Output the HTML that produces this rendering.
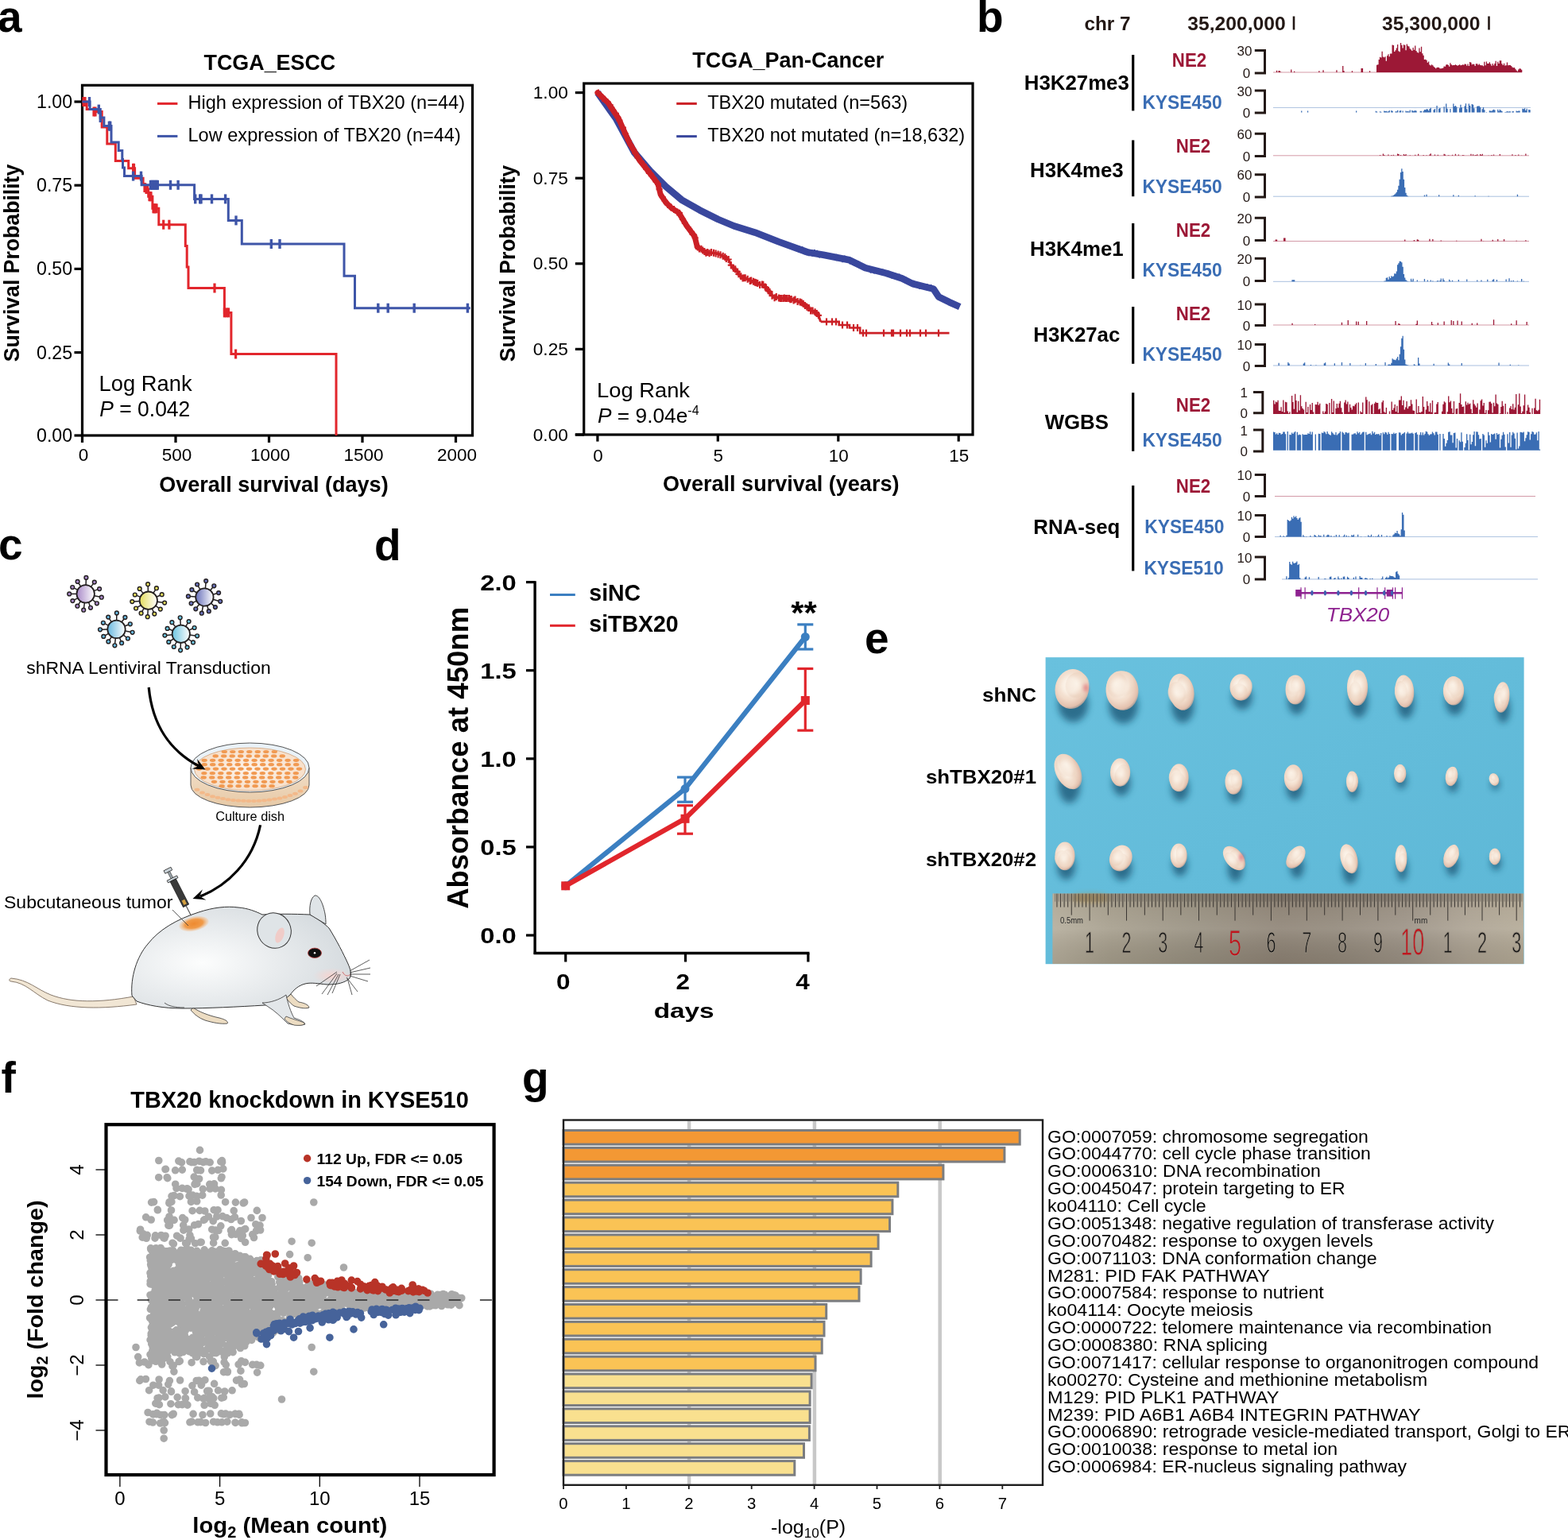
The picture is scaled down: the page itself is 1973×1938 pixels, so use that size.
<!DOCTYPE html>
<html><head><meta charset="utf-8"><title>Figure</title>
<style>html,body{margin:0;padding:0;background:#fff;overflow:hidden;} svg{display:block;} text{font-family:"Liberation Sans", Arial, Helvetica, sans-serif;}</style>
</head><body>
<svg width="1973" height="1938" viewBox="0 0 1973 1938">
<rect width="1973" height="1938" fill="#fff"/>
<text x="-3.0" y="39.5" font-size="55" font-weight="bold">a</text>
<text x="339.4" y="87.6" font-size="28.2" font-weight="bold" text-anchor="middle" textLength="165.7" lengthAdjust="spacingAndGlyphs">TCGA_ESCC</text>
<rect x="103.5" y="107.3" width="491.0" height="440.7" fill="none" stroke="#000" stroke-width="3.2"/>
<line x1="93.5" y1="128.0" x2="103.5" y2="128.0" stroke="#000" stroke-width="3.2"/>
<text x="91.2" y="136.0" font-size="23.2" text-anchor="end" textLength="45.2" lengthAdjust="spacingAndGlyphs">1.00</text>
<line x1="93.5" y1="233.2" x2="103.5" y2="233.2" stroke="#000" stroke-width="3.2"/>
<text x="91.2" y="241.2" font-size="23.2" text-anchor="end" textLength="45.2" lengthAdjust="spacingAndGlyphs">0.75</text>
<line x1="93.5" y1="338.4" x2="103.5" y2="338.4" stroke="#000" stroke-width="3.2"/>
<text x="91.2" y="346.4" font-size="23.2" text-anchor="end" textLength="45.2" lengthAdjust="spacingAndGlyphs">0.50</text>
<line x1="93.5" y1="443.6" x2="103.5" y2="443.6" stroke="#000" stroke-width="3.2"/>
<text x="91.2" y="451.6" font-size="23.2" text-anchor="end" textLength="45.2" lengthAdjust="spacingAndGlyphs">0.25</text>
<line x1="93.5" y1="548.0" x2="103.5" y2="548.0" stroke="#000" stroke-width="3.2"/>
<text x="91.2" y="556.0" font-size="23.2" text-anchor="end" textLength="45.2" lengthAdjust="spacingAndGlyphs">0.00</text>
<line x1="103.5" y1="548.0" x2="103.5" y2="557.0" stroke="#000" stroke-width="3.2"/>
<text x="105.0" y="580.4" font-size="22.5" text-anchor="middle">0</text>
<line x1="221.0" y1="548.0" x2="221.0" y2="557.0" stroke="#000" stroke-width="3.2"/>
<text x="222.5" y="580.4" font-size="22.5" text-anchor="middle">500</text>
<line x1="338.5" y1="548.0" x2="338.5" y2="557.0" stroke="#000" stroke-width="3.2"/>
<text x="340.0" y="580.4" font-size="22.5" text-anchor="middle">1000</text>
<line x1="456.0" y1="548.0" x2="456.0" y2="557.0" stroke="#000" stroke-width="3.2"/>
<text x="457.5" y="580.4" font-size="22.5" text-anchor="middle">1500</text>
<line x1="573.5" y1="548.0" x2="573.5" y2="557.0" stroke="#000" stroke-width="3.2"/>
<text x="575.0" y="580.4" font-size="22.5" text-anchor="middle">2000</text>
<text x="344.4" y="618.8" font-size="28.5" font-weight="bold" text-anchor="middle" textLength="288.5" lengthAdjust="spacingAndGlyphs">Overall survival (days)</text>
<text x="24.2" y="331.0" font-size="28.5" font-weight="bold" text-anchor="middle" textLength="248.5" lengthAdjust="spacingAndGlyphs" transform="rotate(-90 24.2 331.0)">Survival Probability</text>
<line x1="198.0" y1="130.4" x2="223.4" y2="130.4" stroke="#e2262c" stroke-width="3"/>
<line x1="198.0" y1="171.4" x2="223.4" y2="171.4" stroke="#3e55a8" stroke-width="3"/>
<text x="236.5" y="137.2" font-size="23.7" textLength="348.5" lengthAdjust="spacingAndGlyphs">High expression of TBX20 (n=44)</text>
<text x="236.5" y="178.0" font-size="23.7" textLength="343.3" lengthAdjust="spacingAndGlyphs">Low expression of TBX20 (n=44)</text>
<text x="124.6" y="491.8" font-size="27.6" textLength="117.0" lengthAdjust="spacingAndGlyphs">Log Rank</text>
<text x="125.3" y="524.0" font-size="27.6" textLength="114.0" lengthAdjust="spacingAndGlyphs"><tspan font-style="italic">P</tspan> = 0.042</text>
<path d="M103.5,128 H109.2 V137.6 H121.0 V140.5 H128.2 V160.0 H134.8 V180.9 H145.3 V202.6 H161.7 V211.8 H169.6 V224.2 H180.1 V232.0 H183.0 V238.0 H186.7 V247.2 H191.9 V262.3 H199.8 V282.7 H233.3 V309.6 H235.2 V336.0 H237.0 V362.5 H282.4 V393.4 H290.9 V445.5 H423.0 V548.0" stroke="#e2262c" stroke-width="3" fill="none"/>
<line x1="105.0" y1="122.0" x2="105.0" y2="134.0" stroke="#e2262c" stroke-width="3.2"/>
<line x1="107.0" y1="122.0" x2="107.0" y2="134.0" stroke="#e2262c" stroke-width="3.2"/>
<line x1="118.0" y1="134.5" x2="118.0" y2="146.5" stroke="#e2262c" stroke-width="3.2"/>
<line x1="120.0" y1="134.5" x2="120.0" y2="146.5" stroke="#e2262c" stroke-width="3.2"/>
<line x1="167.6" y1="205.8" x2="167.6" y2="217.8" stroke="#e2262c" stroke-width="3.2"/>
<line x1="168.5" y1="205.8" x2="168.5" y2="217.8" stroke="#e2262c" stroke-width="3.2"/>
<line x1="182.0" y1="230.0" x2="182.0" y2="242.0" stroke="#e2262c" stroke-width="3.2"/>
<line x1="184.0" y1="232.0" x2="184.0" y2="244.0" stroke="#e2262c" stroke-width="3.2"/>
<line x1="185.5" y1="232.0" x2="185.5" y2="244.0" stroke="#e2262c" stroke-width="3.2"/>
<line x1="188.0" y1="241.2" x2="188.0" y2="253.2" stroke="#e2262c" stroke-width="3.2"/>
<line x1="189.0" y1="241.2" x2="189.0" y2="253.2" stroke="#e2262c" stroke-width="3.2"/>
<line x1="190.0" y1="241.2" x2="190.0" y2="253.2" stroke="#e2262c" stroke-width="3.2"/>
<line x1="193.0" y1="256.3" x2="193.0" y2="268.3" stroke="#e2262c" stroke-width="3.2"/>
<line x1="194.0" y1="256.3" x2="194.0" y2="268.3" stroke="#e2262c" stroke-width="3.2"/>
<line x1="195.5" y1="256.3" x2="195.5" y2="268.3" stroke="#e2262c" stroke-width="3.2"/>
<line x1="197.0" y1="256.3" x2="197.0" y2="268.3" stroke="#e2262c" stroke-width="3.2"/>
<line x1="205.7" y1="276.7" x2="205.7" y2="288.7" stroke="#e2262c" stroke-width="3.2"/>
<line x1="212.9" y1="276.7" x2="212.9" y2="288.7" stroke="#e2262c" stroke-width="3.2"/>
<line x1="270.0" y1="356.5" x2="270.0" y2="368.5" stroke="#e2262c" stroke-width="3.2"/>
<line x1="282.4" y1="387.4" x2="282.4" y2="399.4" stroke="#e2262c" stroke-width="3.2"/>
<line x1="285.0" y1="387.4" x2="285.0" y2="399.4" stroke="#e2262c" stroke-width="3.2"/>
<line x1="287.5" y1="387.4" x2="287.5" y2="399.4" stroke="#e2262c" stroke-width="3.2"/>
<line x1="296.6" y1="439.5" x2="296.6" y2="451.5" stroke="#e2262c" stroke-width="3.2"/>
<path d="M103.5,128 H113.1 V137.6 H126.3 V148.0 H130.9 V158.6 H140.0 V178.9 H149.2 V189.4 H153.8 V200.6 H154.5 V211.1 H156.5 V221.6 H178.1 V232.8 H244.6 V250.4 H287.3 V277.4 H304.3 V307.0 H433.0 V347.3 H446.5 V387.7 H591.8" stroke="#3e55a8" stroke-width="3" fill="none"/>
<line x1="112.5" y1="122.0" x2="112.5" y2="134.0" stroke="#3e55a8" stroke-width="3.4"/>
<line x1="124.3" y1="131.6" x2="124.3" y2="143.6" stroke="#3e55a8" stroke-width="3.4"/>
<line x1="126.3" y1="142.0" x2="126.3" y2="154.0" stroke="#3e55a8" stroke-width="3.4"/>
<line x1="137.4" y1="152.6" x2="137.4" y2="164.6" stroke="#3e55a8" stroke-width="3.4"/>
<line x1="138.7" y1="152.6" x2="138.7" y2="164.6" stroke="#3e55a8" stroke-width="3.4"/>
<line x1="167.6" y1="215.6" x2="167.6" y2="227.6" stroke="#3e55a8" stroke-width="3.4"/>
<line x1="177.5" y1="215.6" x2="177.5" y2="227.6" stroke="#3e55a8" stroke-width="3.4"/>
<line x1="189.5" y1="226.8" x2="189.5" y2="238.8" stroke="#3e55a8" stroke-width="3.4"/>
<line x1="191.0" y1="226.8" x2="191.0" y2="238.8" stroke="#3e55a8" stroke-width="3.4"/>
<line x1="192.5" y1="226.8" x2="192.5" y2="238.8" stroke="#3e55a8" stroke-width="3.4"/>
<line x1="194.0" y1="226.8" x2="194.0" y2="238.8" stroke="#3e55a8" stroke-width="3.4"/>
<line x1="195.5" y1="226.8" x2="195.5" y2="238.8" stroke="#3e55a8" stroke-width="3.4"/>
<line x1="197.0" y1="226.8" x2="197.0" y2="238.8" stroke="#3e55a8" stroke-width="3.4"/>
<line x1="198.3" y1="226.8" x2="198.3" y2="238.8" stroke="#3e55a8" stroke-width="3.4"/>
<line x1="214.5" y1="226.8" x2="214.5" y2="238.8" stroke="#3e55a8" stroke-width="3.4"/>
<line x1="224.1" y1="226.8" x2="224.1" y2="238.8" stroke="#3e55a8" stroke-width="3.4"/>
<line x1="245.7" y1="244.4" x2="245.7" y2="256.4" stroke="#3e55a8" stroke-width="3.4"/>
<line x1="251.7" y1="244.4" x2="251.7" y2="256.4" stroke="#3e55a8" stroke-width="3.4"/>
<line x1="253.0" y1="244.4" x2="253.0" y2="256.4" stroke="#3e55a8" stroke-width="3.4"/>
<line x1="266.5" y1="244.4" x2="266.5" y2="256.4" stroke="#3e55a8" stroke-width="3.4"/>
<line x1="283.6" y1="244.4" x2="283.6" y2="256.4" stroke="#3e55a8" stroke-width="3.4"/>
<line x1="297.0" y1="271.4" x2="297.0" y2="283.4" stroke="#3e55a8" stroke-width="3.4"/>
<line x1="341.3" y1="301.0" x2="341.3" y2="313.0" stroke="#3e55a8" stroke-width="3.4"/>
<line x1="352.0" y1="301.0" x2="352.0" y2="313.0" stroke="#3e55a8" stroke-width="3.4"/>
<line x1="475.8" y1="381.7" x2="475.8" y2="393.7" stroke="#3e55a8" stroke-width="3.4"/>
<line x1="488.2" y1="381.7" x2="488.2" y2="393.7" stroke="#3e55a8" stroke-width="3.4"/>
<line x1="521.2" y1="381.7" x2="521.2" y2="393.7" stroke="#3e55a8" stroke-width="3.4"/>
<line x1="588.4" y1="381.7" x2="588.4" y2="393.7" stroke="#3e55a8" stroke-width="3.4"/>
<text x="991.8" y="85.2" font-size="27.3" font-weight="bold" text-anchor="middle" textLength="241.0" lengthAdjust="spacingAndGlyphs">TCGA_Pan-Cancer</text>
<rect x="734.7" y="105.0" width="489.3" height="442.0" fill="none" stroke="#000" stroke-width="3.2"/>
<line x1="723.8" y1="547.0" x2="734.7" y2="547.0" stroke="#000" stroke-width="3.2"/>
<line x1="723.8" y1="116.6" x2="734.7" y2="116.6" stroke="#000" stroke-width="3.2"/>
<text x="714.8" y="124.2" font-size="22.4" text-anchor="end" textLength="44.0" lengthAdjust="spacingAndGlyphs">1.00</text>
<line x1="723.8" y1="224.2" x2="734.7" y2="224.2" stroke="#000" stroke-width="3.2"/>
<text x="714.8" y="231.8" font-size="22.4" text-anchor="end" textLength="44.0" lengthAdjust="spacingAndGlyphs">0.75</text>
<line x1="723.8" y1="331.8" x2="734.7" y2="331.8" stroke="#000" stroke-width="3.2"/>
<text x="714.8" y="339.4" font-size="22.4" text-anchor="end" textLength="44.0" lengthAdjust="spacingAndGlyphs">0.50</text>
<line x1="723.8" y1="439.4" x2="734.7" y2="439.4" stroke="#000" stroke-width="3.2"/>
<text x="714.8" y="447.0" font-size="22.4" text-anchor="end" textLength="44.0" lengthAdjust="spacingAndGlyphs">0.25</text>
<line x1="723.8" y1="547.0" x2="734.7" y2="547.0" stroke="#000" stroke-width="3.2"/>
<text x="714.8" y="554.6" font-size="22.4" text-anchor="end" textLength="44.0" lengthAdjust="spacingAndGlyphs">0.00</text>
<line x1="751.9" y1="547.0" x2="751.9" y2="555.6" stroke="#000" stroke-width="3.2"/>
<text x="752.4" y="581.3" font-size="22.4" text-anchor="middle">0</text>
<line x1="903.3" y1="547.0" x2="903.3" y2="555.6" stroke="#000" stroke-width="3.2"/>
<text x="903.8" y="581.3" font-size="22.4" text-anchor="middle">5</text>
<line x1="1054.8" y1="547.0" x2="1054.8" y2="555.6" stroke="#000" stroke-width="3.2"/>
<text x="1055.3" y="581.3" font-size="22.4" text-anchor="middle">10</text>
<line x1="1206.2" y1="547.0" x2="1206.2" y2="555.6" stroke="#000" stroke-width="3.2"/>
<text x="1206.8" y="581.3" font-size="22.4" text-anchor="middle">15</text>
<text x="982.7" y="618.4" font-size="28.3" font-weight="bold" text-anchor="middle" textLength="297.5" lengthAdjust="spacingAndGlyphs">Overall survival (years)</text>
<text x="647.6" y="331.4" font-size="28.5" font-weight="bold" text-anchor="middle" textLength="247.5" lengthAdjust="spacingAndGlyphs" transform="rotate(-90 647.6 331.4)">Survival Probability</text>
<line x1="851.2" y1="130.4" x2="876.8" y2="130.4" stroke="#cb2026" stroke-width="3"/>
<line x1="851.2" y1="171.6" x2="876.8" y2="171.6" stroke="#39479d" stroke-width="3"/>
<text x="890.2" y="136.8" font-size="24.0" textLength="252.0" lengthAdjust="spacingAndGlyphs">TBX20 mutated (n=563)</text>
<text x="890.2" y="177.8" font-size="24.0" textLength="324.0" lengthAdjust="spacingAndGlyphs">TBX20 not mutated (n=18,632)</text>
<text x="751.0" y="500.1" font-size="26.3" textLength="117.0" lengthAdjust="spacingAndGlyphs">Log Rank</text>
<text x="752.0" y="531.5" font-size="26.3"><tspan font-style="italic">P</tspan> = 9.04e<tspan dy="-9.5" font-size="16">-4</tspan></text>
<polyline points="751.9,116.6 775.0,149.0 798.2,191.9 818.0,215.0 837.8,234.8 857.6,251.4 880.7,264.6 903.8,276.1 923.6,284.4 950.0,292.6 979.8,304.2 1016.1,317.4 1035.9,320.7 1069.0,327.3 1088.8,337.2 1115.2,343.8 1135.0,350.4 1148.2,357.0 1174.6,363.6 1181.2,373.6 1194.5,380.2 1207.7,386.1" fill="none" stroke="#39479d" stroke-width="8.6" stroke-linejoin="round"/>
<polyline points="751.9,116.6 765.1,129.2 778.3,149.0 791.5,178.7 804.8,201.8 818.0,218.3 827.9,231.5 831.2,244.8 837.8,254.7 844.4,261.3 854.3,267.9 864.2,284.4 874.1,297.6 877.4,310.8" fill="none" stroke="#cb2026" stroke-width="7" stroke-linejoin="round" stroke-linecap="round"/>
<polyline points="874.1,297.6 877.4,310.8 887.3,317.4 903.8,319.1 917.0,327.3 920.3,333.9 933.5,348.8 950.0,355.4 963.3,360.3 973.2,373.6 996.3,376.9 1009.5,380.2 1019.4,390.1 1029.3,395.0 1032.6,404.9" fill="none" stroke="#cb2026" stroke-width="3" stroke-linejoin="round"/>
<polyline points="1032.6,404.9 1055.7,404.9 1055.7,409.0 1069.0,409.0 1069.0,412.5 1082.2,412.5 1082.2,419.1 1194.5,419.1" fill="none" stroke="#cb2026" stroke-width="2.6"/>
<path d="M749.0,117.1h8M753.0,112.6v9M751.2,119.4h8M755.2,114.9v9M754.3,123.7h8M758.3,119.2v9M757.0,125.3h8M761.0,120.8v9M760.3,128.5h8M764.3,124.0v9M763.6,132.0h8M767.6,127.5v9M765.3,135.4h8M769.3,130.9v9M766.9,138.0h8M770.9,133.5v9M770.9,142.9h8M774.9,138.4v9M773.2,147.5h8M777.2,143.0v9M775.4,151.7h8M779.4,147.2v9M779.9,160.6h8M783.9,156.1v9M782.8,168.3h8M786.8,163.8v9M786.8,177.0h8M790.8,172.5v9M789.7,182.9h8M793.7,178.4v9M793.1,188.2h8M797.1,183.7v9M795.1,192.3h8M799.1,187.8v9M798.5,198.3h8M802.5,193.8v9M802.6,203.1h8M806.6,198.6v9M805.7,207.0h8M809.7,202.5v9M809.4,212.9h8M813.4,208.4v9M812.9,217.8h8M816.9,213.3v9M814.6,218.6h8M818.6,214.1v9M818.4,224.0h8M822.4,219.5v9M821.6,228.7h8M825.6,224.2v9M824.0,231.7h8M828.0,227.2v9M825.6,238.2h8M829.6,233.7v9M829.7,248.2h8M833.7,243.7v9M832.6,252.7h8M836.6,248.2v9M836.3,257.4h8M840.3,252.9v9M840.4,260.9h8M844.4,256.4v9M844.1,263.5h8M848.1,259.0v9M848.3,267.1h8M852.3,262.6v9M851.0,268.2h8M855.0,263.7v9M854.9,275.8h8M858.9,271.3v9M857.8,280.8h8M861.8,276.3v9M862.1,286.5h8M866.1,282.0v9M866.2,291.9h8M870.2,287.4v9M867.6,294.9h8M871.6,290.4v9M869.1,295.7h8M873.1,291.2v9M870.7,299.4h8M874.7,294.9v9M873.8,311.0h8M877.8,306.5v9M875.9,312.9h8M879.9,308.4v9M878.4,313.3h8M882.4,308.8v9M880.2,315.0h8M884.2,310.5v9M882.4,316.5h8M886.4,312.0v9M884.4,318.2h8M888.4,313.7v9M886.3,317.6h8M890.3,313.1v9M888.6,318.7h8M892.6,314.2v9M891.0,317.5h8M895.0,313.0v9M894.0,318.2h8M898.0,313.7v9M896.6,319.1h8M900.6,314.6v9M899.6,319.9h8M903.6,315.4v9M902.5,320.7h8M906.5,316.2v9M905.7,322.2h8M909.7,317.7v9M908.3,323.6h8M912.3,319.1v9M909.8,325.4h8M913.8,320.9v9M912.7,326.5h8M916.7,322.0v9M915.8,333.6h8M919.8,329.1v9M918.9,337.5h8M922.9,333.0v9M921.2,338.8h8M925.2,334.3v9M923.8,341.9h8M927.8,337.4v9M925.4,344.8h8M929.4,340.3v9M928.3,347.7h8M932.3,343.2v9M930.6,349.9h8M934.6,345.4v9M932.4,349.7h8M936.4,345.2v9M933.7,349.8h8M937.7,345.3v9M936.7,351.2h8M940.7,346.7v9M939.8,353.5h8M943.8,349.0v9M941.2,353.0h8M945.2,348.5v9M944.0,354.3h8M948.0,349.8v9M946.0,355.2h8M950.0,350.7v9M947.5,355.8h8M951.5,351.3v9M949.3,356.4h8M953.3,351.9v9M952.1,358.5h8M956.1,354.0v9M955.0,358.0h8M959.0,353.5v9M956.3,358.2h8M960.3,353.7v9M958.7,361.0h8M962.7,356.5v9M960.0,362.0h8M964.0,357.5v9M962.6,365.8h8M966.6,361.3v9M964.5,367.2h8M968.5,362.7v9M967.5,372.2h8M971.5,367.7v9M970.6,374.7h8M974.6,370.2v9M972.8,373.6h8M976.8,369.1v9M976.0,375.1h8M980.0,370.6v9M977.9,375.5h8M981.9,371.0v9M979.2,375.4h8M983.2,370.9v9M981.6,375.4h8M985.6,370.9v9M982.9,375.1h8M986.9,370.6v9M984.5,375.5h8M988.5,371.0v9M986.5,375.5h8M990.5,371.0v9M988.9,375.6h8M992.9,371.1v9M990.4,376.8h8M994.4,372.3v9M991.7,376.4h8M995.7,371.9v9M994.6,378.1h8M998.6,373.6v9M996.5,377.0h8M1000.5,372.5v9M999.6,379.5h8M1003.6,375.0v9M1002.6,379.9h8M1006.6,375.4v9M1004.5,380.8h8M1008.5,376.3v9M1006.7,382.2h8M1010.7,377.7v9M1008.9,384.4h8M1012.9,379.9v9M1011.4,386.2h8M1015.4,381.7v9M1013.8,387.5h8M1017.8,383.0v9M1016.1,390.9h8M1020.1,386.4v9M1018.5,391.0h8M1022.5,386.5v9M1021.6,392.8h8M1025.6,388.3v9M1023.8,394.6h8M1027.8,390.1v9M1025.9,396.8h8M1029.9,392.3v9" stroke="#cb2026" stroke-width="2.2" fill="none"/>
<path d="M1001.9,313.5h7M1005.4,309.3v8.4M1006.1,314.5h7M1009.6,310.3v8.4M1008.7,316.1h7M1012.2,311.9v8.4M1014.2,318.0h7M1017.7,313.8v8.4M1018.8,318.6h7M1022.3,314.4v8.4M1021.5,318.1h7M1025.0,313.9v8.4M1024.6,318.9h7M1028.1,314.7v8.4M1027.6,320.3h7M1031.1,316.1v8.4M1049.1,324.0h7M1052.6,319.8v8.4M1056.7,326.1h7M1060.2,321.9v8.4M1059.2,325.7h7M1062.7,321.5v8.4M1066.1,328.2h7M1069.6,324.0v8.4M1069.4,329.6h7M1072.9,325.4v8.4M1071.7,330.9h7M1075.2,326.7v8.4M1076.7,332.7h7M1080.2,328.5v8.4M1092.1,339.6h7M1095.6,335.4v8.4M1096.4,340.4h7M1099.9,336.2v8.4M1107.2,342.7h7M1110.7,338.5v8.4M1114.7,344.9h7M1118.2,340.7v8.4M1118.7,346.3h7M1122.2,342.1v8.4M1123.3,347.9h7M1126.8,343.7v8.4M1128.1,348.7h7M1131.6,344.5v8.4M1136.2,352.7h7M1139.7,348.5v8.4M1146.1,357.0h7M1149.6,352.8v8.4M1153.5,359.6h7M1157.0,355.4v8.4M1163.1,361.2h7M1166.6,357.0v8.4M1168.0,362.3h7M1171.5,358.1v8.4M1176.0,370.5h7M1179.5,366.3v8.4" stroke="#39479d" stroke-width="2" fill="none"/>
<line x1="1040.0" y1="400.4" x2="1040.0" y2="409.4" stroke="#cb2026" stroke-width="2.2"/>
<line x1="1047.0" y1="400.4" x2="1047.0" y2="409.4" stroke="#cb2026" stroke-width="2.2"/>
<line x1="1052.0" y1="400.4" x2="1052.0" y2="409.4" stroke="#cb2026" stroke-width="2.2"/>
<line x1="1060.0" y1="404.5" x2="1060.0" y2="413.5" stroke="#cb2026" stroke-width="2.2"/>
<line x1="1066.0" y1="404.5" x2="1066.0" y2="413.5" stroke="#cb2026" stroke-width="2.2"/>
<line x1="1074.0" y1="408.0" x2="1074.0" y2="417.0" stroke="#cb2026" stroke-width="2.2"/>
<line x1="1079.0" y1="408.0" x2="1079.0" y2="417.0" stroke="#cb2026" stroke-width="2.2"/>
<line x1="1086.0" y1="414.6" x2="1086.0" y2="423.6" stroke="#cb2026" stroke-width="2.2"/>
<line x1="1090.0" y1="414.6" x2="1090.0" y2="423.6" stroke="#cb2026" stroke-width="2.2"/>
<line x1="1112.0" y1="414.6" x2="1112.0" y2="423.6" stroke="#cb2026" stroke-width="2.2"/>
<line x1="1122.0" y1="414.6" x2="1122.0" y2="423.6" stroke="#cb2026" stroke-width="2.2"/>
<line x1="1124.0" y1="414.6" x2="1124.0" y2="423.6" stroke="#cb2026" stroke-width="2.2"/>
<line x1="1133.0" y1="414.6" x2="1133.0" y2="423.6" stroke="#cb2026" stroke-width="2.2"/>
<line x1="1141.0" y1="414.6" x2="1141.0" y2="423.6" stroke="#cb2026" stroke-width="2.2"/>
<line x1="1145.0" y1="414.6" x2="1145.0" y2="423.6" stroke="#cb2026" stroke-width="2.2"/>
<line x1="1158.0" y1="414.6" x2="1158.0" y2="423.6" stroke="#cb2026" stroke-width="2.2"/>
<line x1="1165.0" y1="414.6" x2="1165.0" y2="423.6" stroke="#cb2026" stroke-width="2.2"/>
<line x1="1181.0" y1="414.6" x2="1181.0" y2="423.6" stroke="#cb2026" stroke-width="2.2"/>
<text x="1229.0" y="39.5" font-size="55" font-weight="bold">b</text>
<text x="1364.5" y="38.2" font-size="24.5" font-weight="bold" fill="#231815" textLength="58.1" lengthAdjust="spacingAndGlyphs">chr 7</text>
<text x="1494.2" y="38.2" font-size="24.5" font-weight="bold" fill="#231815" textLength="123.5" lengthAdjust="spacingAndGlyphs">35,200,000</text>
<text x="1739.0" y="38.2" font-size="24.5" font-weight="bold" fill="#231815" textLength="123.5" lengthAdjust="spacingAndGlyphs">35,300,000</text>
<line x1="1628.0" y1="20.5" x2="1628.0" y2="37.5" stroke="#231815" stroke-width="2.6"/>
<line x1="1873.5" y1="20.5" x2="1873.5" y2="37.5" stroke="#231815" stroke-width="2.6"/>
<text x="1354.8" y="113.2" font-size="25.8" font-weight="bold" text-anchor="middle">H3K27me3</text>
<line x1="1425.7" y1="69.0" x2="1425.7" y2="139.4" stroke="#000" stroke-width="3.2"/>
<text x="1354.8" y="223.3" font-size="25.8" font-weight="bold" text-anchor="middle">H3K4me3</text>
<line x1="1425.7" y1="176.4" x2="1425.7" y2="247.2" stroke="#000" stroke-width="3.2"/>
<text x="1354.8" y="321.5" font-size="25.8" font-weight="bold" text-anchor="middle">H3K4me1</text>
<line x1="1425.7" y1="281.0" x2="1425.7" y2="350.8" stroke="#000" stroke-width="3.2"/>
<text x="1354.8" y="430.3" font-size="25.8" font-weight="bold" text-anchor="middle">H3K27ac</text>
<line x1="1425.7" y1="386.0" x2="1425.7" y2="457.8" stroke="#000" stroke-width="3.2"/>
<text x="1354.8" y="539.6" font-size="25.8" font-weight="bold" text-anchor="middle">WGBS</text>
<line x1="1425.7" y1="494.2" x2="1425.7" y2="567.8" stroke="#000" stroke-width="3.2"/>
<text x="1354.8" y="672.0" font-size="25.8" font-weight="bold" text-anchor="middle">RNA-seq</text>
<line x1="1425.7" y1="611.0" x2="1425.7" y2="718.5" stroke="#000" stroke-width="3.2"/>
<text x="1496.5" y="83.5" font-size="23.2" font-weight="bold" text-anchor="middle" fill="#9c1836" textLength="43.3" lengthAdjust="spacingAndGlyphs">NE2</text>
<text x="1487.5" y="137.2" font-size="23.2" font-weight="bold" text-anchor="middle" fill="#3a6db4" textLength="100.2" lengthAdjust="spacingAndGlyphs">KYSE450</text>
<text x="1501.5" y="191.6" font-size="23.2" font-weight="bold" text-anchor="middle" fill="#9c1836" textLength="43.3" lengthAdjust="spacingAndGlyphs">NE2</text>
<text x="1487.5" y="242.6" font-size="23.2" font-weight="bold" text-anchor="middle" fill="#3a6db4" textLength="100.2" lengthAdjust="spacingAndGlyphs">KYSE450</text>
<text x="1501.5" y="298.2" font-size="23.2" font-weight="bold" text-anchor="middle" fill="#9c1836" textLength="43.3" lengthAdjust="spacingAndGlyphs">NE2</text>
<text x="1487.5" y="348.1" font-size="23.2" font-weight="bold" text-anchor="middle" fill="#3a6db4" textLength="100.2" lengthAdjust="spacingAndGlyphs">KYSE450</text>
<text x="1501.5" y="403.2" font-size="23.2" font-weight="bold" text-anchor="middle" fill="#9c1836" textLength="43.3" lengthAdjust="spacingAndGlyphs">NE2</text>
<text x="1487.5" y="454.2" font-size="23.2" font-weight="bold" text-anchor="middle" fill="#3a6db4" textLength="100.2" lengthAdjust="spacingAndGlyphs">KYSE450</text>
<text x="1501.5" y="517.5" font-size="23.2" font-weight="bold" text-anchor="middle" fill="#9c1836" textLength="43.3" lengthAdjust="spacingAndGlyphs">NE2</text>
<text x="1487.5" y="561.6" font-size="23.2" font-weight="bold" text-anchor="middle" fill="#3a6db4" textLength="100.2" lengthAdjust="spacingAndGlyphs">KYSE450</text>
<text x="1501.5" y="619.8" font-size="23.2" font-weight="bold" text-anchor="middle" fill="#9c1836" textLength="43.3" lengthAdjust="spacingAndGlyphs">NE2</text>
<text x="1490.3" y="670.8" font-size="23.2" font-weight="bold" text-anchor="middle" fill="#3a6db4" textLength="100.2" lengthAdjust="spacingAndGlyphs">KYSE450</text>
<text x="1489.5" y="723.4" font-size="23.2" font-weight="bold" text-anchor="middle" fill="#3a6db4" textLength="100.2" lengthAdjust="spacingAndGlyphs">KYSE510</text>
<path d="M1578.8,63.5 H1591.5 V91.9 H1578.8" stroke="#231815" stroke-width="3" fill="none"/>
<text x="1575.5" y="70.0" font-size="17" text-anchor="end" fill="#231815">30</text>
<text x="1573.2" y="97.9" font-size="17" text-anchor="end" fill="#231815">0</text>
<line x1="1602.0" y1="91.0" x2="1915.0" y2="91.0" stroke="#9c1836" stroke-width="0.8" opacity="0.55"/>
<path d="M1605.90,91.0v-2.14h1.30v2.14zM1608.50,91.0v-2.03h1.30v2.03zM1609.80,91.0v-1.73h1.30v1.73zM1611.10,91.0v-0.36h1.30v0.36zM1624.10,91.0v-3.43h1.30v3.43zM1628.00,91.0v-1.23h1.30v1.23zM1659.20,91.0v-1.67h1.30v1.67zM1664.40,91.0v-2.67h1.30v2.67zM1681.30,91.0v-2.81h1.30v2.81zM1689.10,91.0v-8.00h1.30v8.00zM1690.40,91.0v-1.85h1.30v1.85zM1700.80,91.0v-1.80h1.30v1.80zM1712.50,91.0v-5.00h1.30v5.00zM1713.80,91.0v-5.00h1.30v5.00zM1722.90,91.0v-1.68h1.30v1.68zM1732.00,91.0v-9.15h1.30v9.15zM1733.30,91.0v-9.77h1.30v9.77zM1734.60,91.0v-15.93h1.30v15.93zM1735.90,91.0v-19.18h1.30v19.18zM1737.20,91.0v-18.60h1.30v18.60zM1738.50,91.0v-26.23h1.30v26.23zM1739.80,91.0v-19.52h1.30v19.52zM1741.10,91.0v-18.68h1.30v18.68zM1742.40,91.0v-19.71h1.30v19.71zM1743.70,91.0v-14.16h1.30v14.16zM1745.00,91.0v-20.69h1.30v20.69zM1746.30,91.0v-22.78h1.30v22.78zM1747.60,91.0v-19.77h1.30v19.77zM1748.90,91.0v-23.57h1.30v23.57zM1750.20,91.0v-23.48h1.30v23.48zM1751.50,91.0v-34.57h1.30v34.57zM1752.80,91.0v-34.05h1.30v34.05zM1754.10,91.0v-25.91h1.30v25.91zM1755.40,91.0v-27.67h1.30v27.67zM1756.70,91.0v-30.55h1.30v30.55zM1758.00,91.0v-35.12h1.30v35.12zM1759.30,91.0v-26.76h1.30v26.76zM1760.60,91.0v-25.79h1.30v25.79zM1761.90,91.0v-36.90h1.30v36.90zM1763.20,91.0v-34.16h1.30v34.16zM1764.50,91.0v-30.48h1.30v30.48zM1765.80,91.0v-34.67h1.30v34.67zM1767.10,91.0v-34.29h1.30v34.29zM1768.40,91.0v-27.69h1.30v27.69zM1769.70,91.0v-35.60h1.30v35.60zM1771.00,91.0v-33.37h1.30v33.37zM1772.30,91.0v-32.42h1.30v32.42zM1773.60,91.0v-29.83h1.30v29.83zM1774.90,91.0v-28.45h1.30v28.45zM1776.20,91.0v-26.90h1.30v26.90zM1777.50,91.0v-31.01h1.30v31.01zM1778.80,91.0v-28.25h1.30v28.25zM1780.10,91.0v-33.59h1.30v33.59zM1781.40,91.0v-26.99h1.30v26.99zM1782.70,91.0v-25.19h1.30v25.19zM1784.00,91.0v-24.40h1.30v24.40zM1785.30,91.0v-30.50h1.30v30.50zM1786.60,91.0v-25.84h1.30v25.84zM1787.90,91.0v-32.13h1.30v32.13zM1789.20,91.0v-23.72h1.30v23.72zM1790.50,91.0v-21.21h1.30v21.21zM1791.80,91.0v-15.96h1.30v15.96zM1793.10,91.0v-16.27h1.30v16.27zM1794.40,91.0v-15.21h1.30v15.21zM1795.70,91.0v-12.24h1.30v12.24zM1797.00,91.0v-13.58h1.30v13.58zM1798.30,91.0v-9.48h1.30v9.48zM1799.60,91.0v-8.57h1.30v8.57zM1800.90,91.0v-9.82h1.30v9.82zM1802.20,91.0v-8.82h1.30v8.82zM1803.50,91.0v-7.34h1.30v7.34zM1804.80,91.0v-6.10h1.30v6.10zM1806.10,91.0v-4.73h1.30v4.73zM1807.40,91.0v-5.89h1.30v5.89zM1808.70,91.0v-6.30h1.30v6.30zM1810.00,91.0v-6.02h1.30v6.02zM1811.30,91.0v-4.63h1.30v4.63zM1812.60,91.0v-4.65h1.30v4.65zM1813.90,91.0v-5.04h1.30v5.04zM1815.20,91.0v-5.49h1.30v5.49zM1816.50,91.0v-7.46h1.30v7.46zM1817.80,91.0v-7.23h1.30v7.23zM1819.10,91.0v-9.38h1.30v9.38zM1820.40,91.0v-10.10h1.30v10.10zM1821.70,91.0v-8.90h1.30v8.90zM1823.00,91.0v-7.29h1.30v7.29zM1824.30,91.0v-11.82h1.30v11.82zM1825.60,91.0v-9.79h1.30v9.79zM1826.90,91.0v-8.77h1.30v8.77zM1828.20,91.0v-9.05h1.30v9.05zM1829.50,91.0v-8.95h1.30v8.95zM1830.80,91.0v-9.82h1.30v9.82zM1832.10,91.0v-9.12h1.30v9.12zM1833.40,91.0v-8.22h1.30v8.22zM1834.70,91.0v-8.98h1.30v8.98zM1836.00,91.0v-9.81h1.30v9.81zM1837.30,91.0v-8.80h1.30v8.80zM1838.60,91.0v-9.02h1.30v9.02zM1839.90,91.0v-9.64h1.30v9.64zM1841.20,91.0v-9.14h1.30v9.14zM1842.50,91.0v-10.48h1.30v10.48zM1843.80,91.0v-10.29h1.30v10.29zM1845.10,91.0v-8.30h1.30v8.30zM1846.40,91.0v-10.54h1.30v10.54zM1847.70,91.0v-7.93h1.30v7.93zM1849.00,91.0v-12.94h1.30v12.94zM1850.30,91.0v-12.29h1.30v12.29zM1851.60,91.0v-9.72h1.30v9.72zM1852.90,91.0v-10.48h1.30v10.48zM1854.20,91.0v-9.90h1.30v9.90zM1855.50,91.0v-8.03h1.30v8.03zM1856.80,91.0v-10.77h1.30v10.77zM1858.10,91.0v-10.74h1.30v10.74zM1859.40,91.0v-9.21h1.30v9.21zM1860.70,91.0v-10.38h1.30v10.38zM1862.00,91.0v-9.06h1.30v9.06zM1863.30,91.0v-8.77h1.30v8.77zM1864.60,91.0v-8.71h1.30v8.71zM1865.90,91.0v-7.72h1.30v7.72zM1867.20,91.0v-13.15h1.30v13.15zM1868.50,91.0v-8.80h1.30v8.80zM1869.80,91.0v-13.42h1.30v13.42zM1871.10,91.0v-11.03h1.30v11.03zM1872.40,91.0v-11.01h1.30v11.01zM1873.70,91.0v-12.64h1.30v12.64zM1875.00,91.0v-10.39h1.30v10.39zM1876.30,91.0v-8.20h1.30v8.20zM1877.60,91.0v-10.88h1.30v10.88zM1878.90,91.0v-8.67h1.30v8.67zM1880.20,91.0v-10.94h1.30v10.94zM1881.50,91.0v-14.21h1.30v14.21zM1882.80,91.0v-8.03h1.30v8.03zM1884.10,91.0v-13.30h1.30v13.30zM1885.40,91.0v-11.08h1.30v11.08zM1886.70,91.0v-14.63h1.30v14.63zM1888.00,91.0v-14.83h1.30v14.83zM1889.30,91.0v-10.87h1.30v10.87zM1890.60,91.0v-9.08h1.30v9.08zM1891.90,91.0v-11.13h1.30v11.13zM1893.20,91.0v-8.38h1.30v8.38zM1894.50,91.0v-8.77h1.30v8.77zM1895.80,91.0v-12.52h1.30v12.52zM1897.10,91.0v-8.67h1.30v8.67zM1898.40,91.0v-9.05h1.30v9.05zM1899.70,91.0v-9.01h1.30v9.01zM1901.00,91.0v-7.93h1.30v7.93zM1902.30,91.0v-6.58h1.30v6.58zM1903.60,91.0v-5.73h1.30v5.73zM1904.90,91.0v-6.04h1.30v6.04zM1906.20,91.0v-4.35h1.30v4.35zM1907.50,91.0v-2.41h1.30v2.41zM1908.80,91.0v-1.19h1.30v1.19zM1910.10,91.0v-3.49h1.30v3.49zM1911.40,91.0v-4.63h1.30v4.63zM1912.70,91.0v-4.42h1.30v4.42zM1914.00,91.0v-3.27h1.30v3.27z" stroke="none" stroke-width="1" fill="#9c1836"/>
<path d="M1578.8,114.1 H1591.5 V142.1 H1578.8" stroke="#231815" stroke-width="3" fill="none"/>
<text x="1575.5" y="120.6" font-size="17" text-anchor="end" fill="#231815">30</text>
<text x="1573.2" y="148.1" font-size="17" text-anchor="end" fill="#231815">0</text>
<line x1="1602.0" y1="135.4" x2="1926.0" y2="135.4" stroke="#3a6db4" stroke-width="0.8" opacity="0.55"/>
<path d="M1637.10,141.5v-2.00h1.30v2.00zM1644.90,141.5v-2.00h1.30v2.00zM1706.00,141.5v-2.00h1.30v2.00zM1730.70,141.5v-1.80h1.30v1.80zM1732.00,141.5v-0.94h1.30v0.94zM1735.90,141.5v-1.35h1.30v1.35zM1737.20,141.5v-0.87h1.30v0.87zM1741.10,141.5v-2.08h1.30v2.08zM1742.40,141.5v-1.39h1.30v1.39zM1743.70,141.5v-1.71h1.30v1.71zM1745.00,141.5v-1.11h1.30v1.11zM1746.30,141.5v-1.26h1.30v1.26zM1747.60,141.5v-2.62h1.30v2.62zM1750.20,141.5v-2.45h1.30v2.45zM1751.50,141.5v-1.78h1.30v1.78zM1755.40,141.5v-1.37h1.30v1.37zM1756.70,141.5v-1.24h1.30v1.24zM1758.00,141.5v-2.84h1.30v2.84zM1760.60,141.5v-2.01h1.30v2.01zM1761.90,141.5v-2.41h1.30v2.41zM1764.50,141.5v-2.01h1.30v2.01zM1768.40,141.5v-1.98h1.30v1.98zM1769.70,141.5v-1.35h1.30v1.35zM1771.00,141.5v-1.73h1.30v1.73zM1772.30,141.5v-1.07h1.30v1.07zM1773.60,141.5v-2.88h1.30v2.88zM1776.20,141.5v-2.65h1.30v2.65zM1777.50,141.5v-1.74h1.30v1.74zM1778.80,141.5v-1.98h1.30v1.98zM1780.10,141.5v-2.44h1.30v2.44zM1781.40,141.5v-2.09h1.30v2.09zM1786.60,141.5v-1.82h1.30v1.82zM1787.90,141.5v-1.75h1.30v1.75zM1790.50,141.5v-1.63h1.30v1.63zM1791.80,141.5v-3.47h1.30v3.47zM1793.10,141.5v-3.21h1.30v3.21zM1794.40,141.5v-4.34h1.30v4.34zM1795.70,141.5v-3.88h1.30v3.88zM1797.00,141.5v-2.37h1.30v2.37zM1798.30,141.5v-4.59h1.30v4.59zM1799.60,141.5v-5.68h1.30v5.68zM1803.50,141.5v-3.36h1.30v3.36zM1804.80,141.5v-4.62h1.30v4.62zM1807.40,141.5v-8.47h1.30v8.47zM1810.00,141.5v-4.81h1.30v4.81zM1811.30,141.5v-5.48h1.30v5.48zM1816.50,141.5v-7.21h1.30v7.21zM1819.10,141.5v-11.08h1.30v11.08zM1820.40,141.5v-4.79h1.30v4.79zM1824.30,141.5v-4.58h1.30v4.58zM1828.20,141.5v-11.12h1.30v11.12zM1829.50,141.5v-7.39h1.30v7.39zM1830.80,141.5v-8.38h1.30v8.38zM1832.10,141.5v-6.93h1.30v6.93zM1836.00,141.5v-5.34h1.30v5.34zM1837.30,141.5v-9.74h1.30v9.74zM1838.60,141.5v-6.23h1.30v6.23zM1842.50,141.5v-8.04h1.30v8.04zM1843.80,141.5v-11.26h1.30v11.26zM1845.10,141.5v-4.28h1.30v4.28zM1847.70,141.5v-11.01h1.30v11.01zM1849.00,141.5v-8.41h1.30v8.41zM1851.60,141.5v-10.59h1.30v10.59zM1852.90,141.5v-9.86h1.30v9.86zM1854.20,141.5v-5.33h1.30v5.33zM1858.10,141.5v-7.87h1.30v7.87zM1859.40,141.5v-7.94h1.30v7.94zM1860.70,141.5v-8.03h1.30v8.03zM1862.00,141.5v-6.51h1.30v6.51zM1864.60,141.5v-4.31h1.30v4.31zM1865.90,141.5v-6.56h1.30v6.56zM1867.20,141.5v-3.28h1.30v3.28zM1869.80,141.5v-0.45h1.30v0.45zM1873.70,141.5v-2.14h1.30v2.14zM1875.00,141.5v-1.93h1.30v1.93zM1876.30,141.5v-1.63h1.30v1.63zM1877.60,141.5v-3.07h1.30v3.07zM1878.90,141.5v-3.66h1.30v3.66zM1880.20,141.5v-3.12h1.30v3.12zM1884.10,141.5v-3.85h1.30v3.85zM1885.40,141.5v-1.67h1.30v1.67zM1886.70,141.5v-3.76h1.30v3.76zM1888.00,141.5v-2.42h1.30v2.42zM1889.30,141.5v-1.60h1.30v1.60zM1893.20,141.5v-0.59h1.30v0.59zM1894.50,141.5v-0.63h1.30v0.63zM1895.80,141.5v-1.44h1.30v1.44zM1897.10,141.5v-1.00h1.30v1.00zM1898.40,141.5v-1.30h1.30v1.30zM1899.70,141.5v-1.17h1.30v1.17zM1902.30,141.5v-1.27h1.30v1.27zM1903.60,141.5v-1.59h1.30v1.59zM1907.50,141.5v-2.10h1.30v2.10zM1908.80,141.5v-1.50h1.30v1.50zM1910.10,141.5v-2.02h1.30v2.02zM1911.40,141.5v-2.07h1.30v2.07zM1915.30,141.5v-4.82h1.30v4.82zM1916.60,141.5v-4.34h1.30v4.34zM1917.90,141.5v-5.15h1.30v5.15zM1919.20,141.5v-2.51h1.30v2.51zM1920.50,141.5v-4.66h1.30v4.66zM1923.10,141.5v-3.42h1.30v3.42zM1924.40,141.5v-3.30h1.30v3.30z" stroke="none" stroke-width="1" fill="#3a6db4"/>
<path d="M1578.8,168.3 H1591.5 V196.6 H1578.8" stroke="#231815" stroke-width="3" fill="none"/>
<text x="1575.5" y="174.8" font-size="17" text-anchor="end" fill="#231815">60</text>
<text x="1573.2" y="202.6" font-size="17" text-anchor="end" fill="#231815">0</text>
<line x1="1602.0" y1="195.8" x2="1924.0" y2="195.8" stroke="#9c1836" stroke-width="0.8" opacity="0.55"/>
<path d="M1735.90,195.8v-0.70h1.30v0.70zM1739.80,195.8v-2.41h1.30v2.41zM1741.10,195.8v-0.89h1.30v0.89zM1746.30,195.8v-1.18h1.30v1.18zM1750.20,195.8v-0.91h1.30v0.91zM1752.80,195.8v-1.03h1.30v1.03zM1758.00,195.8v-2.30h1.30v2.30zM1759.30,195.8v-1.87h1.30v1.87zM1761.90,195.8v-0.68h1.30v0.68zM1765.80,195.8v-1.79h1.30v1.79zM1767.10,195.8v-0.69h1.30v0.69zM1768.40,195.8v-1.89h1.30v1.89zM1773.60,195.8v-0.58h1.30v0.58zM1780.10,195.8v-1.07h1.30v1.07zM1784.00,195.8v-2.01h1.30v2.01zM1790.50,195.8v-0.80h1.30v0.80zM1794.40,195.8v-0.49h1.30v0.49zM1798.30,195.8v-1.38h1.30v1.38zM1799.60,195.8v-2.45h1.30v2.45zM1804.80,195.8v-1.25h1.30v1.25zM1808.70,195.8v-1.04h1.30v1.04zM1816.50,195.8v-2.10h1.30v2.10zM1817.80,195.8v-1.42h1.30v1.42zM1821.70,195.8v-0.62h1.30v0.62zM1823.00,195.8v-0.38h1.30v0.38zM1826.90,195.8v-0.99h1.30v0.99zM1830.80,195.8v-2.02h1.30v2.02zM1834.70,195.8v-1.19h1.30v1.19zM1839.90,195.8v-0.73h1.30v0.73zM1841.20,195.8v-0.47h1.30v0.47zM1850.30,195.8v-1.94h1.30v1.94zM1852.90,195.8v-1.49h1.30v1.49zM1855.50,195.8v-0.92h1.30v0.92zM1856.80,195.8v-0.51h1.30v0.51zM1858.10,195.8v-1.50h1.30v1.50zM1862.00,195.8v-1.70h1.30v1.70zM1863.30,195.8v-0.78h1.30v0.78zM1864.60,195.8v-1.99h1.30v1.99zM1872.40,195.8v-0.41h1.30v0.41zM1876.30,195.8v-0.77h1.30v0.77zM1878.90,195.8v-1.42h1.30v1.42zM1886.70,195.8v-1.82h1.30v1.82zM1902.30,195.8v-1.56h1.30v1.56zM1906.20,195.8v-0.71h1.30v0.71zM1910.10,195.8v-1.23h1.30v1.23zM1914.00,195.8v-0.32h1.30v0.32zM1919.20,195.8v-2.32h1.30v2.32z" stroke="none" stroke-width="1" fill="#9c1836"/>
<path d="M1578.8,219.8 H1591.5 V248.0 H1578.8" stroke="#231815" stroke-width="3" fill="none"/>
<text x="1575.5" y="226.3" font-size="17" text-anchor="end" fill="#231815">60</text>
<text x="1573.2" y="254.0" font-size="17" text-anchor="end" fill="#231815">0</text>
<line x1="1602.0" y1="247.2" x2="1924.0" y2="247.2" stroke="#3a6db4" stroke-width="0.8" opacity="0.55"/>
<path d="M1750.20,247.2v-0.35h1.30v0.35zM1751.50,247.2v-0.73h1.30v0.73zM1752.80,247.2v-1.39h1.30v1.39zM1754.10,247.2v-2.37h1.30v2.37zM1755.40,247.2v-3.71h1.30v3.71zM1756.70,247.2v-5.52h1.30v5.52zM1758.00,247.2v-8.35h1.30v8.35zM1759.30,247.2v-13.38h1.30v13.38zM1760.60,247.2v-21.38h1.30v21.38zM1761.90,247.2v-30.28h1.30v30.28zM1763.20,247.2v-34.85h1.30v34.85zM1764.50,247.2v-31.22h1.30v31.22zM1765.80,247.2v-21.40h1.30v21.40zM1767.10,247.2v-11.19h1.30v11.19zM1768.40,247.2v-4.50h1.30v4.50zM1769.70,247.2v-1.44h1.30v1.44zM1771.00,247.2v-0.39h1.30v0.39zM1791.80,247.2v-1.69h1.30v1.69zM1794.40,247.2v-2.51h1.30v2.51zM1810.00,247.2v-1.86h1.30v1.86zM1828.20,247.2v-1.91h1.30v1.91zM1834.70,247.2v-1.51h1.30v1.51zM1855.50,247.2v-1.05h1.30v1.05zM1872.40,247.2v-0.55h1.30v0.55zM1908.80,247.2v-2.46h1.30v2.46z" stroke="none" stroke-width="1" fill="#3a6db4"/>
<path d="M1578.8,274.3 H1591.5 V302.6 H1578.8" stroke="#231815" stroke-width="3" fill="none"/>
<text x="1575.5" y="280.8" font-size="17" text-anchor="end" fill="#231815">20</text>
<text x="1573.2" y="308.6" font-size="17" text-anchor="end" fill="#231815">0</text>
<line x1="1602.0" y1="303.5" x2="1924.0" y2="303.5" stroke="#9c1836" stroke-width="0.8" opacity="0.55"/>
<path d="M1604.60,303.5v-2.00h1.30v2.00zM1605.90,303.5v-2.00h1.30v2.00zM1615.00,303.5v-4.00h1.30v4.00zM1616.30,303.5v-4.00h1.30v4.00zM1767.10,303.5v-1.93h1.30v1.93zM1778.80,303.5v-1.59h1.30v1.59zM1782.70,303.5v-2.34h1.30v2.34zM1784.00,303.5v-1.65h1.30v1.65zM1798.30,303.5v-2.67h1.30v2.67zM1802.20,303.5v-2.53h1.30v2.53zM1812.60,303.5v-1.01h1.30v1.01zM1832.10,303.5v-0.78h1.30v0.78zM1863.30,303.5v-2.73h1.30v2.73zM1865.90,303.5v-0.32h1.30v0.32zM1877.60,303.5v-1.77h1.30v1.77zM1884.10,303.5v-2.60h1.30v2.60zM1891.90,303.5v-2.54h1.30v2.54zM1907.50,303.5v-0.77h1.30v0.77zM1919.20,303.5v-1.24h1.30v1.24z" stroke="none" stroke-width="1" fill="#9c1836"/>
<path d="M1578.8,325.2 H1591.5 V353.5 H1578.8" stroke="#231815" stroke-width="3" fill="none"/>
<text x="1575.5" y="331.7" font-size="17" text-anchor="end" fill="#231815">20</text>
<text x="1573.2" y="359.5" font-size="17" text-anchor="end" fill="#231815">0</text>
<line x1="1602.0" y1="354.3" x2="1924.0" y2="354.3" stroke="#3a6db4" stroke-width="0.8" opacity="0.55"/>
<path d="M1625.40,354.3v-2.00h1.30v2.00zM1626.70,354.3v-2.00h1.30v2.00zM1628.00,354.3v-2.00h1.30v2.00zM1741.10,354.3v-0.48h1.30v0.48zM1742.40,354.3v-0.77h1.30v0.77zM1743.70,354.3v-4.64h1.30v4.64zM1745.00,354.3v-5.02h1.30v5.02zM1746.30,354.3v-2.45h1.30v2.45zM1747.60,354.3v-6.32h1.30v6.32zM1748.90,354.3v-4.18h1.30v4.18zM1750.20,354.3v-7.06h1.30v7.06zM1751.50,354.3v-5.99h1.30v5.99zM1752.80,354.3v-6.87h1.30v6.87zM1754.10,354.3v-9.95h1.30v9.95zM1755.40,354.3v-9.77h1.30v9.77zM1756.70,354.3v-12.84h1.30v12.84zM1758.00,354.3v-21.09h1.30v21.09zM1759.30,354.3v-23.09h1.30v23.09zM1760.60,354.3v-25.56h1.30v25.56zM1761.90,354.3v-25.42h1.30v25.42zM1763.20,354.3v-24.03h1.30v24.03zM1764.50,354.3v-18.49h1.30v18.49zM1765.80,354.3v-9.26h1.30v9.26zM1767.10,354.3v-4.77h1.30v4.77zM1768.40,354.3v-2.14h1.30v2.14zM1769.70,354.3v-0.87h1.30v0.87zM1771.00,354.3v-0.35h1.30v0.35zM1774.90,354.3v-3.58h1.30v3.58zM1776.20,354.3v-0.84h1.30v0.84zM1777.50,354.3v-3.61h1.30v3.61zM1782.70,354.3v-1.84h1.30v1.84zM1791.80,354.3v-3.37h1.30v3.37zM1795.70,354.3v-1.76h1.30v1.76zM1799.60,354.3v-1.85h1.30v1.85zM1802.20,354.3v-0.77h1.30v0.77zM1807.40,354.3v-0.62h1.30v0.62zM1808.70,354.3v-1.31h1.30v1.31zM1811.30,354.3v-1.31h1.30v1.31zM1812.60,354.3v-3.90h1.30v3.90zM1815.20,354.3v-3.85h1.30v3.85zM1816.50,354.3v-1.54h1.30v1.54zM1823.00,354.3v-2.55h1.30v2.55zM1824.30,354.3v-0.83h1.30v0.83zM1826.90,354.3v-1.60h1.30v1.60zM1834.70,354.3v-2.41h1.30v2.41zM1845.10,354.3v-2.89h1.30v2.89zM1858.10,354.3v-1.68h1.30v1.68zM1863.30,354.3v-1.69h1.30v1.69zM1871.10,354.3v-2.62h1.30v2.62zM1877.60,354.3v-2.17h1.30v2.17zM1878.90,354.3v-3.13h1.30v3.13zM1882.80,354.3v-2.30h1.30v2.30zM1894.50,354.3v-2.74h1.30v2.74zM1898.40,354.3v-3.94h1.30v3.94zM1901.00,354.3v-1.10h1.30v1.10zM1903.60,354.3v-1.67h1.30v1.67zM1908.80,354.3v-0.90h1.30v0.90zM1914.00,354.3v-3.21h1.30v3.21zM1916.60,354.3v-0.52h1.30v0.52z" stroke="none" stroke-width="1" fill="#3a6db4"/>
<path d="M1578.8,383.0 H1591.5 V409.5 H1578.8" stroke="#231815" stroke-width="3" fill="none"/>
<text x="1575.5" y="389.5" font-size="17" text-anchor="end" fill="#231815">10</text>
<text x="1573.2" y="415.5" font-size="17" text-anchor="end" fill="#231815">0</text>
<line x1="1602.0" y1="409.0" x2="1924.0" y2="409.0" stroke="#9c1836" stroke-width="0.8" opacity="0.55"/>
<path d="M1625.40,409.0v-2.17h1.30v2.17zM1654.00,409.0v-1.00h1.30v1.00zM1687.80,409.0v-3.27h1.30v3.27zM1695.60,409.0v-5.89h1.30v5.89zM1706.00,409.0v-4.46h1.30v4.46zM1708.60,409.0v-4.27h1.30v4.27zM1719.00,409.0v-5.03h1.30v5.03zM1755.40,409.0v-5.06h1.30v5.06zM1759.30,409.0v-2.10h1.30v2.10zM1760.60,409.0v-1.33h1.30v1.33zM1781.40,409.0v-1.27h1.30v1.27zM1782.70,409.0v-5.42h1.30v5.42zM1800.90,409.0v-3.97h1.30v3.97zM1802.20,409.0v-0.83h1.30v0.83zM1808.70,409.0v-2.71h1.30v2.71zM1816.50,409.0v-4.51h1.30v4.51zM1825.60,409.0v-6.09h1.30v6.09zM1828.20,409.0v-5.04h1.30v5.04zM1833.40,409.0v-5.42h1.30v5.42zM1838.60,409.0v-4.40h1.30v4.40zM1851.60,409.0v-2.18h1.30v2.18zM1858.10,409.0v-2.57h1.30v2.57zM1878.90,409.0v-6.82h1.30v6.82zM1901.00,409.0v-1.84h1.30v1.84zM1907.50,409.0v-5.83h1.30v5.83zM1920.50,409.0v-3.88h1.30v3.88z" stroke="none" stroke-width="1" fill="#9c1836"/>
<path d="M1578.8,433.5 H1591.5 V460.5 H1578.8" stroke="#231815" stroke-width="3" fill="none"/>
<text x="1575.5" y="440.0" font-size="17" text-anchor="end" fill="#231815">10</text>
<text x="1573.2" y="466.5" font-size="17" text-anchor="end" fill="#231815">0</text>
<line x1="1602.0" y1="460.0" x2="1924.0" y2="460.0" stroke="#3a6db4" stroke-width="0.8" opacity="0.55"/>
<path d="M1608.50,460.0v-3.23h1.30v3.23zM1620.20,460.0v-3.99h1.30v3.99zM1621.50,460.0v-2.53h1.30v2.53zM1639.70,460.0v-2.39h1.30v2.39zM1641.00,460.0v-3.84h1.30v3.84zM1648.80,460.0v-1.02h1.30v1.02zM1655.30,460.0v-0.58h1.30v0.58zM1665.70,460.0v-2.87h1.30v2.87zM1667.00,460.0v-3.71h1.30v3.71zM1678.70,460.0v-2.85h1.30v2.85zM1687.80,460.0v-3.91h1.30v3.91zM1698.20,460.0v-2.91h1.30v2.91zM1711.20,460.0v-0.35h1.30v0.35zM1717.70,460.0v-2.93h1.30v2.93zM1730.70,460.0v-2.08h1.30v2.08zM1742.40,460.0v-3.95h1.30v3.95zM1746.30,460.0v-1.24h1.30v1.24zM1747.60,460.0v-1.38h1.30v1.38zM1748.90,460.0v-0.99h1.30v0.99zM1750.20,460.0v-3.19h1.30v3.19zM1751.50,460.0v-8.64h1.30v8.64zM1752.80,460.0v-7.58h1.30v7.58zM1754.10,460.0v-7.33h1.30v7.33zM1755.40,460.0v-6.81h1.30v6.81zM1756.70,460.0v-8.76h1.30v8.76zM1758.00,460.0v-10.95h1.30v10.95zM1759.30,460.0v-6.70h1.30v6.70zM1760.60,460.0v-14.34h1.30v14.34zM1761.90,460.0v-23.73h1.30v23.73zM1763.20,460.0v-34.30h1.30v34.30zM1764.50,460.0v-37.18h1.30v37.18zM1765.80,460.0v-20.18h1.30v20.18zM1767.10,460.0v-7.49h1.30v7.49zM1768.40,460.0v-1.60h1.30v1.60zM1769.70,460.0v-0.66h1.30v0.66zM1771.00,460.0v-0.45h1.30v0.45zM1778.80,460.0v-1.73h1.30v1.73zM1780.10,460.0v-0.56h1.30v0.56zM1784.00,460.0v-10.00h1.30v10.00zM1785.30,460.0v-2.57h1.30v2.57zM1803.50,460.0v-2.19h1.30v2.19zM1821.70,460.0v-3.49h1.30v3.49zM1823.00,460.0v-1.55h1.30v1.55zM1838.60,460.0v-3.06h1.30v3.06zM1885.40,460.0v-3.58h1.30v3.58zM1899.70,460.0v-1.22h1.30v1.22zM1910.10,460.0v-0.40h1.30v0.40z" stroke="none" stroke-width="1" fill="#3a6db4"/>
<path d="M1577,493.5 H1588.8 V519.8 H1577" stroke="#231815" stroke-width="3" fill="none"/>
<text x="1570.0" y="500.0" font-size="17" text-anchor="end" fill="#231815">1</text>
<text x="1570.0" y="525.8" font-size="17" text-anchor="end" fill="#231815">0</text>
<path d="M1602.00,521.0v-17.27h1.35v17.27zM1603.35,521.0v-12.49h1.35v12.49zM1604.70,521.0v-15.38h1.35v15.38zM1606.05,521.0v-14.69h1.35v14.69zM1607.40,521.0v-17.28h1.35v17.28zM1608.75,521.0v-4.37h1.35v4.37zM1610.10,521.0v-3.99h1.35v3.99zM1611.45,521.0v-8.72h1.35v8.72zM1612.80,521.0v-3.12h1.35v3.12zM1614.15,521.0v-17.49h1.35v17.49zM1615.50,521.0v-2.07h1.35v2.07zM1616.85,521.0v-15.26h1.35v15.26zM1618.20,521.0v-14.86h1.35v14.86zM1619.55,521.0v-3.44h1.35v3.44zM1620.90,521.0v-0.63h1.35v0.63zM1622.25,521.0v-2.81h1.35v2.81zM1624.95,521.0v-23.03h1.35v23.03zM1626.30,521.0v-15.05h1.35v15.05zM1627.65,521.0v-6.35h1.35v6.35zM1629.00,521.0v-25.25h1.35v25.25zM1630.35,521.0v-17.09h1.35v17.09zM1631.70,521.0v-2.36h1.35v2.36zM1633.05,521.0v-16.19h1.35v16.19zM1634.40,521.0v-4.43h1.35v4.43zM1635.75,521.0v-23.70h1.35v23.70zM1637.10,521.0v-9.77h1.35v9.77zM1638.45,521.0v-6.93h1.35v6.93zM1639.80,521.0v-5.59h1.35v5.59zM1642.50,521.0v-15.32h1.35v15.32zM1643.85,521.0v-1.96h1.35v1.96zM1645.20,521.0v-9.01h1.35v9.01zM1647.90,521.0v-12.08h1.35v12.08zM1649.25,521.0v-5.08h1.35v5.08zM1650.60,521.0v-13.95h1.35v13.95zM1651.95,521.0v-2.38h1.35v2.38zM1654.65,521.0v-11.94h1.35v11.94zM1656.00,521.0v-11.86h1.35v11.86zM1657.35,521.0v-15.24h1.35v15.24zM1658.70,521.0v-11.27h1.35v11.27zM1660.05,521.0v-13.21h1.35v13.21zM1664.10,521.0v-3.57h1.35v3.57zM1665.45,521.0v-0.71h1.35v0.71zM1666.80,521.0v-3.23h1.35v3.23zM1668.15,521.0v-12.90h1.35v12.90zM1669.50,521.0v-12.32h1.35v12.32zM1672.20,521.0v-13.98h1.35v13.98zM1674.90,521.0v-18.93h1.35v18.93zM1676.25,521.0v-2.00h1.35v2.00zM1677.60,521.0v-16.46h1.35v16.46zM1680.30,521.0v-7.09h1.35v7.09zM1681.65,521.0v-13.06h1.35v13.06zM1683.00,521.0v-7.63h1.35v7.63zM1684.35,521.0v-13.29h1.35v13.29zM1685.70,521.0v-16.15h1.35v16.15zM1687.05,521.0v-7.71h1.35v7.71zM1688.40,521.0v-2.30h1.35v2.30zM1691.10,521.0v-14.50h1.35v14.50zM1692.45,521.0v-17.45h1.35v17.45zM1693.80,521.0v-12.49h1.35v12.49zM1695.15,521.0v-15.41h1.35v15.41zM1696.50,521.0v-2.46h1.35v2.46zM1697.85,521.0v-12.28h1.35v12.28zM1699.20,521.0v-8.01h1.35v8.01zM1700.55,521.0v-5.39h1.35v5.39zM1701.90,521.0v-10.14h1.35v10.14zM1703.25,521.0v-9.87h1.35v9.87zM1704.60,521.0v-12.00h1.35v12.00zM1705.95,521.0v-13.79h1.35v13.79zM1708.65,521.0v-14.49h1.35v14.49zM1711.35,521.0v-3.55h1.35v3.55zM1712.70,521.0v-2.03h1.35v2.03zM1714.05,521.0v-14.53h1.35v14.53zM1718.10,521.0v-21.51h1.35v21.51zM1719.45,521.0v-17.64h1.35v17.64zM1722.15,521.0v-15.82h1.35v15.82zM1724.85,521.0v-11.30h1.35v11.30zM1726.20,521.0v-12.53h1.35v12.53zM1727.55,521.0v-0.50h1.35v0.50zM1728.90,521.0v-13.33h1.35v13.33zM1730.25,521.0v-15.22h1.35v15.22zM1731.60,521.0v-14.12h1.35v14.12zM1732.95,521.0v-13.88h1.35v13.88zM1734.30,521.0v-5.76h1.35v5.76zM1735.65,521.0v-6.65h1.35v6.65zM1737.00,521.0v-0.74h1.35v0.74zM1738.35,521.0v-14.76h1.35v14.76zM1739.70,521.0v-17.01h1.35v17.01zM1741.05,521.0v-2.83h1.35v2.83zM1742.40,521.0v-1.44h1.35v1.44zM1743.75,521.0v-7.98h1.35v7.98zM1747.80,521.0v-3.43h1.35v3.43zM1750.50,521.0v-15.40h1.35v15.40zM1751.85,521.0v-5.10h1.35v5.10zM1753.20,521.0v-7.58h1.35v7.58zM1754.55,521.0v-11.99h1.35v11.99zM1755.90,521.0v-2.96h1.35v2.96zM1757.25,521.0v-10.14h1.35v10.14zM1758.60,521.0v-1.53h1.35v1.53zM1759.95,521.0v-17.48h1.35v17.48zM1761.30,521.0v-17.54h1.35v17.54zM1762.65,521.0v-22.60h1.35v22.60zM1764.00,521.0v-10.96h1.35v10.96zM1765.35,521.0v-17.15h1.35v17.15zM1766.70,521.0v-5.39h1.35v5.39zM1768.05,521.0v-8.50h1.35v8.50zM1769.40,521.0v-16.05h1.35v16.05zM1770.75,521.0v-6.70h1.35v6.70zM1772.10,521.0v-9.54h1.35v9.54zM1773.45,521.0v-10.06h1.35v10.06zM1774.80,521.0v-17.87h1.35v17.87zM1776.15,521.0v-12.56h1.35v12.56zM1777.50,521.0v-4.53h1.35v4.53zM1778.85,521.0v-4.08h1.35v4.08zM1781.55,521.0v-18.59h1.35v18.59zM1782.90,521.0v-1.32h1.35v1.32zM1784.25,521.0v-9.91h1.35v9.91zM1785.60,521.0v-2.06h1.35v2.06zM1786.95,521.0v-1.84h1.35v1.84zM1788.30,521.0v-3.08h1.35v3.08zM1789.65,521.0v-21.95h1.35v21.95zM1791.00,521.0v-9.04h1.35v9.04zM1793.70,521.0v-5.40h1.35v5.40zM1795.05,521.0v-16.00h1.35v16.00zM1796.40,521.0v-10.13h1.35v10.13zM1797.75,521.0v-3.02h1.35v3.02zM1799.10,521.0v-13.75h1.35v13.75zM1800.45,521.0v-2.21h1.35v2.21zM1801.80,521.0v-17.06h1.35v17.06zM1804.50,521.0v-1.79h1.35v1.79zM1805.85,521.0v-2.03h1.35v2.03zM1807.20,521.0v-12.58h1.35v12.58zM1808.55,521.0v-15.09h1.35v15.09zM1813.95,521.0v-3.33h1.35v3.33zM1815.30,521.0v-12.37h1.35v12.37zM1816.65,521.0v-15.76h1.35v15.76zM1818.00,521.0v-14.55h1.35v14.55zM1820.70,521.0v-2.72h1.35v2.72zM1822.05,521.0v-22.41h1.35v22.41zM1823.40,521.0v-14.73h1.35v14.73zM1824.75,521.0v-16.56h1.35v16.56zM1826.10,521.0v-7.08h1.35v7.08zM1827.45,521.0v-1.37h1.35v1.37zM1828.80,521.0v-16.09h1.35v16.09zM1831.50,521.0v-6.50h1.35v6.50zM1832.85,521.0v-6.98h1.35v6.98zM1835.55,521.0v-14.01h1.35v14.01zM1836.90,521.0v-25.76h1.35v25.76zM1838.25,521.0v-12.08h1.35v12.08zM1839.60,521.0v-9.00h1.35v9.00zM1840.95,521.0v-9.51h1.35v9.51zM1842.30,521.0v-0.61h1.35v0.61zM1843.65,521.0v-15.70h1.35v15.70zM1845.00,521.0v-11.42h1.35v11.42zM1846.35,521.0v-14.32h1.35v14.32zM1847.70,521.0v-12.26h1.35v12.26zM1849.05,521.0v-13.31h1.35v13.31zM1850.40,521.0v-6.31h1.35v6.31zM1851.75,521.0v-1.09h1.35v1.09zM1853.10,521.0v-17.79h1.35v17.79zM1854.45,521.0v-12.38h1.35v12.38zM1855.80,521.0v-10.44h1.35v10.44zM1857.15,521.0v-8.16h1.35v8.16zM1858.50,521.0v-13.44h1.35v13.44zM1861.20,521.0v-5.55h1.35v5.55zM1862.55,521.0v-16.87h1.35v16.87zM1863.90,521.0v-18.50h1.35v18.50zM1865.25,521.0v-10.45h1.35v10.45zM1866.60,521.0v-13.94h1.35v13.94zM1867.95,521.0v-1.22h1.35v1.22zM1869.30,521.0v-4.97h1.35v4.97zM1872.00,521.0v-4.82h1.35v4.82zM1873.35,521.0v-15.19h1.35v15.19zM1874.70,521.0v-15.55h1.35v15.55zM1876.05,521.0v-13.21h1.35v13.21zM1877.40,521.0v-1.43h1.35v1.43zM1878.75,521.0v-14.14h1.35v14.14zM1880.10,521.0v-9.66h1.35v9.66zM1881.45,521.0v-24.61h1.35v24.61zM1882.80,521.0v-13.49h1.35v13.49zM1884.15,521.0v-12.22h1.35v12.22zM1886.85,521.0v-0.82h1.35v0.82zM1888.20,521.0v-8.90h1.35v8.90zM1889.55,521.0v-16.34h1.35v16.34zM1890.90,521.0v-10.15h1.35v10.15zM1893.60,521.0v-13.03h1.35v13.03zM1896.30,521.0v-2.57h1.35v2.57zM1899.00,521.0v-7.62h1.35v7.62zM1900.35,521.0v-9.99h1.35v9.99zM1901.70,521.0v-5.96h1.35v5.96zM1903.05,521.0v-12.81h1.35v12.81zM1904.40,521.0v-5.57h1.35v5.57zM1905.75,521.0v-8.16h1.35v8.16zM1907.10,521.0v-24.94h1.35v24.94zM1909.80,521.0v-11.80h1.35v11.80zM1911.15,521.0v-25.81h1.35v25.81zM1912.50,521.0v-9.62h1.35v9.62zM1913.85,521.0v-1.08h1.35v1.08zM1915.20,521.0v-3.27h1.35v3.27zM1916.55,521.0v-10.69h1.35v10.69zM1917.90,521.0v-24.59h1.35v24.59zM1920.60,521.0v-4.37h1.35v4.37zM1921.95,521.0v-11.45h1.35v11.45zM1923.30,521.0v-8.28h1.35v8.28zM1924.65,521.0v-1.94h1.35v1.94zM1927.35,521.0v-7.23h1.35v7.23zM1930.05,521.0v-7.38h1.35v7.38zM1931.40,521.0v-19.29h1.35v19.29zM1932.75,521.0v-4.72h1.35v4.72zM1934.10,521.0v-3.66h1.35v3.66zM1935.45,521.0v-5.37h1.35v5.37zM1936.80,521.0v-18.25h1.35v18.25z" stroke="none" stroke-width="1" fill="#9c1836"/>
<path d="M1577,541.0 H1588.8 V568.0 H1577" stroke="#231815" stroke-width="3" fill="none"/>
<text x="1570.0" y="547.5" font-size="17" text-anchor="end" fill="#231815">1</text>
<text x="1570.0" y="574.0" font-size="17" text-anchor="end" fill="#231815">0</text>
<path d="M1602.00,566.8v-23.35h1.35v23.35zM1603.35,566.8v-22.76h1.35v22.76zM1604.70,566.8v-20.41h1.35v20.41zM1606.05,566.8v-21.43h1.35v21.43zM1607.40,566.8v-19.81h1.35v19.81zM1608.75,566.8v-21.99h1.35v21.99zM1610.10,566.8v-21.90h1.35v21.90zM1611.45,566.8v-20.05h1.35v20.05zM1612.80,566.8v-20.80h1.35v20.80zM1614.15,566.8v-23.32h1.35v23.32zM1615.50,566.8v-23.32h1.35v23.32zM1616.85,566.8v-20.49h1.35v20.49zM1619.55,566.8v-23.87h1.35v23.87zM1622.25,566.8v-19.75h1.35v19.75zM1623.60,566.8v-19.49h1.35v19.49zM1624.95,566.8v-22.41h1.35v22.41zM1626.30,566.8v-20.70h1.35v20.70zM1627.65,566.8v-22.58h1.35v22.58zM1629.00,566.8v-23.90h1.35v23.90zM1631.70,566.8v-22.96h1.35v22.96zM1633.05,566.8v-19.19h1.35v19.19zM1634.40,566.8v-20.16h1.35v20.16zM1635.75,566.8v-19.52h1.35v19.52zM1638.45,566.8v-20.58h1.35v20.58zM1639.80,566.8v-19.60h1.35v19.60zM1641.15,566.8v-19.68h1.35v19.68zM1642.50,566.8v-19.89h1.35v19.89zM1643.85,566.8v-19.74h1.35v19.74zM1645.20,566.8v-21.50h1.35v21.50zM1646.55,566.8v-20.77h1.35v20.77zM1647.90,566.8v-23.59h1.35v23.59zM1649.25,566.8v-20.08h1.35v20.08zM1650.60,566.8v-23.42h1.35v23.42zM1654.65,566.8v-20.32h1.35v20.32zM1658.70,566.8v-21.04h1.35v21.04zM1660.05,566.8v-20.81h1.35v20.81zM1662.75,566.8v-22.27h1.35v22.27zM1664.10,566.8v-21.74h1.35v21.74zM1665.45,566.8v-23.91h1.35v23.91zM1666.80,566.8v-22.59h1.35v22.59zM1668.15,566.8v-20.59h1.35v20.59zM1669.50,566.8v-23.86h1.35v23.86zM1670.85,566.8v-20.93h1.35v20.93zM1672.20,566.8v-19.72h1.35v19.72zM1673.55,566.8v-19.03h1.35v19.03zM1674.90,566.8v-23.63h1.35v23.63zM1676.25,566.8v-22.05h1.35v22.05zM1677.60,566.8v-20.20h1.35v20.20zM1678.95,566.8v-19.58h1.35v19.58zM1680.30,566.8v-22.92h1.35v22.92zM1681.65,566.8v-19.25h1.35v19.25zM1683.00,566.8v-20.62h1.35v20.62zM1684.35,566.8v-21.74h1.35v21.74zM1685.70,566.8v-23.86h1.35v23.86zM1688.40,566.8v-23.27h1.35v23.27zM1689.75,566.8v-21.96h1.35v21.96zM1691.10,566.8v-20.17h1.35v20.17zM1692.45,566.8v-22.72h1.35v22.72zM1693.80,566.8v-22.56h1.35v22.56zM1695.15,566.8v-21.63h1.35v21.63zM1696.50,566.8v-22.39h1.35v22.39zM1700.55,566.8v-20.12h1.35v20.12zM1701.90,566.8v-20.32h1.35v20.32zM1703.25,566.8v-21.37h1.35v21.37zM1704.60,566.8v-21.61h1.35v21.61zM1705.95,566.8v-20.11h1.35v20.11zM1707.30,566.8v-23.64h1.35v23.64zM1708.65,566.8v-21.62h1.35v21.62zM1710.00,566.8v-23.07h1.35v23.07zM1711.35,566.8v-19.86h1.35v19.86zM1712.70,566.8v-21.30h1.35v21.30zM1714.05,566.8v-23.14h1.35v23.14zM1715.40,566.8v-23.34h1.35v23.34zM1718.10,566.8v-23.16h1.35v23.16zM1719.45,566.8v-19.62h1.35v19.62zM1720.80,566.8v-20.26h1.35v20.26zM1722.15,566.8v-20.78h1.35v20.78zM1723.50,566.8v-21.61h1.35v21.61zM1724.85,566.8v-19.44h1.35v19.44zM1726.20,566.8v-23.98h1.35v23.98zM1727.55,566.8v-21.25h1.35v21.25zM1728.90,566.8v-22.99h1.35v22.99zM1730.25,566.8v-19.75h1.35v19.75zM1731.60,566.8v-20.83h1.35v20.83zM1732.95,566.8v-20.19h1.35v20.19zM1734.30,566.8v-20.70h1.35v20.70zM1735.65,566.8v-19.09h1.35v19.09zM1737.00,566.8v-21.85h1.35v21.85zM1739.70,566.8v-22.59h1.35v22.59zM1741.05,566.8v-20.62h1.35v20.62zM1742.40,566.8v-23.17h1.35v23.17zM1743.75,566.8v-22.18h1.35v22.18zM1745.10,566.8v-20.01h1.35v20.01zM1746.45,566.8v-22.96h1.35v22.96zM1747.80,566.8v-20.86h1.35v20.86zM1750.50,566.8v-20.84h1.35v20.84zM1751.85,566.8v-20.48h1.35v20.48zM1753.20,566.8v-22.24h1.35v22.24zM1754.55,566.8v-20.76h1.35v20.76zM1755.90,566.8v-21.89h1.35v21.89zM1759.95,566.8v-22.56h1.35v22.56zM1761.30,566.8v-22.33h1.35v22.33zM1762.65,566.8v-19.35h1.35v19.35zM1764.00,566.8v-20.90h1.35v20.90zM1765.35,566.8v-21.48h1.35v21.48zM1766.70,566.8v-22.79h1.35v22.79zM1769.40,566.8v-21.31h1.35v21.31zM1770.75,566.8v-23.20h1.35v23.20zM1772.10,566.8v-21.37h1.35v21.37zM1773.45,566.8v-21.20h1.35v21.20zM1774.80,566.8v-21.56h1.35v21.56zM1776.15,566.8v-22.35h1.35v22.35zM1777.50,566.8v-21.01h1.35v21.01zM1780.20,566.8v-21.77h1.35v21.77zM1781.55,566.8v-22.85h1.35v22.85zM1782.90,566.8v-20.10h1.35v20.10zM1785.60,566.8v-19.51h1.35v19.51zM1786.95,566.8v-22.77h1.35v22.77zM1788.30,566.8v-19.28h1.35v19.28zM1789.65,566.8v-22.56h1.35v22.56zM1791.00,566.8v-19.27h1.35v19.27zM1792.35,566.8v-21.09h1.35v21.09zM1793.70,566.8v-23.99h1.35v23.99zM1795.05,566.8v-23.36h1.35v23.36zM1796.40,566.8v-20.67h1.35v20.67zM1797.75,566.8v-19.03h1.35v19.03zM1799.10,566.8v-20.37h1.35v20.37zM1800.45,566.8v-20.57h1.35v20.57zM1801.80,566.8v-23.29h1.35v23.29zM1803.15,566.8v-21.55h1.35v21.55zM1804.50,566.8v-19.26h1.35v19.26zM1805.85,566.8v-23.33h1.35v23.33zM1807.20,566.8v-23.28h1.35v23.28zM1808.55,566.8v-20.01h1.35v20.01zM1811.25,566.8v-20.87h1.35v20.87zM1815.30,566.8v-20.83h1.35v20.83zM1816.65,566.8v-14.71h1.35v14.71zM1818.00,566.8v-5.03h1.35v5.03zM1819.35,566.8v-9.04h1.35v9.04zM1820.70,566.8v-12.74h1.35v12.74zM1822.05,566.8v-23.01h1.35v23.01zM1823.40,566.8v-23.67h1.35v23.67zM1824.75,566.8v-19.29h1.35v19.29zM1826.10,566.8v-19.24h1.35v19.24zM1827.45,566.8v-9.54h1.35v9.54zM1828.80,566.8v-21.81h1.35v21.81zM1830.15,566.8v-22.37h1.35v22.37zM1831.50,566.8v-3.38h1.35v3.38zM1832.85,566.8v-14.69h1.35v14.69zM1835.55,566.8v-12.55h1.35v12.55zM1836.90,566.8v-10.54h1.35v10.54zM1838.25,566.8v-22.43h1.35v22.43zM1839.60,566.8v-11.13h1.35v11.13zM1842.30,566.8v-3.72h1.35v3.72zM1843.65,566.8v-8.97h1.35v8.97zM1845.00,566.8v-20.62h1.35v20.62zM1846.35,566.8v-12.79h1.35v12.79zM1847.70,566.8v-0.53h1.35v0.53zM1849.05,566.8v-20.12h1.35v20.12zM1850.40,566.8v-7.43h1.35v7.43zM1851.75,566.8v-10.86h1.35v10.86zM1853.10,566.8v-19.61h1.35v19.61zM1854.45,566.8v-23.70h1.35v23.70zM1855.80,566.8v-5.57h1.35v5.57zM1857.15,566.8v-23.65h1.35v23.65zM1858.50,566.8v-23.32h1.35v23.32zM1859.85,566.8v-19.44h1.35v19.44zM1861.20,566.8v-14.29h1.35v14.29zM1862.55,566.8v-14.79h1.35v14.79zM1865.25,566.8v-20.72h1.35v20.72zM1866.60,566.8v-19.25h1.35v19.25zM1867.95,566.8v-3.96h1.35v3.96zM1869.30,566.8v-12.60h1.35v12.60zM1870.65,566.8v-8.95h1.35v8.95zM1872.00,566.8v-22.94h1.35v22.94zM1873.35,566.8v-19.17h1.35v19.17zM1874.70,566.8v-10.35h1.35v10.35zM1876.05,566.8v-20.76h1.35v20.76zM1877.40,566.8v-19.82h1.35v19.82zM1878.75,566.8v-20.66h1.35v20.66zM1880.10,566.8v-21.40h1.35v21.40zM1881.45,566.8v-14.06h1.35v14.06zM1882.80,566.8v-21.68h1.35v21.68zM1884.15,566.8v-19.82h1.35v19.82zM1885.50,566.8v-20.83h1.35v20.83zM1886.85,566.8v-3.26h1.35v3.26zM1888.20,566.8v-13.94h1.35v13.94zM1889.55,566.8v-19.08h1.35v19.08zM1890.90,566.8v-22.96h1.35v22.96zM1892.25,566.8v-20.15h1.35v20.15zM1893.60,566.8v-4.23h1.35v4.23zM1896.30,566.8v-20.46h1.35v20.46zM1897.65,566.8v-9.26h1.35v9.26zM1899.00,566.8v-22.92h1.35v22.92zM1900.35,566.8v-3.93h1.35v3.93zM1901.70,566.8v-19.21h1.35v19.21zM1903.05,566.8v-23.07h1.35v23.07zM1904.40,566.8v-21.31h1.35v21.31zM1905.75,566.8v-15.04h1.35v15.04zM1907.10,566.8v-1.41h1.35v1.41zM1908.45,566.8v-22.39h1.35v22.39zM1909.80,566.8v-2.25h1.35v2.25zM1911.15,566.8v-5.30h1.35v5.30zM1912.50,566.8v-22.96h1.35v22.96zM1913.85,566.8v-22.90h1.35v22.90zM1915.20,566.8v-22.18h1.35v22.18zM1916.55,566.8v-23.23h1.35v23.23zM1917.90,566.8v-11.48h1.35v11.48zM1919.25,566.8v-15.45h1.35v15.45zM1920.60,566.8v-19.67h1.35v19.67zM1921.95,566.8v-23.52h1.35v23.52zM1923.30,566.8v-23.01h1.35v23.01zM1924.65,566.8v-13.20h1.35v13.20zM1926.00,566.8v-20.49h1.35v20.49zM1927.35,566.8v-23.73h1.35v23.73zM1928.70,566.8v-22.94h1.35v22.94zM1930.05,566.8v-20.16h1.35v20.16zM1931.40,566.8v-20.18h1.35v20.18zM1932.75,566.8v-22.43h1.35v22.43zM1934.10,566.8v-12.54h1.35v12.54zM1935.45,566.8v-23.71h1.35v23.71zM1936.80,566.8v-1.39h1.35v1.39z" stroke="none" stroke-width="1" fill="#3a6db4"/>
<path d="M1578.8,597.5 H1591.5 V624.5 H1578.8" stroke="#231815" stroke-width="3" fill="none"/>
<text x="1575.5" y="604.0" font-size="17" text-anchor="end" fill="#231815">10</text>
<text x="1573.2" y="630.5" font-size="17" text-anchor="end" fill="#231815">0</text>
<line x1="1604.0" y1="624.5" x2="1932.0" y2="624.5" stroke="#9c1836" stroke-width="0.8" opacity="0.55"/>
<path d="M1578.8,648.5 H1591.5 V675.6 H1578.8" stroke="#231815" stroke-width="3" fill="none"/>
<text x="1575.5" y="655.0" font-size="17" text-anchor="end" fill="#231815">10</text>
<text x="1573.2" y="681.6" font-size="17" text-anchor="end" fill="#231815">0</text>
<line x1="1604.0" y1="675.6" x2="1935.0" y2="675.6" stroke="#3a6db4" stroke-width="0.8" opacity="0.55"/>
<path d="M1610.50,675.6v-1.78h1.30v1.78zM1614.40,675.6v-1.47h1.30v1.47zM1615.70,675.6v-0.33h1.30v0.33zM1618.30,675.6v-1.81h1.30v1.81zM1619.60,675.6v-21.66h1.30v21.66zM1620.90,675.6v-20.68h1.30v20.68zM1622.20,675.6v-19.71h1.30v19.71zM1623.50,675.6v-20.83h1.30v20.83zM1624.80,675.6v-24.76h1.30v24.76zM1626.10,675.6v-22.95h1.30v22.95zM1627.40,675.6v-26.34h1.30v26.34zM1628.70,675.6v-24.70h1.30v24.70zM1630.00,675.6v-26.17h1.30v26.17zM1631.30,675.6v-23.61h1.30v23.61zM1632.60,675.6v-21.54h1.30v21.54zM1633.90,675.6v-23.29h1.30v23.29zM1635.20,675.6v-24.46h1.30v24.46zM1636.50,675.6v-18.97h1.30v18.97zM1639.10,675.6v-2.47h1.30v2.47zM1640.40,675.6v-0.81h1.30v0.81zM1643.00,675.6v-0.67h1.30v0.67zM1648.20,675.6v-1.50h1.30v1.50zM1653.40,675.6v-2.49h1.30v2.49zM1654.70,675.6v-1.58h1.30v1.58zM1656.00,675.6v-0.53h1.30v0.53zM1658.60,675.6v-2.43h1.30v2.43zM1659.90,675.6v-1.06h1.30v1.06zM1661.20,675.6v-1.66h1.30v1.66zM1665.10,675.6v-2.79h1.30v2.79zM1669.00,675.6v-1.87h1.30v1.87zM1670.30,675.6v-2.87h1.30v2.87zM1671.60,675.6v-1.98h1.30v1.98zM1674.20,675.6v-1.57h1.30v1.57zM1678.10,675.6v-1.09h1.30v1.09zM1680.70,675.6v-2.50h1.30v2.50zM1684.60,675.6v-2.25h1.30v2.25zM1689.80,675.6v-0.98h1.30v0.98zM1691.10,675.6v-2.86h1.30v2.86zM1693.70,675.6v-1.76h1.30v1.76zM1696.30,675.6v-1.18h1.30v1.18zM1700.20,675.6v-2.29h1.30v2.29zM1701.50,675.6v-1.63h1.30v1.63zM1702.80,675.6v-2.93h1.30v2.93zM1708.00,675.6v-2.89h1.30v2.89zM1711.90,675.6v-0.49h1.30v0.49zM1717.10,675.6v-0.42h1.30v0.42zM1721.00,675.6v-2.22h1.30v2.22zM1722.30,675.6v-0.94h1.30v0.94zM1723.60,675.6v-0.89h1.30v0.89zM1724.90,675.6v-2.90h1.30v2.90zM1727.50,675.6v-0.93h1.30v0.93zM1730.10,675.6v-0.96h1.30v0.96zM1731.40,675.6v-0.33h1.30v0.33zM1732.70,675.6v-1.18h1.30v1.18zM1734.00,675.6v-2.89h1.30v2.89zM1735.30,675.6v-0.61h1.30v0.61zM1737.90,675.6v-2.51h1.30v2.51zM1741.80,675.6v-0.46h1.30v0.46zM1744.40,675.6v-1.68h1.30v1.68zM1748.30,675.6v-1.09h1.30v1.09zM1752.20,675.6v-2.17h1.30v2.17zM1753.50,675.6v-3.40h1.30v3.40zM1754.80,675.6v-5.21h1.30v5.21zM1756.10,675.6v-4.52h1.30v4.52zM1757.40,675.6v-7.72h1.30v7.72zM1758.70,675.6v-4.21h1.30v4.21zM1760.00,675.6v-3.30h1.30v3.30zM1761.30,675.6v-1.41h1.30v1.41zM1762.60,675.6v-9.24h1.30v9.24zM1763.90,675.6v-30.68h1.30v30.68zM1765.20,675.6v-27.92h1.30v27.92zM1766.50,675.6v-7.98h1.30v7.98z" stroke="none" stroke-width="1" fill="#3a6db4"/>
<path d="M1578.8,701.0 H1591.5 V728.9 H1578.8" stroke="#231815" stroke-width="3" fill="none"/>
<text x="1575.5" y="707.5" font-size="17" text-anchor="end" fill="#231815">10</text>
<text x="1573.2" y="734.9" font-size="17" text-anchor="end" fill="#231815">0</text>
<line x1="1613.0" y1="728.9" x2="1935.0" y2="728.9" stroke="#3a6db4" stroke-width="0.8" opacity="0.55"/>
<path d="M1618.20,728.9v-3.76h1.30v3.76zM1620.80,728.9v-1.57h1.30v1.57zM1622.10,728.9v-21.83h1.30v21.83zM1623.40,728.9v-19.10h1.30v19.10zM1624.70,728.9v-18.11h1.30v18.11zM1626.00,728.9v-22.23h1.30v22.23zM1627.30,728.9v-20.19h1.30v20.19zM1628.60,728.9v-20.13h1.30v20.13zM1629.90,728.9v-21.02h1.30v21.02zM1631.20,728.9v-22.41h1.30v22.41zM1632.50,728.9v-17.80h1.30v17.80zM1633.80,728.9v-19.03h1.30v19.03zM1635.10,728.9v-1.65h1.30v1.65zM1641.60,728.9v-2.29h1.30v2.29zM1642.90,728.9v-3.38h1.30v3.38zM1646.80,728.9v-2.69h1.30v2.69zM1658.50,728.9v-2.82h1.30v2.82zM1666.30,728.9v-0.85h1.30v0.85zM1667.60,728.9v-0.38h1.30v0.38zM1672.80,728.9v-2.80h1.30v2.80zM1674.10,728.9v-3.35h1.30v3.35zM1678.00,728.9v-1.10h1.30v1.10zM1679.30,728.9v-1.78h1.30v1.78zM1683.20,728.9v-3.31h1.30v3.31zM1684.50,728.9v-0.90h1.30v0.90zM1687.10,728.9v-1.32h1.30v1.32zM1689.70,728.9v-3.17h1.30v3.17zM1691.00,728.9v-3.36h1.30v3.36zM1694.90,728.9v-3.11h1.30v3.11zM1696.20,728.9v-2.02h1.30v2.02zM1702.70,728.9v-2.05h1.30v2.05zM1705.30,728.9v-3.47h1.30v3.47zM1710.50,728.9v-3.95h1.30v3.95zM1711.80,728.9v-1.91h1.30v1.91zM1713.10,728.9v-1.82h1.30v1.82zM1717.00,728.9v-1.37h1.30v1.37zM1718.30,728.9v-1.61h1.30v1.61zM1719.60,728.9v-0.78h1.30v0.78zM1723.50,728.9v-0.79h1.30v0.79zM1726.10,728.9v-1.06h1.30v1.06zM1737.80,728.9v-0.82h1.30v0.82zM1739.10,728.9v-3.46h1.30v3.46zM1743.00,728.9v-1.68h1.30v1.68zM1744.30,728.9v-3.19h1.30v3.19zM1745.60,728.9v-1.36h1.30v1.36zM1746.90,728.9v-2.52h1.30v2.52zM1748.20,728.9v-4.76h1.30v4.76zM1749.50,728.9v-3.94h1.30v3.94zM1750.80,728.9v-3.86h1.30v3.86zM1752.10,728.9v-3.54h1.30v3.54zM1753.40,728.9v-2.75h1.30v2.75zM1754.70,728.9v-1.83h1.30v1.83zM1756.00,728.9v-9.08h1.30v9.08zM1757.30,728.9v-10.07h1.30v10.07zM1758.60,728.9v-6.64h1.30v6.64zM1759.90,728.9v-4.66h1.30v4.66z" stroke="none" stroke-width="1" fill="#3a6db4"/>
<line x1="1630.7" y1="746.3" x2="1764.9" y2="746.3" stroke="#8e2290" stroke-width="2.4"/>
<rect x="1630.2" y="742.0" width="7.3" height="8.6" fill="#8e2290"/>
<rect x="1744.8" y="742.0" width="7.2" height="8.6" fill="#8e2290"/>
<line x1="1637.0" y1="739.3" x2="1637.0" y2="753.7" stroke="#8e2290" stroke-width="1.2"/>
<line x1="1642.1" y1="739.3" x2="1642.1" y2="753.7" stroke="#8e2290" stroke-width="1.2"/>
<line x1="1709.7" y1="739.3" x2="1709.7" y2="753.7" stroke="#8e2290" stroke-width="1.2"/>
<line x1="1733.0" y1="739.3" x2="1733.0" y2="753.7" stroke="#8e2290" stroke-width="1.2"/>
<line x1="1742.7" y1="739.3" x2="1742.7" y2="753.7" stroke="#8e2290" stroke-width="1.2"/>
<line x1="1752.5" y1="739.3" x2="1752.5" y2="753.7" stroke="#8e2290" stroke-width="1.2"/>
<line x1="1755.6" y1="739.3" x2="1755.6" y2="753.7" stroke="#8e2290" stroke-width="1.2"/>
<line x1="1764.4" y1="739.3" x2="1764.4" y2="753.7" stroke="#8e2290" stroke-width="1.2"/>
<ellipse cx="1650.9" cy="746.3" rx="1.6" ry="3.3" fill="#3f5fb0"/>
<ellipse cx="1667.4" cy="746.3" rx="1.6" ry="3.3" fill="#3f5fb0"/>
<ellipse cx="1683.9" cy="746.3" rx="1.6" ry="3.3" fill="#3f5fb0"/>
<ellipse cx="1700.4" cy="746.3" rx="1.6" ry="3.3" fill="#3f5fb0"/>
<ellipse cx="1718.5" cy="746.3" rx="1.6" ry="3.3" fill="#3f5fb0"/>
<ellipse cx="1741.7" cy="746.3" rx="1.6" ry="3.3" fill="#3f5fb0"/>
<ellipse cx="1751.5" cy="746.3" rx="1.6" ry="3.3" fill="#3f5fb0"/>
<text x="1708.5" y="782.2" font-size="24.5" font-style="italic" text-anchor="middle" fill="#8e2290" textLength="79.5" lengthAdjust="spacingAndGlyphs">TBX20</text>
<text x="-2.0" y="704.2" font-size="55" font-weight="bold">c</text>
<defs><linearGradient id="vg1" x1="0" y1="0" x2="1" y2="0"><stop offset="0" stop-color="#a98ac8"/><stop offset="1" stop-color="#fff"/></linearGradient></defs>
<line x1="108.1" y1="736.4" x2="108.3" y2="729.4" stroke="#231f20" stroke-width="1.5"/>
<circle cx="108.4" cy="726.9" r="2.4" fill="#a98ac8" stroke="#231f20" stroke-width="1.4"/>
<line x1="114.3" y1="738.6" x2="117.3" y2="734.6" stroke="#231f20" stroke-width="1.5"/>
<circle cx="118.8" cy="732.6" r="2.4" fill="#a98ac8" stroke="#231f20" stroke-width="1.4"/>
<line x1="118.0" y1="743.6" x2="122.7" y2="741.9" stroke="#231f20" stroke-width="1.5"/>
<circle cx="125.1" cy="741.1" r="2.4" fill="#a98ac8" stroke="#231f20" stroke-width="1.4"/>
<line x1="118.5" y1="749.7" x2="125.3" y2="751.1" stroke="#231f20" stroke-width="1.5"/>
<circle cx="127.8" cy="751.7" r="2.4" fill="#a98ac8" stroke="#231f20" stroke-width="1.4"/>
<line x1="116.1" y1="754.5" x2="120.0" y2="757.7" stroke="#231f20" stroke-width="1.5"/>
<circle cx="121.9" cy="759.3" r="2.4" fill="#a98ac8" stroke="#231f20" stroke-width="1.4"/>
<line x1="111.5" y1="757.7" x2="113.2" y2="762.4" stroke="#231f20" stroke-width="1.5"/>
<circle cx="114.0" cy="764.8" r="2.4" fill="#a98ac8" stroke="#231f20" stroke-width="1.4"/>
<line x1="106.4" y1="758.3" x2="105.5" y2="765.3" stroke="#231f20" stroke-width="1.5"/>
<circle cx="105.2" cy="767.7" r="2.4" fill="#a98ac8" stroke="#231f20" stroke-width="1.4"/>
<line x1="101.5" y1="756.5" x2="98.8" y2="760.7" stroke="#231f20" stroke-width="1.5"/>
<circle cx="97.4" cy="762.7" r="2.4" fill="#a98ac8" stroke="#231f20" stroke-width="1.4"/>
<line x1="98.0" y1="752.6" x2="93.6" y2="754.9" stroke="#231f20" stroke-width="1.5"/>
<circle cx="91.4" cy="756.1" r="2.4" fill="#a98ac8" stroke="#231f20" stroke-width="1.4"/>
<line x1="96.7" y1="747.4" x2="89.7" y2="747.4" stroke="#231f20" stroke-width="1.5"/>
<circle cx="87.2" cy="747.4" r="2.4" fill="#a98ac8" stroke="#231f20" stroke-width="1.4"/>
<line x1="97.9" y1="742.4" x2="93.4" y2="740.1" stroke="#231f20" stroke-width="1.5"/>
<circle cx="91.2" cy="739.0" r="2.4" fill="#a98ac8" stroke="#231f20" stroke-width="1.4"/>
<line x1="101.7" y1="738.2" x2="99.0" y2="734.0" stroke="#231f20" stroke-width="1.5"/>
<circle cx="97.6" cy="731.9" r="2.4" fill="#a98ac8" stroke="#231f20" stroke-width="1.4"/>
<circle cx="107.7" cy="747.4" r="11.2" fill="url(#vg1)" stroke="#231f20" stroke-width="1.8"/>
<defs><linearGradient id="vg2" x1="0" y1="0" x2="1" y2="0"><stop offset="0" stop-color="#e3dc5e"/><stop offset="1" stop-color="#fff"/></linearGradient></defs>
<line x1="186.4" y1="744.7" x2="186.2" y2="737.7" stroke="#231f20" stroke-width="1.5"/>
<circle cx="186.1" cy="735.2" r="2.4" fill="#e3dc5e" stroke="#231f20" stroke-width="1.4"/>
<line x1="192.8" y1="746.5" x2="195.5" y2="742.3" stroke="#231f20" stroke-width="1.5"/>
<circle cx="196.9" cy="740.2" r="2.4" fill="#e3dc5e" stroke="#231f20" stroke-width="1.4"/>
<line x1="196.8" y1="751.2" x2="201.4" y2="749.2" stroke="#231f20" stroke-width="1.5"/>
<circle cx="203.7" cy="748.2" r="2.4" fill="#e3dc5e" stroke="#231f20" stroke-width="1.4"/>
<line x1="197.7" y1="757.2" x2="204.6" y2="758.2" stroke="#231f20" stroke-width="1.5"/>
<circle cx="207.1" cy="758.6" r="2.4" fill="#e3dc5e" stroke="#231f20" stroke-width="1.4"/>
<line x1="195.7" y1="762.2" x2="199.7" y2="765.1" stroke="#231f20" stroke-width="1.5"/>
<circle cx="201.8" cy="766.6" r="2.4" fill="#e3dc5e" stroke="#231f20" stroke-width="1.4"/>
<line x1="191.3" y1="765.7" x2="193.3" y2="770.3" stroke="#231f20" stroke-width="1.5"/>
<circle cx="194.3" cy="772.6" r="2.4" fill="#e3dc5e" stroke="#231f20" stroke-width="1.4"/>
<line x1="186.2" y1="766.7" x2="185.9" y2="773.7" stroke="#231f20" stroke-width="1.5"/>
<circle cx="185.7" cy="776.2" r="2.4" fill="#e3dc5e" stroke="#231f20" stroke-width="1.4"/>
<line x1="181.3" y1="765.2" x2="178.8" y2="769.6" stroke="#231f20" stroke-width="1.5"/>
<circle cx="177.6" cy="771.7" r="2.4" fill="#e3dc5e" stroke="#231f20" stroke-width="1.4"/>
<line x1="177.5" y1="761.5" x2="173.2" y2="764.2" stroke="#231f20" stroke-width="1.5"/>
<circle cx="171.1" cy="765.5" r="2.4" fill="#e3dc5e" stroke="#231f20" stroke-width="1.4"/>
<line x1="175.8" y1="756.5" x2="168.8" y2="757.0" stroke="#231f20" stroke-width="1.5"/>
<circle cx="166.3" cy="757.1" r="2.4" fill="#e3dc5e" stroke="#231f20" stroke-width="1.4"/>
<line x1="176.7" y1="751.4" x2="172.1" y2="749.4" stroke="#231f20" stroke-width="1.5"/>
<circle cx="169.8" cy="748.5" r="2.4" fill="#e3dc5e" stroke="#231f20" stroke-width="1.4"/>
<line x1="180.2" y1="746.9" x2="177.2" y2="742.9" stroke="#231f20" stroke-width="1.5"/>
<circle cx="175.7" cy="740.9" r="2.4" fill="#e3dc5e" stroke="#231f20" stroke-width="1.4"/>
<circle cx="186.8" cy="755.7" r="11.2" fill="url(#vg2)" stroke="#231f20" stroke-width="1.8"/>
<defs><linearGradient id="vg3" x1="0" y1="0" x2="1" y2="0"><stop offset="0" stop-color="#6a72bb"/><stop offset="1" stop-color="#fff"/></linearGradient></defs>
<line x1="258.4" y1="740.5" x2="259.0" y2="733.6" stroke="#231f20" stroke-width="1.5"/>
<circle cx="259.2" cy="731.1" r="2.4" fill="#6a72bb" stroke="#231f20" stroke-width="1.4"/>
<line x1="264.5" y1="743.1" x2="267.7" y2="739.2" stroke="#231f20" stroke-width="1.5"/>
<circle cx="269.3" cy="737.3" r="2.4" fill="#6a72bb" stroke="#231f20" stroke-width="1.4"/>
<line x1="267.9" y1="748.3" x2="272.7" y2="746.8" stroke="#231f20" stroke-width="1.5"/>
<circle cx="275.1" cy="746.1" r="2.4" fill="#6a72bb" stroke="#231f20" stroke-width="1.4"/>
<line x1="268.0" y1="754.3" x2="274.8" y2="756.2" stroke="#231f20" stroke-width="1.5"/>
<circle cx="277.2" cy="756.8" r="2.4" fill="#6a72bb" stroke="#231f20" stroke-width="1.4"/>
<line x1="265.4" y1="759.0" x2="269.1" y2="762.4" stroke="#231f20" stroke-width="1.5"/>
<circle cx="270.9" cy="764.1" r="2.4" fill="#6a72bb" stroke="#231f20" stroke-width="1.4"/>
<line x1="260.6" y1="762.0" x2="262.1" y2="766.8" stroke="#231f20" stroke-width="1.5"/>
<circle cx="262.8" cy="769.2" r="2.4" fill="#6a72bb" stroke="#231f20" stroke-width="1.4"/>
<line x1="255.5" y1="762.3" x2="254.3" y2="769.2" stroke="#231f20" stroke-width="1.5"/>
<circle cx="253.8" cy="771.7" r="2.4" fill="#6a72bb" stroke="#231f20" stroke-width="1.4"/>
<line x1="250.8" y1="760.3" x2="247.8" y2="764.3" stroke="#231f20" stroke-width="1.5"/>
<circle cx="246.3" cy="766.3" r="2.4" fill="#6a72bb" stroke="#231f20" stroke-width="1.4"/>
<line x1="247.4" y1="756.1" x2="242.9" y2="758.3" stroke="#231f20" stroke-width="1.5"/>
<circle cx="240.6" cy="759.3" r="2.4" fill="#6a72bb" stroke="#231f20" stroke-width="1.4"/>
<line x1="246.4" y1="750.9" x2="239.4" y2="750.6" stroke="#231f20" stroke-width="1.5"/>
<circle cx="236.9" cy="750.4" r="2.4" fill="#6a72bb" stroke="#231f20" stroke-width="1.4"/>
<line x1="247.9" y1="746.0" x2="243.5" y2="743.5" stroke="#231f20" stroke-width="1.5"/>
<circle cx="241.4" cy="742.2" r="2.4" fill="#6a72bb" stroke="#231f20" stroke-width="1.4"/>
<line x1="251.9" y1="742.0" x2="249.4" y2="737.6" stroke="#231f20" stroke-width="1.5"/>
<circle cx="248.1" cy="735.5" r="2.4" fill="#6a72bb" stroke="#231f20" stroke-width="1.4"/>
<circle cx="257.4" cy="751.5" r="11.2" fill="url(#vg3)" stroke="#231f20" stroke-width="1.8"/>
<defs><linearGradient id="vg4" x1="0" y1="0" x2="1" y2="0"><stop offset="0" stop-color="#68b8e0"/><stop offset="1" stop-color="#fff"/></linearGradient></defs>
<line x1="146.7" y1="780.9" x2="146.8" y2="773.9" stroke="#231f20" stroke-width="1.5"/>
<circle cx="146.9" cy="771.4" r="2.4" fill="#68b8e0" stroke="#231f20" stroke-width="1.4"/>
<line x1="153.0" y1="783.0" x2="155.9" y2="779.0" stroke="#231f20" stroke-width="1.5"/>
<circle cx="157.4" cy="776.9" r="2.4" fill="#68b8e0" stroke="#231f20" stroke-width="1.4"/>
<line x1="156.8" y1="788.0" x2="161.4" y2="786.2" stroke="#231f20" stroke-width="1.5"/>
<circle cx="163.8" cy="785.3" r="2.4" fill="#68b8e0" stroke="#231f20" stroke-width="1.4"/>
<line x1="157.3" y1="794.0" x2="164.2" y2="795.3" stroke="#231f20" stroke-width="1.5"/>
<circle cx="166.6" cy="795.8" r="2.4" fill="#68b8e0" stroke="#231f20" stroke-width="1.4"/>
<line x1="155.0" y1="798.8" x2="158.9" y2="802.0" stroke="#231f20" stroke-width="1.5"/>
<circle cx="160.9" cy="803.5" r="2.4" fill="#68b8e0" stroke="#231f20" stroke-width="1.4"/>
<line x1="150.4" y1="802.2" x2="152.2" y2="806.8" stroke="#231f20" stroke-width="1.5"/>
<circle cx="153.1" cy="809.2" r="2.4" fill="#68b8e0" stroke="#231f20" stroke-width="1.4"/>
<line x1="145.4" y1="802.8" x2="144.6" y2="809.8" stroke="#231f20" stroke-width="1.5"/>
<circle cx="144.4" cy="812.3" r="2.4" fill="#68b8e0" stroke="#231f20" stroke-width="1.4"/>
<line x1="140.5" y1="801.1" x2="137.8" y2="805.3" stroke="#231f20" stroke-width="1.5"/>
<circle cx="136.4" cy="807.4" r="2.4" fill="#68b8e0" stroke="#231f20" stroke-width="1.4"/>
<line x1="136.9" y1="797.2" x2="132.5" y2="799.7" stroke="#231f20" stroke-width="1.5"/>
<circle cx="130.3" cy="800.9" r="2.4" fill="#68b8e0" stroke="#231f20" stroke-width="1.4"/>
<line x1="135.5" y1="792.1" x2="128.5" y2="792.2" stroke="#231f20" stroke-width="1.5"/>
<circle cx="126.0" cy="792.3" r="2.4" fill="#68b8e0" stroke="#231f20" stroke-width="1.4"/>
<line x1="136.6" y1="787.1" x2="132.1" y2="784.9" stroke="#231f20" stroke-width="1.5"/>
<circle cx="129.9" cy="783.8" r="2.4" fill="#68b8e0" stroke="#231f20" stroke-width="1.4"/>
<line x1="140.3" y1="782.8" x2="137.6" y2="778.6" stroke="#231f20" stroke-width="1.5"/>
<circle cx="136.2" cy="776.6" r="2.4" fill="#68b8e0" stroke="#231f20" stroke-width="1.4"/>
<circle cx="146.5" cy="791.9" r="11.2" fill="url(#vg4)" stroke="#231f20" stroke-width="1.8"/>
<defs><linearGradient id="vg5" x1="0" y1="0" x2="1" y2="0"><stop offset="0" stop-color="#6cc4df"/><stop offset="1" stop-color="#fff"/></linearGradient></defs>
<line x1="227.2" y1="786.8" x2="226.9" y2="779.8" stroke="#231f20" stroke-width="1.5"/>
<circle cx="226.7" cy="777.3" r="2.4" fill="#6cc4df" stroke="#231f20" stroke-width="1.4"/>
<line x1="233.6" y1="788.5" x2="236.3" y2="784.2" stroke="#231f20" stroke-width="1.5"/>
<circle cx="237.6" cy="782.1" r="2.4" fill="#6cc4df" stroke="#231f20" stroke-width="1.4"/>
<line x1="237.8" y1="793.2" x2="242.3" y2="791.0" stroke="#231f20" stroke-width="1.5"/>
<circle cx="244.6" cy="790.0" r="2.4" fill="#6cc4df" stroke="#231f20" stroke-width="1.4"/>
<line x1="238.7" y1="799.1" x2="245.7" y2="800.0" stroke="#231f20" stroke-width="1.5"/>
<circle cx="248.1" cy="800.3" r="2.4" fill="#6cc4df" stroke="#231f20" stroke-width="1.4"/>
<line x1="236.8" y1="804.1" x2="240.9" y2="807.0" stroke="#231f20" stroke-width="1.5"/>
<circle cx="243.0" cy="808.4" r="2.4" fill="#6cc4df" stroke="#231f20" stroke-width="1.4"/>
<line x1="232.4" y1="807.8" x2="234.6" y2="812.3" stroke="#231f20" stroke-width="1.5"/>
<circle cx="235.6" cy="814.6" r="2.4" fill="#6cc4df" stroke="#231f20" stroke-width="1.4"/>
<line x1="227.4" y1="808.8" x2="227.2" y2="815.8" stroke="#231f20" stroke-width="1.5"/>
<circle cx="227.1" cy="818.3" r="2.4" fill="#6cc4df" stroke="#231f20" stroke-width="1.4"/>
<line x1="222.5" y1="807.4" x2="220.0" y2="811.8" stroke="#231f20" stroke-width="1.5"/>
<circle cx="218.8" cy="814.0" r="2.4" fill="#6cc4df" stroke="#231f20" stroke-width="1.4"/>
<line x1="218.6" y1="803.8" x2="214.4" y2="806.5" stroke="#231f20" stroke-width="1.5"/>
<circle cx="212.3" cy="807.9" r="2.4" fill="#6cc4df" stroke="#231f20" stroke-width="1.4"/>
<line x1="216.8" y1="798.8" x2="209.9" y2="799.4" stroke="#231f20" stroke-width="1.5"/>
<circle cx="207.4" cy="799.6" r="2.4" fill="#6cc4df" stroke="#231f20" stroke-width="1.4"/>
<line x1="217.6" y1="793.7" x2="213.0" y2="791.8" stroke="#231f20" stroke-width="1.5"/>
<circle cx="210.6" cy="790.9" r="2.4" fill="#6cc4df" stroke="#231f20" stroke-width="1.4"/>
<line x1="221.0" y1="789.1" x2="217.9" y2="785.2" stroke="#231f20" stroke-width="1.5"/>
<circle cx="216.4" cy="783.2" r="2.4" fill="#6cc4df" stroke="#231f20" stroke-width="1.4"/>
<circle cx="227.8" cy="797.8" r="11.2" fill="url(#vg5)" stroke="#231f20" stroke-width="1.8"/>
<text x="33.2" y="848.1" font-size="22.6" textLength="307.5" lengthAdjust="spacingAndGlyphs">shRNA Lentiviral Transduction</text>
<defs><linearGradient id="dishside" x1="0" y1="0" x2="0" y2="1"><stop offset="0" stop-color="#f3dfc8"/><stop offset="1" stop-color="#e6c9a6"/></linearGradient><radialGradient id="dishin" cx="0.5" cy="0.5" r="0.6"><stop offset="0" stop-color="#fdf3ea"/><stop offset="1" stop-color="#f6dcc4"/></radialGradient></defs>
<path d="M240,966 L240,988 A74.5,28 0 0 0 389,988 L389,966 Z" stroke="#555" stroke-width="1" fill="url(#dishside)"/>
<ellipse cx="314.5" cy="966" rx="74.5" ry="31" fill="#eaf2f8" stroke="#555" stroke-width="1"/>
<ellipse cx="314.5" cy="968" rx="70" ry="27" fill="url(#dishin)" stroke="#cfa27a" stroke-width="0.8"/>
<ellipse cx="282.3" cy="946.0" rx="3.7" ry="2.1" fill="#f19a52"/>
<ellipse cx="292.8" cy="946.0" rx="3.7" ry="2.1" fill="#f19a52"/>
<ellipse cx="303.3" cy="946.0" rx="3.7" ry="2.1" fill="#f19a52"/>
<ellipse cx="313.8" cy="946.0" rx="3.7" ry="2.1" fill="#f19a52"/>
<ellipse cx="324.3" cy="946.0" rx="3.7" ry="2.1" fill="#f19a52"/>
<ellipse cx="334.8" cy="946.0" rx="3.7" ry="2.1" fill="#f19a52"/>
<ellipse cx="345.3" cy="946.0" rx="3.7" ry="2.1" fill="#f19a52"/>
<ellipse cx="271.2" cy="951.4" rx="3.7" ry="2.1" fill="#f19a52"/>
<ellipse cx="281.7" cy="951.4" rx="3.7" ry="2.1" fill="#f19a52"/>
<ellipse cx="292.2" cy="951.4" rx="3.7" ry="2.1" fill="#f19a52"/>
<ellipse cx="302.7" cy="951.4" rx="3.7" ry="2.1" fill="#f19a52"/>
<ellipse cx="313.2" cy="951.4" rx="3.7" ry="2.1" fill="#f19a52"/>
<ellipse cx="323.7" cy="951.4" rx="3.7" ry="2.1" fill="#f19a52"/>
<ellipse cx="334.2" cy="951.4" rx="3.7" ry="2.1" fill="#f19a52"/>
<ellipse cx="344.7" cy="951.4" rx="3.7" ry="2.1" fill="#f19a52"/>
<ellipse cx="355.2" cy="951.4" rx="3.7" ry="2.1" fill="#f19a52"/>
<ellipse cx="257.1" cy="956.8" rx="3.7" ry="2.1" fill="#f19a52"/>
<ellipse cx="267.6" cy="956.8" rx="3.7" ry="2.1" fill="#f19a52"/>
<ellipse cx="278.1" cy="956.8" rx="3.7" ry="2.1" fill="#f19a52"/>
<ellipse cx="288.6" cy="956.8" rx="3.7" ry="2.1" fill="#f19a52"/>
<ellipse cx="299.1" cy="956.8" rx="3.7" ry="2.1" fill="#f19a52"/>
<ellipse cx="309.6" cy="956.8" rx="3.7" ry="2.1" fill="#f19a52"/>
<ellipse cx="320.1" cy="956.8" rx="3.7" ry="2.1" fill="#f19a52"/>
<ellipse cx="330.6" cy="956.8" rx="3.7" ry="2.1" fill="#f19a52"/>
<ellipse cx="341.1" cy="956.8" rx="3.7" ry="2.1" fill="#f19a52"/>
<ellipse cx="351.6" cy="956.8" rx="3.7" ry="2.1" fill="#f19a52"/>
<ellipse cx="362.1" cy="956.8" rx="3.7" ry="2.1" fill="#f19a52"/>
<ellipse cx="372.6" cy="956.8" rx="3.7" ry="2.1" fill="#f19a52"/>
<ellipse cx="257.2" cy="962.2" rx="3.7" ry="2.1" fill="#f19a52"/>
<ellipse cx="267.7" cy="962.2" rx="3.7" ry="2.1" fill="#f19a52"/>
<ellipse cx="278.2" cy="962.2" rx="3.7" ry="2.1" fill="#f19a52"/>
<ellipse cx="288.7" cy="962.2" rx="3.7" ry="2.1" fill="#f19a52"/>
<ellipse cx="299.2" cy="962.2" rx="3.7" ry="2.1" fill="#f19a52"/>
<ellipse cx="309.7" cy="962.2" rx="3.7" ry="2.1" fill="#f19a52"/>
<ellipse cx="320.2" cy="962.2" rx="3.7" ry="2.1" fill="#f19a52"/>
<ellipse cx="330.7" cy="962.2" rx="3.7" ry="2.1" fill="#f19a52"/>
<ellipse cx="341.2" cy="962.2" rx="3.7" ry="2.1" fill="#f19a52"/>
<ellipse cx="351.7" cy="962.2" rx="3.7" ry="2.1" fill="#f19a52"/>
<ellipse cx="362.2" cy="962.2" rx="3.7" ry="2.1" fill="#f19a52"/>
<ellipse cx="372.7" cy="962.2" rx="3.7" ry="2.1" fill="#f19a52"/>
<ellipse cx="250.5" cy="967.6" rx="3.7" ry="2.1" fill="#f19a52"/>
<ellipse cx="261.0" cy="967.6" rx="3.7" ry="2.1" fill="#f19a52"/>
<ellipse cx="271.5" cy="967.6" rx="3.7" ry="2.1" fill="#f19a52"/>
<ellipse cx="282.0" cy="967.6" rx="3.7" ry="2.1" fill="#f19a52"/>
<ellipse cx="292.5" cy="967.6" rx="3.7" ry="2.1" fill="#f19a52"/>
<ellipse cx="303.0" cy="967.6" rx="3.7" ry="2.1" fill="#f19a52"/>
<ellipse cx="313.5" cy="967.6" rx="3.7" ry="2.1" fill="#f19a52"/>
<ellipse cx="324.0" cy="967.6" rx="3.7" ry="2.1" fill="#f19a52"/>
<ellipse cx="334.5" cy="967.6" rx="3.7" ry="2.1" fill="#f19a52"/>
<ellipse cx="345.0" cy="967.6" rx="3.7" ry="2.1" fill="#f19a52"/>
<ellipse cx="355.5" cy="967.6" rx="3.7" ry="2.1" fill="#f19a52"/>
<ellipse cx="366.0" cy="967.6" rx="3.7" ry="2.1" fill="#f19a52"/>
<ellipse cx="376.5" cy="967.6" rx="3.7" ry="2.1" fill="#f19a52"/>
<ellipse cx="256.8" cy="973.0" rx="3.7" ry="2.1" fill="#f19a52"/>
<ellipse cx="267.3" cy="973.0" rx="3.7" ry="2.1" fill="#f19a52"/>
<ellipse cx="277.8" cy="973.0" rx="3.7" ry="2.1" fill="#f19a52"/>
<ellipse cx="288.3" cy="973.0" rx="3.7" ry="2.1" fill="#f19a52"/>
<ellipse cx="298.8" cy="973.0" rx="3.7" ry="2.1" fill="#f19a52"/>
<ellipse cx="309.3" cy="973.0" rx="3.7" ry="2.1" fill="#f19a52"/>
<ellipse cx="319.8" cy="973.0" rx="3.7" ry="2.1" fill="#f19a52"/>
<ellipse cx="330.3" cy="973.0" rx="3.7" ry="2.1" fill="#f19a52"/>
<ellipse cx="340.8" cy="973.0" rx="3.7" ry="2.1" fill="#f19a52"/>
<ellipse cx="351.3" cy="973.0" rx="3.7" ry="2.1" fill="#f19a52"/>
<ellipse cx="361.8" cy="973.0" rx="3.7" ry="2.1" fill="#f19a52"/>
<ellipse cx="372.3" cy="973.0" rx="3.7" ry="2.1" fill="#f19a52"/>
<ellipse cx="256.2" cy="978.4" rx="3.7" ry="2.1" fill="#f19a52"/>
<ellipse cx="266.7" cy="978.4" rx="3.7" ry="2.1" fill="#f19a52"/>
<ellipse cx="277.2" cy="978.4" rx="3.7" ry="2.1" fill="#f19a52"/>
<ellipse cx="287.7" cy="978.4" rx="3.7" ry="2.1" fill="#f19a52"/>
<ellipse cx="298.2" cy="978.4" rx="3.7" ry="2.1" fill="#f19a52"/>
<ellipse cx="308.7" cy="978.4" rx="3.7" ry="2.1" fill="#f19a52"/>
<ellipse cx="319.2" cy="978.4" rx="3.7" ry="2.1" fill="#f19a52"/>
<ellipse cx="329.7" cy="978.4" rx="3.7" ry="2.1" fill="#f19a52"/>
<ellipse cx="340.2" cy="978.4" rx="3.7" ry="2.1" fill="#f19a52"/>
<ellipse cx="350.7" cy="978.4" rx="3.7" ry="2.1" fill="#f19a52"/>
<ellipse cx="361.2" cy="978.4" rx="3.7" ry="2.1" fill="#f19a52"/>
<ellipse cx="371.7" cy="978.4" rx="3.7" ry="2.1" fill="#f19a52"/>
<ellipse cx="269.5" cy="983.8" rx="3.7" ry="2.1" fill="#f19a52"/>
<ellipse cx="280.0" cy="983.8" rx="3.7" ry="2.1" fill="#f19a52"/>
<ellipse cx="290.5" cy="983.8" rx="3.7" ry="2.1" fill="#f19a52"/>
<ellipse cx="301.0" cy="983.8" rx="3.7" ry="2.1" fill="#f19a52"/>
<ellipse cx="311.5" cy="983.8" rx="3.7" ry="2.1" fill="#f19a52"/>
<ellipse cx="322.0" cy="983.8" rx="3.7" ry="2.1" fill="#f19a52"/>
<ellipse cx="332.5" cy="983.8" rx="3.7" ry="2.1" fill="#f19a52"/>
<ellipse cx="343.0" cy="983.8" rx="3.7" ry="2.1" fill="#f19a52"/>
<ellipse cx="353.5" cy="983.8" rx="3.7" ry="2.1" fill="#f19a52"/>
<ellipse cx="364.0" cy="983.8" rx="3.7" ry="2.1" fill="#f19a52"/>
<ellipse cx="279.1" cy="989.2" rx="3.7" ry="2.1" fill="#f19a52"/>
<ellipse cx="289.6" cy="989.2" rx="3.7" ry="2.1" fill="#f19a52"/>
<ellipse cx="300.1" cy="989.2" rx="3.7" ry="2.1" fill="#f19a52"/>
<ellipse cx="310.6" cy="989.2" rx="3.7" ry="2.1" fill="#f19a52"/>
<ellipse cx="321.1" cy="989.2" rx="3.7" ry="2.1" fill="#f19a52"/>
<ellipse cx="331.6" cy="989.2" rx="3.7" ry="2.1" fill="#f19a52"/>
<ellipse cx="342.1" cy="989.2" rx="3.7" ry="2.1" fill="#f19a52"/>
<ellipse cx="248.0" cy="993.7" rx="3.4" ry="2" fill="#f3b98a"/>
<ellipse cx="254.5" cy="997.4" rx="3.4" ry="2" fill="#f3b98a"/>
<ellipse cx="261.0" cy="1000.1" rx="3.4" ry="2" fill="#f3b98a"/>
<ellipse cx="267.5" cy="1002.2" rx="3.4" ry="2" fill="#f3b98a"/>
<ellipse cx="274.0" cy="1003.8" rx="3.4" ry="2" fill="#f3b98a"/>
<ellipse cx="280.5" cy="1005.1" rx="3.4" ry="2" fill="#f3b98a"/>
<ellipse cx="287.0" cy="1006.2" rx="3.4" ry="2" fill="#f3b98a"/>
<ellipse cx="293.5" cy="1006.9" rx="3.4" ry="2" fill="#f3b98a"/>
<ellipse cx="300.0" cy="1007.5" rx="3.4" ry="2" fill="#f3b98a"/>
<ellipse cx="306.5" cy="1007.8" rx="3.4" ry="2" fill="#f3b98a"/>
<ellipse cx="313.0" cy="1008.0" rx="3.4" ry="2" fill="#f3b98a"/>
<ellipse cx="319.5" cy="1007.9" rx="3.4" ry="2" fill="#f3b98a"/>
<ellipse cx="326.0" cy="1007.7" rx="3.4" ry="2" fill="#f3b98a"/>
<ellipse cx="332.5" cy="1007.2" rx="3.4" ry="2" fill="#f3b98a"/>
<ellipse cx="339.0" cy="1006.6" rx="3.4" ry="2" fill="#f3b98a"/>
<ellipse cx="345.5" cy="1005.6" rx="3.4" ry="2" fill="#f3b98a"/>
<ellipse cx="352.0" cy="1004.5" rx="3.4" ry="2" fill="#f3b98a"/>
<ellipse cx="358.5" cy="1003.0" rx="3.4" ry="2" fill="#f3b98a"/>
<ellipse cx="365.0" cy="1001.1" rx="3.4" ry="2" fill="#f3b98a"/>
<ellipse cx="371.5" cy="998.7" rx="3.4" ry="2" fill="#f3b98a"/>
<ellipse cx="378.0" cy="995.6" rx="3.4" ry="2" fill="#f3b98a"/>
<ellipse cx="384.5" cy="990.9" rx="3.4" ry="2" fill="#f3b98a"/>
<path d="M187.2,865 C192,915 215,945 250,964" stroke="#000" stroke-width="3.2" fill="none"/>
<polygon points="258.5,968.5 241.5,967.4 250.2,964.1 248.0,955.1" fill="#000"/>
<text x="271.2" y="1032.7" font-size="16.8" textLength="86.8" lengthAdjust="spacingAndGlyphs">Culture dish</text>
<path d="M327.6,1038.2 C318,1085 285,1115 252,1128" stroke="#000" stroke-width="3.2" fill="none"/>
<polygon points="242.5,1131.0 254.9,1119.3 251.3,1127.9 259.4,1132.4" fill="#000"/>
<path d="M168,1254 C125,1262 90,1262 64,1252 C46,1245 36,1233 14,1231 C11,1232 11,1235 14,1235 C33,1237 42,1250 60,1259 C88,1270 128,1270 172,1264 Z" stroke="#6b5b4b" stroke-width="0.8" fill="#f1e6d4"/>
<defs><radialGradient id="mbody" cx="0.32" cy="0.55" r="0.75"><stop offset="0" stop-color="#fcfdfd"/><stop offset="0.45" stop-color="#e9ecee"/><stop offset="1" stop-color="#d2d8dc"/></radialGradient><radialGradient id="mhead" cx="0.6" cy="0.45" r="0.6"><stop offset="0" stop-color="#f6f8f9"/><stop offset="1" stop-color="#dde2e5"/></radialGradient><radialGradient id="snout" cx="0.5" cy="0.5" r="0.5"><stop offset="0" stop-color="#f7d4d0"/><stop offset="1" stop-color="#f7d4d0" stop-opacity="0"/></radialGradient></defs>
<path d="M360,1243 C366,1252 372,1258 376,1261 C382,1262 388,1264 389,1268 C384,1270 376,1268 370,1266 C364,1262 358,1254 354,1246 Z" stroke="#333" stroke-width="0.8" fill="#ecdcc2"/>
<path d="M243,1268 C250,1273 262,1278 276,1281 C284,1283 288,1286 286,1288 C278,1289 268,1287 258,1284 C250,1281 244,1276 240,1271 Z" stroke="#333" stroke-width="0.8" fill="#ecdcc2"/>
<path d="M166,1253 C164,1230 172,1204 186,1188 C200,1170 222,1157 250,1148 C268,1142 285,1140 300,1142 C312,1143 322,1147 330,1151 C345,1150 370,1150 390,1151 C400,1156 410,1164 414,1168 C424,1184 432,1200 438,1213 C441,1220 443,1226 440,1231 C434,1237 424,1239 412,1239 C400,1238 392,1236 384,1238 C376,1240 370,1245 365,1252 C356,1260 345,1264 333,1265 C300,1267 260,1269 230,1269 C205,1269 185,1265 172,1260 Z" stroke="#333" stroke-width="1" fill="url(#mbody)"/>
<path d="M330,1262 C340,1262 352,1258 360,1252 C362,1262 366,1274 370,1281 C376,1283 382,1285 384,1289 C378,1291 370,1290 362,1288 C354,1280 346,1272 336,1266 Z" stroke="#333" stroke-width="0.8" fill="#e3e7ea"/>
<path d="M360,1279 C366,1282 375,1284 383,1287 C384,1290 378,1291 370,1290 C364,1288 360,1285 358,1282 Z" stroke="#333" stroke-width="0.7" fill="#ecdcc2"/>
<path d="M207,1262 C212,1266 220,1268 232,1268" stroke="#333" stroke-width="0.8" fill="none"/>
<path d="M390,1151 C389,1140 391,1130 396,1127 C401,1126 406,1135 409,1150 C410,1156 410,1160 410,1163 Z" fill="#dfe4e7" stroke="#333" stroke-width="0.9"/>
<ellipse cx="345" cy="1171" rx="21" ry="22.5" transform="rotate(-25 345 1171)" fill="#dfe4e7" stroke="#333" stroke-width="1"/>
<ellipse cx="352" cy="1177" rx="5" ry="10" transform="rotate(20 352 1177)" fill="#f2c9c4" opacity="0.9"/>
<defs><radialGradient id="tum"><stop offset="0" stop-color="#ee8a30"/><stop offset="0.6" stop-color="#f09a48"/><stop offset="1" stop-color="#f6b980" stop-opacity="0.2"/></radialGradient></defs>
<ellipse cx="244" cy="1162.5" rx="19" ry="9" transform="rotate(-12 244 1162.5)" fill="url(#tum)"/>
<ellipse cx="418" cy="1228" rx="24" ry="10" fill="url(#snout)"/>
<ellipse cx="396" cy="1199.3" rx="8.5" ry="6.2" fill="#111" stroke="#c04040" stroke-width="0.8"/>
<circle cx="396.0" cy="1199.3" r="1.2" fill="#fff"/>
<path d="M431,1223 C434,1229 438,1229 441,1226" stroke="#d07070" stroke-width="1" fill="none"/>
<line x1="440.0" y1="1222.0" x2="465.0" y2="1208.0" stroke="#333" stroke-width="0.8"/>
<line x1="440.0" y1="1224.0" x2="466.0" y2="1218.0" stroke="#333" stroke-width="0.8"/>
<line x1="440.0" y1="1226.0" x2="466.0" y2="1226.0" stroke="#333" stroke-width="0.8"/>
<line x1="440.0" y1="1228.0" x2="463.0" y2="1235.0" stroke="#333" stroke-width="0.8"/>
<line x1="436.0" y1="1230.0" x2="450.0" y2="1248.0" stroke="#333" stroke-width="0.8"/>
<line x1="437.0" y1="1231.0" x2="443.0" y2="1252.0" stroke="#333" stroke-width="0.8"/>
<line x1="424.0" y1="1223.0" x2="398.0" y2="1241.0" stroke="#333" stroke-width="0.8"/>
<line x1="424.0" y1="1225.0" x2="405.0" y2="1251.0" stroke="#333" stroke-width="0.8"/>
<line x1="426.0" y1="1226.0" x2="412.0" y2="1252.0" stroke="#333" stroke-width="0.8"/>
<line x1="428.0" y1="1226.0" x2="418.0" y2="1250.0" stroke="#333" stroke-width="0.8"/>
<g transform="rotate(-27 225 1122)"><rect x="220" y="1090" width="10" height="4" fill="#c9d2d8" stroke="#333" stroke-width="0.8"/><rect x="223.5" y="1094" width="3" height="10" fill="#9aa4aa" stroke="#333" stroke-width="0.6"/><rect x="218" y="1103" width="14" height="3" fill="#c9d2d8" stroke="#333" stroke-width="0.8"/><rect x="221" y="1106" width="8" height="36" fill="#3a3a3a" stroke="#222" stroke-width="0.8"/><rect x="223" y="1134" width="4" height="6" fill="#d4a040"/><line x1="225" y1="1142" x2="225" y2="1156" stroke="#555" stroke-width="1.2"/></g>
<text x="5.0" y="1142.5" font-size="22.0" textLength="212.5" lengthAdjust="spacingAndGlyphs">Subcutaneous tumor</text>
<line x1="217.0" y1="1145.0" x2="237.0" y2="1165.0" stroke="#333" stroke-width="0.8"/>
<text x="471.0" y="705.2" font-size="55" font-weight="bold">d</text>
<line x1="673.1" y1="731.2" x2="673.1" y2="1201.0" stroke="#000" stroke-width="3.4"/>
<line x1="671.7" y1="1199.5" x2="1018.5" y2="1199.5" stroke="#000" stroke-width="3.4"/>
<line x1="662.0" y1="1177.0" x2="673.3" y2="1177.0" stroke="#000" stroke-width="3.2"/>
<text x="649.8" y="1186.9" font-size="28.2" font-weight="bold" text-anchor="end" textLength="45.5" lengthAdjust="spacingAndGlyphs">0.0</text>
<line x1="662.0" y1="1065.9" x2="673.3" y2="1065.9" stroke="#000" stroke-width="3.2"/>
<text x="649.8" y="1075.8" font-size="28.2" font-weight="bold" text-anchor="end" textLength="45.5" lengthAdjust="spacingAndGlyphs">0.5</text>
<line x1="662.0" y1="954.8" x2="673.3" y2="954.8" stroke="#000" stroke-width="3.2"/>
<text x="649.8" y="964.7" font-size="28.2" font-weight="bold" text-anchor="end" textLength="45.5" lengthAdjust="spacingAndGlyphs">1.0</text>
<line x1="662.0" y1="843.7" x2="673.3" y2="843.7" stroke="#000" stroke-width="3.2"/>
<text x="649.8" y="853.6" font-size="28.2" font-weight="bold" text-anchor="end" textLength="45.5" lengthAdjust="spacingAndGlyphs">1.5</text>
<line x1="662.0" y1="732.6" x2="673.3" y2="732.6" stroke="#000" stroke-width="3.2"/>
<text x="649.8" y="742.5" font-size="28.2" font-weight="bold" text-anchor="end" textLength="45.5" lengthAdjust="spacingAndGlyphs">2.0</text>
<line x1="711.7" y1="1199.5" x2="711.7" y2="1210.5" stroke="#000" stroke-width="3.2"/>
<line x1="862.5" y1="1199.5" x2="862.5" y2="1210.5" stroke="#000" stroke-width="3.2"/>
<line x1="1016.9" y1="1199.5" x2="1016.9" y2="1210.5" stroke="#000" stroke-width="3.2"/>
<text x="708.8" y="1245.1" font-size="28.2" font-weight="bold" text-anchor="middle" textLength="17.5" lengthAdjust="spacingAndGlyphs">0</text>
<text x="859.3" y="1245.1" font-size="28.2" font-weight="bold" text-anchor="middle" textLength="17.5" lengthAdjust="spacingAndGlyphs">2</text>
<text x="1010.0" y="1245.1" font-size="28.2" font-weight="bold" text-anchor="middle" textLength="17.5" lengthAdjust="spacingAndGlyphs">4</text>
<text x="860.6" y="1281.2" font-size="26.5" font-weight="bold" text-anchor="middle" textLength="75.9" lengthAdjust="spacingAndGlyphs">days</text>
<text x="589.0" y="953.8" font-size="36" font-weight="bold" text-anchor="middle" textLength="380.0" lengthAdjust="spacingAndGlyphs" transform="rotate(-90 589.0 953.8)">Absorbance at 450nm</text>
<line x1="692.0" y1="748.5" x2="723.8" y2="748.5" stroke="#3b7fc1" stroke-width="3"/>
<line x1="692.0" y1="787.3" x2="723.8" y2="787.3" stroke="#e1262c" stroke-width="3"/>
<text x="741.3" y="755.9" font-size="29.5" font-weight="bold" textLength="64.9" lengthAdjust="spacingAndGlyphs">siNC</text>
<text x="741.3" y="794.8" font-size="29.5" font-weight="bold" textLength="112.4" lengthAdjust="spacingAndGlyphs">siTBX20</text>
<line x1="862.0" y1="1009.2" x2="862.0" y2="978.1" stroke="#3b7fc1" stroke-width="3.2"/>
<line x1="852.0" y1="1009.2" x2="872.0" y2="1009.2" stroke="#3b7fc1" stroke-width="3.2"/>
<line x1="852.0" y1="978.1" x2="872.0" y2="978.1" stroke="#3b7fc1" stroke-width="3.2"/>
<line x1="1013.3" y1="817.0" x2="1013.3" y2="785.9" stroke="#3b7fc1" stroke-width="3.2"/>
<line x1="1003.3" y1="817.0" x2="1023.3" y2="817.0" stroke="#3b7fc1" stroke-width="3.2"/>
<line x1="1003.3" y1="785.9" x2="1023.3" y2="785.9" stroke="#3b7fc1" stroke-width="3.2"/>
<line x1="862.0" y1="1049.2" x2="862.0" y2="1013.7" stroke="#e1262c" stroke-width="3.2"/>
<line x1="852.0" y1="1049.2" x2="872.0" y2="1049.2" stroke="#e1262c" stroke-width="3.2"/>
<line x1="852.0" y1="1013.7" x2="872.0" y2="1013.7" stroke="#e1262c" stroke-width="3.2"/>
<line x1="1013.3" y1="919.2" x2="1013.3" y2="841.5" stroke="#e1262c" stroke-width="3.2"/>
<line x1="1003.3" y1="919.2" x2="1023.3" y2="919.2" stroke="#e1262c" stroke-width="3.2"/>
<line x1="1003.3" y1="841.5" x2="1023.3" y2="841.5" stroke="#e1262c" stroke-width="3.2"/>
<polyline points="711.7,1114.8 862.0,992.6 1013.3,801.5" fill="none" stroke="#3b7fc1" stroke-width="6.2" stroke-linejoin="round"/>
<polyline points="711.7,1114.8 862.0,1030.3 1013.3,881.5" fill="none" stroke="#e1262c" stroke-width="6.2" stroke-linejoin="round"/>
<circle cx="711.7" cy="1114.8" r="5.5" fill="#3b7fc1"/>
<circle cx="862.0" cy="992.6" r="5.5" fill="#3b7fc1"/>
<circle cx="1013.3" cy="801.5" r="5.5" fill="#3b7fc1"/>
<rect x="706.2" y="1109.3" width="11.0" height="11.0" fill="#e1262c"/>
<rect x="856.5" y="1024.8" width="11.0" height="11.0" fill="#e1262c"/>
<rect x="1007.8" y="876.0" width="11.0" height="11.0" fill="#e1262c"/>
<text x="1011.5" y="784.5" font-size="40" font-weight="bold" text-anchor="middle" textLength="32.5" lengthAdjust="spacingAndGlyphs">**</text>
<text x="1088.0" y="821.5" font-size="55" font-weight="bold">e</text>
<text x="1304.0" y="883.3" font-size="24.5" font-weight="bold" text-anchor="end" textLength="68.0" lengthAdjust="spacingAndGlyphs">shNC</text>
<text x="1304.0" y="986.3" font-size="24.5" font-weight="bold" text-anchor="end" textLength="139.0" lengthAdjust="spacingAndGlyphs">shTBX20#1</text>
<text x="1304.0" y="1089.7" font-size="24.5" font-weight="bold" text-anchor="end" textLength="139.0" lengthAdjust="spacingAndGlyphs">shTBX20#2</text>
<defs><filter id="blur3" x="-50%" y="-50%" width="200%" height="200%"><feGaussianBlur stdDeviation="3"/></filter><filter id="blur1"><feGaussianBlur stdDeviation="0.6"/></filter><filter id="blur4" x="-60%" y="-60%" width="220%" height="220%"><feGaussianBlur stdDeviation="4"/></filter><radialGradient id="tumg" cx="0.42" cy="0.4" r="0.62"><stop offset="0" stop-color="#faf1e6"/><stop offset="0.6" stop-color="#f2dccb"/><stop offset="0.9" stop-color="#e3c0ad"/><stop offset="1" stop-color="#d6b09e" stop-opacity="0.7"/></radialGradient><radialGradient id="tumg3" cx="0.45" cy="0.42" r="0.55"><stop offset="0" stop-color="#f7eadd"/><stop offset="0.7" stop-color="#efd8c6"/><stop offset="1" stop-color="#e8cdb9" stop-opacity="0"/></radialGradient><filter id="blur2" x="-50%" y="-50%" width="200%" height="200%"><feGaussianBlur stdDeviation="2"/></filter><radialGradient id="tumg2" cx="0.4" cy="0.35" r="0.6"><stop offset="0" stop-color="#fdf6ee"/><stop offset="1" stop-color="#f0d5c2" stop-opacity="0"/></radialGradient><linearGradient id="bgblue" x1="0" y1="0" x2="1" y2="1"><stop offset="0" stop-color="#69c1de"/><stop offset="0.5" stop-color="#63bcda"/><stop offset="1" stop-color="#5db7d6"/></linearGradient><linearGradient id="ruler" x1="0" y1="0" x2="1" y2="0"><stop offset="0" stop-color="#b2aa98"/><stop offset="0.12" stop-color="#a39b89"/><stop offset="0.3" stop-color="#958d7d"/><stop offset="0.48" stop-color="#8b8072"/><stop offset="0.6" stop-color="#8e8476"/><stop offset="0.75" stop-color="#988e81"/><stop offset="0.88" stop-color="#a99f8f"/><stop offset="1" stop-color="#b1a793"/></linearGradient><linearGradient id="rulerv" x1="0" y1="0" x2="0" y2="1"><stop offset="0" stop-color="#fff" stop-opacity="0.0"/><stop offset="0.5" stop-color="#fff" stop-opacity="0.12"/><stop offset="1" stop-color="#000" stop-opacity="0.06"/></linearGradient></defs>
<rect x="1315.6" y="827.2" width="602.0" height="386.0" fill="url(#bgblue)"/>
<ellipse cx="1350.3" cy="885.9" rx="18.9" ry="22.9" fill="#16506e" opacity="0.72" filter="url(#blur4)"/>
<g transform="rotate(10 1348.8 867.0)"><ellipse cx="1348.8" cy="867.0" rx="21.2" ry="25.1" fill="url(#tumg)"/><ellipse cx="1355.1" cy="862.2" rx="14.9" ry="17.3" fill="url(#tumg3)"/><ellipse cx="1355.0" cy="862.1" rx="13.7" ry="16.9" fill="url(#tumg3)"/><ellipse cx="1355.0" cy="862.1" rx="15.4" ry="16.7" fill="url(#tumg3)"/><ellipse cx="1346.4" cy="863.0" rx="11.8" ry="12.2" fill="#fffaf2" opacity="0.5" filter="url(#blur2)"/></g>
<ellipse cx="1366.3" cy="865.6" rx="3" ry="5" fill="#d83a50" opacity="0.5" filter="url(#blur2)"/>
<ellipse cx="1413.5" cy="887.8" rx="18.2" ry="22.8" fill="#16506e" opacity="0.72" filter="url(#blur4)"/>
<g transform="rotate(-5 1412.0 869.0)"><ellipse cx="1412.0" cy="869.0" rx="20.5" ry="24.9" fill="url(#tumg)"/><ellipse cx="1409.0" cy="861.2" rx="12.8" ry="16.7" fill="url(#tumg3)"/><ellipse cx="1416.0" cy="861.8" rx="14.8" ry="16.4" fill="url(#tumg3)"/><ellipse cx="1407.0" cy="862.7" rx="13.6" ry="16.4" fill="url(#tumg3)"/><ellipse cx="1409.7" cy="865.0" rx="11.4" ry="12.1" fill="#fffaf2" opacity="0.5" filter="url(#blur2)"/></g>
<ellipse cx="1488.2" cy="888.3" rx="14.1" ry="21.2" fill="#16506e" opacity="0.72" filter="url(#blur4)"/>
<g transform="rotate(-10 1486.7 870.8)"><ellipse cx="1486.7" cy="870.8" rx="15.8" ry="23.2" fill="url(#tumg)"/><ellipse cx="1491.5" cy="866.7" rx="10.0" ry="15.4" fill="url(#tumg3)"/><ellipse cx="1481.1" cy="871.7" rx="11.7" ry="14.9" fill="url(#tumg3)"/><ellipse cx="1481.4" cy="873.4" rx="10.9" ry="14.9" fill="url(#tumg3)"/><ellipse cx="1484.9" cy="867.0" rx="8.8" ry="11.2" fill="#fffaf2" opacity="0.5" filter="url(#blur2)"/></g>
<ellipse cx="1563.0" cy="877.6" rx="12.5" ry="15.3" fill="#16506e" opacity="0.72" filter="url(#blur4)"/>
<g transform="rotate(0 1561.5 865.0)"><ellipse cx="1561.5" cy="865.0" rx="14.0" ry="16.7" fill="url(#tumg)"/><ellipse cx="1559.3" cy="870.2" rx="9.7" ry="9.9" fill="url(#tumg3)"/><ellipse cx="1566.5" cy="864.4" rx="10.1" ry="12.1" fill="url(#tumg3)"/><ellipse cx="1561.1" cy="870.7" rx="9.0" ry="10.0" fill="url(#tumg3)"/><ellipse cx="1559.9" cy="862.3" rx="7.8" ry="8.1" fill="#fffaf2" opacity="0.5" filter="url(#blur2)"/></g>
<ellipse cx="1631.5" cy="882.0" rx="11.1" ry="17.0" fill="#16506e" opacity="0.72" filter="url(#blur4)"/>
<g transform="rotate(0 1630.0 868.0)"><ellipse cx="1630.0" cy="868.0" rx="12.5" ry="18.6" fill="url(#tumg)"/><ellipse cx="1626.4" cy="871.8" rx="8.0" ry="13.2" fill="url(#tumg3)"/><ellipse cx="1626.9" cy="863.5" rx="8.5" ry="12.7" fill="url(#tumg3)"/><ellipse cx="1632.7" cy="862.9" rx="8.8" ry="11.3" fill="url(#tumg3)"/><ellipse cx="1628.6" cy="865.0" rx="7.0" ry="9.0" fill="#fffaf2" opacity="0.5" filter="url(#blur2)"/></g>
<ellipse cx="1709.5" cy="882.5" rx="11.6" ry="20.7" fill="#16506e" opacity="0.72" filter="url(#blur4)"/>
<g transform="rotate(0 1708.0 865.5)"><ellipse cx="1708.0" cy="865.5" rx="13.1" ry="22.6" fill="url(#tumg)"/><ellipse cx="1711.3" cy="860.1" rx="8.6" ry="15.7" fill="url(#tumg3)"/><ellipse cx="1712.4" cy="863.2" rx="8.5" ry="15.6" fill="url(#tumg3)"/><ellipse cx="1705.6" cy="872.2" rx="8.3" ry="14.4" fill="url(#tumg3)"/><ellipse cx="1706.5" cy="861.9" rx="7.2" ry="10.9" fill="#fffaf2" opacity="0.5" filter="url(#blur2)"/></g>
<ellipse cx="1768.8" cy="885.5" rx="10.6" ry="18.9" fill="#16506e" opacity="0.72" filter="url(#blur4)"/>
<g transform="rotate(-5 1767.3 870.0)"><ellipse cx="1767.3" cy="870.0" rx="11.9" ry="20.6" fill="url(#tumg)"/><ellipse cx="1763.1" cy="869.6" rx="8.2" ry="13.0" fill="url(#tumg3)"/><ellipse cx="1771.1" cy="867.0" rx="8.4" ry="14.2" fill="url(#tumg3)"/><ellipse cx="1763.2" cy="871.8" rx="8.6" ry="14.2" fill="url(#tumg3)"/><ellipse cx="1766.0" cy="866.7" rx="6.6" ry="10.0" fill="#fffaf2" opacity="0.5" filter="url(#blur2)"/></g>
<ellipse cx="1830.5" cy="883.1" rx="11.6" ry="16.7" fill="#16506e" opacity="0.72" filter="url(#blur4)"/>
<g transform="rotate(0 1829.0 869.4)"><ellipse cx="1829.0" cy="869.4" rx="13.1" ry="18.2" fill="url(#tumg)"/><ellipse cx="1833.6" cy="869.5" rx="9.2" ry="12.0" fill="url(#tumg3)"/><ellipse cx="1832.6" cy="865.4" rx="9.6" ry="12.3" fill="url(#tumg3)"/><ellipse cx="1829.0" cy="863.1" rx="8.9" ry="12.0" fill="url(#tumg3)"/><ellipse cx="1827.5" cy="866.5" rx="7.2" ry="8.8" fill="#fffaf2" opacity="0.5" filter="url(#blur2)"/></g>
<ellipse cx="1891.4" cy="892.1" rx="8.5" ry="17.7" fill="#16506e" opacity="0.72" filter="url(#blur4)"/>
<g transform="rotate(5 1889.9 877.5)"><ellipse cx="1889.9" cy="877.5" rx="9.5" ry="19.3" fill="url(#tumg)"/><ellipse cx="1886.5" cy="878.0" rx="7.0" ry="12.1" fill="url(#tumg3)"/><ellipse cx="1887.8" cy="882.7" rx="6.1" ry="11.8" fill="url(#tumg3)"/><ellipse cx="1892.9" cy="874.2" rx="6.0" ry="12.8" fill="url(#tumg3)"/><ellipse cx="1888.8" cy="874.4" rx="5.3" ry="9.4" fill="#fffaf2" opacity="0.5" filter="url(#blur2)"/></g>
<ellipse cx="1345.5" cy="988.9" rx="13.6" ry="21.7" fill="#16506e" opacity="0.72" filter="url(#blur4)"/>
<g transform="rotate(-28 1344.0 971.0)"><ellipse cx="1344.0" cy="971.0" rx="15.3" ry="23.7" fill="url(#tumg)"/><ellipse cx="1341.6" cy="978.3" rx="10.7" ry="16.4" fill="url(#tumg3)"/><ellipse cx="1343.0" cy="963.0" rx="10.4" ry="15.1" fill="url(#tumg3)"/><ellipse cx="1347.5" cy="964.8" rx="10.2" ry="16.2" fill="url(#tumg3)"/><ellipse cx="1342.3" cy="967.2" rx="8.5" ry="11.5" fill="#fffaf2" opacity="0.5" filter="url(#blur2)"/></g>
<ellipse cx="1411.1" cy="985.3" rx="11.2" ry="16.1" fill="#16506e" opacity="0.72" filter="url(#blur4)"/>
<g transform="rotate(0 1409.6 972.0)"><ellipse cx="1409.6" cy="972.0" rx="12.6" ry="17.7" fill="url(#tumg)"/><ellipse cx="1413.6" cy="974.7" rx="9.0" ry="12.5" fill="url(#tumg3)"/><ellipse cx="1410.8" cy="977.9" rx="8.5" ry="12.6" fill="url(#tumg3)"/><ellipse cx="1412.1" cy="977.0" rx="9.2" ry="12.3" fill="url(#tumg3)"/><ellipse cx="1408.2" cy="969.1" rx="7.0" ry="8.6" fill="#fffaf2" opacity="0.5" filter="url(#blur2)"/></g>
<ellipse cx="1485.0" cy="992.0" rx="10.9" ry="16.0" fill="#16506e" opacity="0.72" filter="url(#blur4)"/>
<g transform="rotate(0 1483.5 978.8)"><ellipse cx="1483.5" cy="978.8" rx="12.2" ry="17.5" fill="url(#tumg)"/><ellipse cx="1479.2" cy="978.6" rx="8.6" ry="12.3" fill="url(#tumg3)"/><ellipse cx="1484.3" cy="984.7" rx="7.7" ry="11.9" fill="url(#tumg3)"/><ellipse cx="1481.0" cy="983.7" rx="8.6" ry="12.3" fill="url(#tumg3)"/><ellipse cx="1482.1" cy="976.0" rx="6.8" ry="8.5" fill="#fffaf2" opacity="0.5" filter="url(#blur2)"/></g>
<ellipse cx="1553.8" cy="995.9" rx="9.6" ry="14.4" fill="#16506e" opacity="0.72" filter="url(#blur4)"/>
<g transform="rotate(0 1552.3 984.0)"><ellipse cx="1552.3" cy="984.0" rx="10.8" ry="15.8" fill="url(#tumg)"/><ellipse cx="1555.8" cy="986.1" rx="6.9" ry="9.5" fill="url(#tumg3)"/><ellipse cx="1548.6" cy="982.8" rx="6.9" ry="10.2" fill="url(#tumg3)"/><ellipse cx="1555.8" cy="981.6" rx="7.4" ry="9.4" fill="url(#tumg3)"/><ellipse cx="1551.1" cy="981.5" rx="6.0" ry="7.7" fill="#fffaf2" opacity="0.5" filter="url(#blur2)"/></g>
<ellipse cx="1629.0" cy="991.6" rx="10.4" ry="15.3" fill="#16506e" opacity="0.72" filter="url(#blur4)"/>
<g transform="rotate(0 1627.5 979.0)"><ellipse cx="1627.5" cy="979.0" rx="11.7" ry="16.7" fill="url(#tumg)"/><ellipse cx="1625.9" cy="973.7" rx="8.3" ry="10.7" fill="url(#tumg3)"/><ellipse cx="1626.3" cy="973.5" rx="8.3" ry="10.4" fill="url(#tumg3)"/><ellipse cx="1625.0" cy="974.4" rx="8.0" ry="10.3" fill="url(#tumg3)"/><ellipse cx="1626.2" cy="976.3" rx="6.5" ry="8.1" fill="#fffaf2" opacity="0.5" filter="url(#blur2)"/></g>
<ellipse cx="1703.0" cy="993.6" rx="6.6" ry="12.1" fill="#16506e" opacity="0.72" filter="url(#blur4)"/>
<g transform="rotate(0 1701.5 983.7)"><ellipse cx="1701.5" cy="983.7" rx="7.5" ry="13.2" fill="url(#tumg)"/><ellipse cx="1700.0" cy="980.0" rx="4.6" ry="9.4" fill="url(#tumg3)"/><ellipse cx="1699.1" cy="985.6" rx="4.7" ry="8.2" fill="url(#tumg3)"/><ellipse cx="1699.3" cy="981.2" rx="4.9" ry="8.2" fill="url(#tumg3)"/><ellipse cx="1700.7" cy="981.6" rx="4.2" ry="6.4" fill="#fffaf2" opacity="0.5" filter="url(#blur2)"/></g>
<ellipse cx="1763.2" cy="982.2" rx="6.8" ry="10.6" fill="#16506e" opacity="0.72" filter="url(#blur4)"/>
<g transform="rotate(0 1761.7 973.5)"><ellipse cx="1761.7" cy="973.5" rx="7.7" ry="11.6" fill="url(#tumg)"/><ellipse cx="1761.9" cy="969.5" rx="5.5" ry="7.7" fill="url(#tumg3)"/><ellipse cx="1759.8" cy="976.4" rx="5.0" ry="7.1" fill="url(#tumg3)"/><ellipse cx="1760.4" cy="977.0" rx="5.3" ry="8.2" fill="url(#tumg3)"/><ellipse cx="1760.9" cy="971.6" rx="4.2" ry="5.6" fill="#fffaf2" opacity="0.5" filter="url(#blur2)"/></g>
<ellipse cx="1828.0" cy="986.2" rx="6.8" ry="11.2" fill="#16506e" opacity="0.72" filter="url(#blur4)"/>
<g transform="rotate(10 1826.5 977.0)"><ellipse cx="1826.5" cy="977.0" rx="7.7" ry="12.3" fill="url(#tumg)"/><ellipse cx="1826.8" cy="972.8" rx="5.5" ry="7.5" fill="url(#tumg3)"/><ellipse cx="1827.9" cy="973.4" rx="4.9" ry="8.7" fill="url(#tumg3)"/><ellipse cx="1824.1" cy="975.0" rx="5.0" ry="8.6" fill="url(#tumg3)"/><ellipse cx="1825.7" cy="975.0" rx="4.2" ry="5.9" fill="#fffaf2" opacity="0.5" filter="url(#blur2)"/></g>
<ellipse cx="1881.5" cy="987.0" rx="5.4" ry="7.2" fill="#16506e" opacity="0.72" filter="url(#blur4)"/>
<g transform="rotate(-20 1880.0 981.0)"><ellipse cx="1880.0" cy="981.0" rx="6.1" ry="7.9" fill="url(#tumg)"/><ellipse cx="1882.0" cy="982.1" rx="3.7" ry="4.9" fill="url(#tumg3)"/><ellipse cx="1881.7" cy="979.3" rx="3.9" ry="5.4" fill="url(#tumg3)"/><ellipse cx="1880.2" cy="978.3" rx="4.1" ry="4.9" fill="url(#tumg3)"/><ellipse cx="1879.3" cy="979.7" rx="3.4" ry="3.8" fill="#fffaf2" opacity="0.5" filter="url(#blur2)"/></g>
<ellipse cx="1341.5" cy="1090.8" rx="11.2" ry="16.3" fill="#16506e" opacity="0.72" filter="url(#blur4)"/>
<g transform="rotate(0 1340.0 1077.4)"><ellipse cx="1340.0" cy="1077.4" rx="12.6" ry="17.9" fill="url(#tumg)"/><ellipse cx="1343.5" cy="1081.1" rx="8.2" ry="12.4" fill="url(#tumg3)"/><ellipse cx="1336.3" cy="1080.8" rx="9.3" ry="10.8" fill="url(#tumg3)"/><ellipse cx="1339.6" cy="1083.5" rx="8.6" ry="10.9" fill="url(#tumg3)"/><ellipse cx="1338.6" cy="1074.5" rx="7.0" ry="8.6" fill="#fffaf2" opacity="0.5" filter="url(#blur2)"/></g>
<ellipse cx="1411.8" cy="1092.6" rx="12.4" ry="15.3" fill="#16506e" opacity="0.72" filter="url(#blur4)"/>
<g transform="rotate(20 1410.3 1080.0)"><ellipse cx="1410.3" cy="1080.0" rx="14.0" ry="16.7" fill="url(#tumg)"/><ellipse cx="1412.2" cy="1085.3" rx="9.9" ry="11.9" fill="url(#tumg3)"/><ellipse cx="1405.5" cy="1081.7" rx="8.7" ry="11.0" fill="url(#tumg3)"/><ellipse cx="1406.1" cy="1083.0" rx="9.0" ry="10.3" fill="url(#tumg3)"/><ellipse cx="1408.8" cy="1077.3" rx="7.8" ry="8.1" fill="#fffaf2" opacity="0.5" filter="url(#blur2)"/></g>
<ellipse cx="1484.7" cy="1088.5" rx="9.4" ry="14.0" fill="#16506e" opacity="0.72" filter="url(#blur4)"/>
<g transform="rotate(0 1483.2 1076.9)"><ellipse cx="1483.2" cy="1076.9" rx="10.5" ry="15.3" fill="url(#tumg)"/><ellipse cx="1486.5" cy="1074.4" rx="6.9" ry="10.9" fill="url(#tumg3)"/><ellipse cx="1486.4" cy="1079.6" rx="6.7" ry="9.4" fill="url(#tumg3)"/><ellipse cx="1486.3" cy="1073.9" rx="6.5" ry="10.7" fill="url(#tumg3)"/><ellipse cx="1482.0" cy="1074.4" rx="5.8" ry="7.4" fill="#fffaf2" opacity="0.5" filter="url(#blur2)"/></g>
<ellipse cx="1554.5" cy="1093.3" rx="9.6" ry="16.1" fill="#16506e" opacity="0.72" filter="url(#blur4)"/>
<g transform="rotate(-40 1553.0 1080.0)"><ellipse cx="1553.0" cy="1080.0" rx="10.8" ry="17.7" fill="url(#tumg)"/><ellipse cx="1553.2" cy="1086.1" rx="6.7" ry="12.6" fill="url(#tumg3)"/><ellipse cx="1556.4" cy="1082.9" rx="7.8" ry="12.2" fill="url(#tumg3)"/><ellipse cx="1549.2" cy="1080.8" rx="7.1" ry="12.4" fill="url(#tumg3)"/><ellipse cx="1551.8" cy="1077.2" rx="6.0" ry="8.6" fill="#fffaf2" opacity="0.5" filter="url(#blur2)"/></g>
<ellipse cx="1561.9" cy="1079.0" rx="3" ry="5" fill="#d83a50" opacity="0.5" filter="url(#blur2)"/>
<ellipse cx="1631.9" cy="1090.7" rx="8.8" ry="14.4" fill="#16506e" opacity="0.72" filter="url(#blur4)"/>
<g transform="rotate(35 1630.4 1078.8)"><ellipse cx="1630.4" cy="1078.8" rx="9.9" ry="15.8" fill="url(#tumg)"/><ellipse cx="1633.9" cy="1078.1" rx="6.4" ry="10.8" fill="url(#tumg3)"/><ellipse cx="1626.9" cy="1078.9" rx="6.5" ry="9.7" fill="url(#tumg3)"/><ellipse cx="1628.1" cy="1074.6" rx="6.6" ry="9.8" fill="url(#tumg3)"/><ellipse cx="1629.3" cy="1076.2" rx="5.5" ry="7.7" fill="#fffaf2" opacity="0.5" filter="url(#blur2)"/></g>
<ellipse cx="1699.0" cy="1094.9" rx="9.4" ry="17.3" fill="#16506e" opacity="0.72" filter="url(#blur4)"/>
<g transform="rotate(-15 1697.5 1080.7)"><ellipse cx="1697.5" cy="1080.7" rx="10.5" ry="18.9" fill="url(#tumg)"/><ellipse cx="1698.3" cy="1087.1" rx="6.9" ry="12.6" fill="url(#tumg3)"/><ellipse cx="1697.9" cy="1087.2" rx="7.7" ry="12.1" fill="url(#tumg3)"/><ellipse cx="1698.4" cy="1087.0" rx="6.5" ry="13.4" fill="url(#tumg3)"/><ellipse cx="1696.3" cy="1077.7" rx="5.8" ry="9.1" fill="#fffaf2" opacity="0.5" filter="url(#blur2)"/></g>
<ellipse cx="1764.5" cy="1093.3" rx="6.6" ry="15.6" fill="#16506e" opacity="0.72" filter="url(#blur4)"/>
<g transform="rotate(0 1763.0 1080.4)"><ellipse cx="1763.0" cy="1080.4" rx="7.5" ry="17.1" fill="url(#tumg)"/><ellipse cx="1762.9" cy="1086.3" rx="4.6" ry="11.1" fill="url(#tumg3)"/><ellipse cx="1765.0" cy="1076.5" rx="4.8" ry="10.7" fill="url(#tumg3)"/><ellipse cx="1765.2" cy="1083.7" rx="5.0" ry="10.3" fill="url(#tumg3)"/><ellipse cx="1762.2" cy="1077.6" rx="4.2" ry="8.3" fill="#fffaf2" opacity="0.5" filter="url(#blur2)"/></g>
<ellipse cx="1827.5" cy="1088.9" rx="8.0" ry="13.6" fill="#16506e" opacity="0.72" filter="url(#blur4)"/>
<g transform="rotate(20 1826.0 1077.7)"><ellipse cx="1826.0" cy="1077.7" rx="9.0" ry="14.9" fill="url(#tumg)"/><ellipse cx="1823.0" cy="1076.1" rx="5.8" ry="9.6" fill="url(#tumg3)"/><ellipse cx="1829.1" cy="1076.7" rx="6.6" ry="9.6" fill="url(#tumg3)"/><ellipse cx="1825.8" cy="1072.6" rx="5.9" ry="10.4" fill="url(#tumg3)"/><ellipse cx="1825.0" cy="1075.3" rx="5.0" ry="7.2" fill="#fffaf2" opacity="0.5" filter="url(#blur2)"/></g>
<ellipse cx="1882.5" cy="1085.8" rx="6.4" ry="9.5" fill="#16506e" opacity="0.72" filter="url(#blur4)"/>
<g transform="rotate(0 1881.0 1078.0)"><ellipse cx="1881.0" cy="1078.0" rx="7.2" ry="10.4" fill="url(#tumg)"/><ellipse cx="1878.9" cy="1076.0" rx="4.5" ry="7.3" fill="url(#tumg3)"/><ellipse cx="1879.1" cy="1080.3" rx="5.3" ry="6.2" fill="url(#tumg3)"/><ellipse cx="1883.6" cy="1078.1" rx="5.0" ry="7.1" fill="url(#tumg3)"/><ellipse cx="1880.2" cy="1076.3" rx="4.0" ry="5.0" fill="#fffaf2" opacity="0.5" filter="url(#blur2)"/></g>
<rect x="1324.4" y="1124.4" width="592.8" height="88.6" fill="url(#ruler)"/>
<rect x="1324.4" y="1124.4" width="592.8" height="88.6" fill="url(#rulerv)"/>
<ellipse cx="1372" cy="1130" rx="24" ry="6" fill="#b08a40" opacity="0.45" filter="url(#blur3)"/>
<path d="M1329.97,1124.6v17M1334.54,1124.6v17M1339.11,1124.6v17M1343.68,1124.6v17M1348.25,1124.6v27M1352.82,1124.6v17M1357.39,1124.6v17M1361.96,1124.6v17M1366.53,1124.6v17M1371.10,1124.6v34M1375.74,1124.6v17M1380.38,1124.6v17M1385.02,1124.6v17M1389.66,1124.6v17M1394.30,1124.6v27M1398.94,1124.6v17M1403.58,1124.6v17M1408.22,1124.6v17M1412.86,1124.6v17M1417.50,1124.6v34M1422.07,1124.6v17M1426.64,1124.6v17M1431.21,1124.6v17M1435.78,1124.6v17M1440.35,1124.6v27M1444.92,1124.6v17M1449.49,1124.6v17M1454.06,1124.6v17M1458.63,1124.6v17M1463.20,1124.6v34M1467.73,1124.6v17M1472.26,1124.6v17M1476.79,1124.6v17M1481.32,1124.6v17M1485.85,1124.6v27M1490.38,1124.6v17M1494.91,1124.6v17M1499.44,1124.6v17M1503.97,1124.6v17M1508.50,1124.6v34M1513.05,1124.6v17M1517.60,1124.6v17M1522.15,1124.6v17M1526.70,1124.6v17M1531.25,1124.6v27M1535.80,1124.6v17M1540.35,1124.6v17M1544.90,1124.6v17M1549.45,1124.6v17M1554.00,1124.6v34M1558.54,1124.6v17M1563.08,1124.6v17M1567.62,1124.6v17M1572.16,1124.6v17M1576.70,1124.6v27M1581.24,1124.6v17M1585.78,1124.6v17M1590.32,1124.6v17M1594.86,1124.6v17M1599.40,1124.6v34M1603.89,1124.6v17M1608.38,1124.6v17M1612.87,1124.6v17M1617.36,1124.6v17M1621.85,1124.6v27M1626.34,1124.6v17M1630.83,1124.6v17M1635.32,1124.6v17M1639.81,1124.6v17M1644.30,1124.6v34M1648.78,1124.6v17M1653.26,1124.6v17M1657.74,1124.6v17M1662.22,1124.6v17M1666.70,1124.6v27M1671.18,1124.6v17M1675.66,1124.6v17M1680.14,1124.6v17M1684.62,1124.6v17M1689.10,1124.6v34M1693.58,1124.6v17M1698.06,1124.6v17M1702.54,1124.6v17M1707.02,1124.6v17M1711.50,1124.6v27M1715.98,1124.6v17M1720.46,1124.6v17M1724.94,1124.6v17M1729.42,1124.6v17M1733.90,1124.6v34M1738.28,1124.6v17M1742.66,1124.6v17M1747.04,1124.6v17M1751.42,1124.6v17M1755.80,1124.6v27M1760.18,1124.6v17M1764.56,1124.6v17M1768.94,1124.6v17M1773.32,1124.6v17M1777.70,1124.6v34M1782.11,1124.6v17M1786.52,1124.6v17M1790.93,1124.6v17M1795.34,1124.6v17M1799.75,1124.6v27M1804.16,1124.6v17M1808.57,1124.6v17M1812.98,1124.6v17M1817.39,1124.6v17M1821.80,1124.6v34M1826.12,1124.6v17M1830.44,1124.6v17M1834.76,1124.6v17M1839.08,1124.6v17M1843.40,1124.6v27M1847.72,1124.6v17M1852.04,1124.6v17M1856.36,1124.6v17M1860.68,1124.6v17M1865.00,1124.6v34M1869.32,1124.6v17M1873.64,1124.6v17M1877.96,1124.6v17M1882.28,1124.6v17M1886.60,1124.6v27M1890.92,1124.6v17M1895.24,1124.6v17M1899.56,1124.6v17M1903.88,1124.6v17M1908.20,1124.6v34M1912.60,1124.6v17" stroke="#3a3632" stroke-width="1.0" fill="none"/>
<path d="M1327.68,1124.6v10M1332.25,1124.6v10M1336.82,1124.6v10M1341.39,1124.6v10M1345.96,1124.6v10M1350.53,1124.6v10M1355.11,1124.6v10M1359.67,1124.6v10M1364.24,1124.6v10M1368.82,1124.6v10M1373.42,1124.6v10M1378.06,1124.6v10M1382.70,1124.6v10M1387.34,1124.6v10M1391.98,1124.6v10M1396.62,1124.6v10M1401.26,1124.6v10M1405.90,1124.6v10M1410.54,1124.6v10M1415.18,1124.6v10M1419.78,1124.6v10M1424.36,1124.6v10M1428.93,1124.6v10M1433.49,1124.6v10M1438.07,1124.6v10M1442.63,1124.6v10M1447.20,1124.6v10M1451.78,1124.6v10M1456.35,1124.6v10M1460.91,1124.6v10M1465.47,1124.6v10M1469.99,1124.6v10M1474.53,1124.6v10M1479.05,1124.6v10M1483.59,1124.6v10M1488.12,1124.6v10M1492.64,1124.6v10M1497.18,1124.6v10M1501.70,1124.6v10M1506.24,1124.6v10M1510.78,1124.6v10M1515.32,1124.6v10M1519.88,1124.6v10M1524.43,1124.6v10M1528.97,1124.6v10M1533.53,1124.6v10M1538.07,1124.6v10M1542.62,1124.6v10M1547.18,1124.6v10M1551.72,1124.6v10M1556.27,1124.6v10M1560.81,1124.6v10M1565.35,1124.6v10M1569.89,1124.6v10M1574.43,1124.6v10M1578.97,1124.6v10M1583.51,1124.6v10M1588.05,1124.6v10M1592.59,1124.6v10M1597.13,1124.6v10M1601.64,1124.6v10M1606.14,1124.6v10M1610.62,1124.6v10M1615.12,1124.6v10M1619.61,1124.6v10M1624.09,1124.6v10M1628.59,1124.6v10M1633.07,1124.6v10M1637.57,1124.6v10M1642.05,1124.6v10M1646.54,1124.6v10M1651.02,1124.6v10M1655.50,1124.6v10M1659.98,1124.6v10M1664.46,1124.6v10M1668.94,1124.6v10M1673.42,1124.6v10M1677.90,1124.6v10M1682.38,1124.6v10M1686.86,1124.6v10M1691.34,1124.6v10M1695.82,1124.6v10M1700.30,1124.6v10M1704.78,1124.6v10M1709.26,1124.6v10M1713.74,1124.6v10M1718.22,1124.6v10M1722.70,1124.6v10M1727.18,1124.6v10M1731.66,1124.6v10M1736.09,1124.6v10M1740.47,1124.6v10M1744.85,1124.6v10M1749.23,1124.6v10M1753.61,1124.6v10M1757.99,1124.6v10M1762.37,1124.6v10M1766.75,1124.6v10M1771.13,1124.6v10M1775.51,1124.6v10M1779.91,1124.6v10M1784.32,1124.6v10M1788.72,1124.6v10M1793.13,1124.6v10M1797.55,1124.6v10M1801.95,1124.6v10M1806.37,1124.6v10M1810.78,1124.6v10M1815.18,1124.6v10M1819.59,1124.6v10M1823.96,1124.6v10M1828.28,1124.6v10M1832.60,1124.6v10M1836.92,1124.6v10M1841.24,1124.6v10M1845.56,1124.6v10M1849.88,1124.6v10M1854.20,1124.6v10M1858.52,1124.6v10M1862.84,1124.6v10M1867.16,1124.6v10M1871.48,1124.6v10M1875.80,1124.6v10M1880.12,1124.6v10M1884.44,1124.6v10M1888.76,1124.6v10M1893.08,1124.6v10M1897.40,1124.6v10M1901.72,1124.6v10M1906.04,1124.6v10M1910.40,1124.6v10M1914.80,1124.6v10" stroke="#3a3632" stroke-width="0.6" fill="none" opacity="0.7"/>
<text x="1334.0" y="1161.5" font-size="10" fill="#2a2a2a" textLength="29.0" lengthAdjust="spacingAndGlyphs">0.5mm</text>
<text x="1779.6" y="1161.5" font-size="10" fill="#2a2a2a">mm</text>
<text x="1371.1" y="1199.0" font-size="37" text-anchor="middle" fill="#141414" textLength="12.0" lengthAdjust="spacingAndGlyphs" stroke="#978e80" stroke-width="1.0">1</text>
<text x="1417.5" y="1199.0" font-size="37" text-anchor="middle" fill="#141414" textLength="12.0" lengthAdjust="spacingAndGlyphs" stroke="#978e80" stroke-width="1.0">2</text>
<text x="1463.2" y="1199.0" font-size="37" text-anchor="middle" fill="#141414" textLength="12.0" lengthAdjust="spacingAndGlyphs" stroke="#978e80" stroke-width="1.0">3</text>
<text x="1508.5" y="1199.0" font-size="37" text-anchor="middle" fill="#141414" textLength="12.0" lengthAdjust="spacingAndGlyphs" stroke="#978e80" stroke-width="1.0">4</text>
<text x="1554.0" y="1202.6" font-size="47" text-anchor="middle" fill="#c0161e" textLength="16.5" lengthAdjust="spacingAndGlyphs" stroke="#938a7c" stroke-width="1.1">5</text>
<text x="1599.4" y="1199.0" font-size="37" text-anchor="middle" fill="#141414" textLength="12.0" lengthAdjust="spacingAndGlyphs" stroke="#978e80" stroke-width="1.0">6</text>
<text x="1644.3" y="1199.0" font-size="37" text-anchor="middle" fill="#141414" textLength="12.0" lengthAdjust="spacingAndGlyphs" stroke="#978e80" stroke-width="1.0">7</text>
<text x="1689.1" y="1199.0" font-size="37" text-anchor="middle" fill="#141414" textLength="12.0" lengthAdjust="spacingAndGlyphs" stroke="#978e80" stroke-width="1.0">8</text>
<text x="1733.9" y="1199.0" font-size="37" text-anchor="middle" fill="#141414" textLength="12.0" lengthAdjust="spacingAndGlyphs" stroke="#978e80" stroke-width="1.0">9</text>
<text x="1777.2" y="1202.4" font-size="48" text-anchor="middle" fill="#c0161e" textLength="30.0" lengthAdjust="spacingAndGlyphs" stroke="#938a7c" stroke-width="1.1">10</text>
<text x="1821.8" y="1199.0" font-size="37" text-anchor="middle" fill="#141414" textLength="12.0" lengthAdjust="spacingAndGlyphs" stroke="#978e80" stroke-width="1.0">1</text>
<text x="1865.0" y="1199.0" font-size="37" text-anchor="middle" fill="#141414" textLength="12.0" lengthAdjust="spacingAndGlyphs" stroke="#978e80" stroke-width="1.0">2</text>
<text x="1908.2" y="1199.0" font-size="37" text-anchor="middle" fill="#141414" textLength="12.0" lengthAdjust="spacingAndGlyphs" stroke="#978e80" stroke-width="1.0">3</text>
<text x="1.5" y="1375.0" font-size="55" font-weight="bold">f</text>
<text x="377.0" y="1394.2" font-size="30.0" font-weight="bold" text-anchor="middle" textLength="425.5" lengthAdjust="spacingAndGlyphs">TBX20 knockdown in KYSE510</text>
<path d="M284.1,1700.4h0M233.3,1674.4h0M297.7,1615.9h0M319.4,1679.8h0M253.8,1699.7h0M225.4,1637.3h0M198.6,1677.6h0M285.6,1632.2h0M225.7,1626.3h0M307.8,1693.8h0M307.3,1614.5h0M242.4,1683.3h0M328.5,1652.1h0M207.8,1691.0h0M313.1,1625.7h0M307.5,1610.9h0M269.7,1576.0h0M247.7,1631.2h0M310.6,1623.9h0M315.1,1628.6h0M293.2,1695.8h0M226.7,1665.7h0M206.0,1673.1h0M209.0,1667.2h0M283.6,1655.8h0M246.5,1676.2h0M232.1,1580.8h0M285.3,1623.7h0M218.8,1608.0h0M217.7,1653.9h0M333.0,1623.4h0M272.6,1613.8h0M312.5,1606.7h0M226.9,1699.4h0M238.9,1668.5h0M224.3,1579.9h0M317.2,1656.6h0M286.3,1651.7h0M322.5,1640.9h0M231.9,1671.3h0M273.2,1669.2h0M276.5,1585.9h0M250.6,1674.9h0M334.1,1635.4h0M207.6,1697.5h0M210.2,1621.3h0M305.4,1646.5h0M203.8,1653.6h0M333.9,1633.6h0M330.4,1602.4h0M196.5,1609.1h0M290.0,1633.2h0M232.1,1619.6h0M210.5,1646.6h0M258.2,1578.5h0M317.1,1662.0h0M264.7,1680.2h0M322.2,1599.1h0M236.5,1619.8h0M279.9,1683.6h0M301.3,1632.8h0M303.5,1633.9h0M195.0,1661.1h0M197.6,1581.8h0M317.5,1601.8h0M237.8,1696.1h0M317.4,1589.6h0M206.8,1639.9h0M204.6,1603.9h0M301.7,1682.1h0M261.2,1631.5h0M231.9,1589.2h0M253.9,1675.9h0M270.1,1607.9h0M223.0,1662.8h0M333.7,1622.6h0M256.0,1635.7h0M211.8,1674.2h0M242.1,1626.5h0M227.0,1674.8h0M204.8,1620.8h0M226.8,1584.9h0M314.8,1683.4h0M228.1,1615.9h0M224.8,1686.3h0M325.4,1629.6h0M260.8,1600.7h0M307.6,1672.8h0M208.4,1647.1h0M254.0,1642.4h0M296.6,1616.2h0M332.2,1673.5h0M251.1,1659.1h0M315.1,1664.1h0M221.4,1644.8h0M253.8,1667.1h0M229.7,1582.5h0M256.7,1590.6h0M271.7,1697.0h0M334.3,1605.7h0M330.1,1596.1h0M313.3,1673.6h0M262.7,1675.6h0M250.9,1696.0h0M247.8,1574.4h0M231.9,1600.8h0M258.4,1648.2h0M328.5,1588.9h0M272.4,1609.4h0M216.5,1664.7h0M330.1,1628.9h0M270.5,1605.5h0M202.9,1627.0h0M265.1,1591.8h0M216.9,1577.6h0M206.1,1679.3h0M277.9,1615.1h0M227.7,1687.9h0M319.1,1663.3h0M277.8,1622.4h0M253.4,1627.1h0M267.8,1581.0h0M223.4,1609.7h0M228.2,1651.7h0M288.6,1664.3h0M239.0,1605.0h0M205.0,1643.5h0M334.2,1591.2h0M205.1,1675.7h0M231.9,1581.2h0M317.8,1596.9h0M246.5,1683.0h0M311.2,1614.5h0M280.2,1574.1h0M286.1,1702.6h0M308.9,1660.0h0M287.5,1580.5h0M213.6,1688.5h0M209.8,1631.1h0M232.9,1624.3h0M295.0,1675.1h0M283.4,1669.0h0M263.1,1584.9h0M312.9,1681.9h0M254.0,1667.3h0M195.4,1602.5h0M283.8,1669.3h0M298.3,1631.3h0M254.6,1702.4h0M205.4,1587.8h0M321.0,1632.1h0M311.3,1628.0h0M215.6,1686.9h0M237.9,1585.7h0M306.0,1595.5h0M320.3,1666.7h0M229.7,1690.2h0M303.7,1592.1h0M251.6,1622.2h0M216.5,1581.6h0M315.5,1585.8h0M308.0,1593.7h0M198.4,1607.0h0M241.2,1581.5h0M306.8,1595.3h0M308.0,1663.9h0M304.8,1683.4h0M316.6,1598.7h0M225.9,1596.5h0M259.1,1663.6h0M305.9,1669.0h0M198.2,1678.3h0M240.7,1590.2h0M329.8,1657.3h0M284.4,1651.2h0M331.8,1632.9h0M325.9,1674.3h0M330.3,1666.7h0M329.2,1658.8h0M210.0,1646.6h0M296.5,1661.0h0M279.5,1636.6h0M248.6,1628.0h0M230.4,1610.7h0M195.1,1582.2h0M270.0,1609.3h0M298.4,1616.7h0M245.7,1694.5h0M287.6,1660.3h0M238.7,1592.4h0M295.3,1662.9h0M238.0,1650.1h0M251.0,1664.9h0M212.7,1648.5h0M326.1,1619.2h0M320.9,1624.9h0M236.9,1631.8h0M195.0,1666.0h0M254.9,1627.6h0M286.2,1642.6h0M256.6,1675.6h0M260.9,1585.4h0M306.0,1675.7h0M206.7,1636.0h0M283.2,1659.7h0M309.1,1608.8h0M288.8,1674.2h0M222.7,1700.4h0M229.1,1641.3h0M313.5,1683.8h0M252.7,1621.0h0M222.0,1612.3h0M263.9,1671.6h0M286.4,1702.9h0M299.7,1604.7h0M209.8,1647.9h0M219.4,1578.0h0M267.2,1697.1h0M229.7,1592.3h0M258.6,1598.5h0M288.0,1574.0h0M278.0,1579.0h0M319.3,1625.1h0M295.3,1637.2h0M310.8,1631.8h0M320.1,1611.6h0M261.1,1669.6h0M229.4,1620.0h0M301.7,1635.0h0M282.3,1667.6h0M205.7,1666.2h0M232.8,1661.7h0M270.3,1685.5h0M227.2,1612.6h0M293.5,1693.4h0M251.8,1632.5h0M252.9,1676.5h0M253.5,1584.9h0M276.4,1612.4h0M314.4,1608.2h0M248.0,1702.9h0M244.0,1604.8h0M314.0,1587.6h0M253.4,1605.6h0M271.1,1624.5h0M225.7,1674.9h0M255.7,1699.8h0M241.8,1614.5h0M251.3,1682.0h0M260.1,1686.9h0M281.7,1700.1h0M249.9,1629.6h0M198.7,1619.3h0M213.8,1643.1h0M201.9,1653.9h0M224.4,1660.8h0M301.1,1652.1h0M299.8,1597.2h0M230.1,1692.9h0M197.6,1632.9h0M334.4,1649.8h0M285.6,1601.2h0M285.8,1604.7h0M327.4,1665.6h0M197.7,1683.7h0M212.5,1615.8h0M273.6,1675.1h0M292.5,1603.7h0M218.3,1624.0h0M299.3,1684.7h0M309.2,1584.6h0M210.0,1700.3h0M238.4,1614.8h0M328.6,1646.3h0M294.7,1691.4h0M291.3,1621.5h0M209.1,1602.3h0M313.5,1626.1h0M211.8,1574.6h0M304.1,1655.4h0M254.7,1655.0h0M265.5,1658.9h0M313.4,1601.8h0M209.6,1577.6h0M283.6,1594.9h0M293.6,1646.1h0M297.3,1580.0h0M232.6,1597.6h0M270.0,1640.2h0M255.7,1607.7h0M232.3,1591.9h0M310.8,1683.4h0M317.9,1663.9h0M259.7,1623.6h0M247.8,1699.9h0M313.6,1671.8h0M224.5,1599.0h0M242.4,1588.2h0M292.7,1666.5h0M196.3,1579.3h0M206.8,1609.2h0M263.1,1604.2h0M291.3,1619.1h0M263.4,1599.6h0M207.9,1674.6h0M291.4,1663.0h0M276.0,1641.6h0M269.0,1647.8h0M299.0,1658.4h0M293.0,1667.2h0M230.0,1687.8h0M221.8,1688.0h0M269.7,1603.7h0M220.7,1675.3h0M262.5,1608.6h0M331.2,1634.0h0M234.4,1690.5h0M222.0,1673.8h0M219.9,1701.8h0M269.4,1667.7h0M330.8,1631.3h0M292.2,1685.9h0M316.1,1637.9h0M316.7,1629.0h0M260.4,1645.9h0M220.6,1696.9h0M326.2,1638.7h0M309.6,1648.4h0M205.2,1621.1h0M202.4,1684.1h0M273.4,1663.8h0M333.6,1671.1h0M301.6,1624.8h0M305.2,1669.4h0M267.8,1644.5h0M256.7,1590.8h0M333.0,1654.1h0M281.5,1623.7h0M298.2,1582.6h0M223.9,1676.0h0M287.0,1683.0h0M219.1,1693.8h0M195.3,1644.5h0M277.7,1665.4h0M227.2,1610.9h0M293.0,1643.8h0M290.8,1583.0h0M304.8,1622.8h0M287.1,1581.2h0M254.2,1632.2h0M285.3,1584.5h0M310.2,1685.3h0M218.0,1663.3h0M299.4,1629.2h0M235.2,1687.3h0M291.0,1612.1h0M326.4,1636.5h0M263.8,1693.1h0M200.5,1647.0h0M239.9,1670.8h0M207.6,1577.4h0M311.5,1628.8h0M327.6,1588.1h0M288.7,1668.3h0M200.5,1604.4h0M260.5,1618.2h0M322.7,1668.9h0M276.6,1620.4h0M263.5,1691.7h0M243.4,1659.9h0M288.4,1591.1h0M240.9,1612.6h0M235.1,1579.6h0M308.4,1631.6h0M258.4,1662.4h0M240.0,1576.4h0M251.3,1636.1h0M332.8,1621.8h0M270.6,1649.4h0M221.1,1656.2h0M300.4,1622.4h0M300.9,1673.3h0M271.5,1581.9h0M256.0,1612.0h0M211.8,1576.0h0M279.8,1672.3h0M217.0,1631.4h0M271.9,1691.4h0M333.3,1598.4h0M259.3,1688.2h0M311.0,1637.3h0M294.9,1636.7h0M233.0,1594.1h0M331.7,1660.2h0M271.8,1653.3h0M323.5,1635.8h0M317.6,1598.4h0M233.4,1600.0h0M252.8,1581.1h0M265.7,1596.0h0M234.4,1664.5h0M276.8,1572.6h0M263.2,1684.2h0M270.0,1658.4h0M271.9,1632.4h0M258.4,1661.4h0M221.2,1612.1h0M274.7,1673.0h0M303.1,1691.7h0M298.8,1612.5h0M308.1,1650.3h0M287.5,1596.0h0M331.7,1636.7h0M200.1,1637.7h0M277.2,1589.5h0M316.9,1643.3h0M268.3,1643.7h0M295.7,1649.1h0M286.3,1683.4h0M260.4,1576.5h0M242.1,1612.8h0M285.6,1591.9h0M313.8,1597.8h0M247.9,1662.1h0M295.2,1605.2h0M316.6,1686.4h0M204.4,1620.8h0M323.4,1586.7h0M299.1,1645.7h0M208.6,1620.5h0M316.6,1642.9h0M291.7,1585.9h0M201.3,1599.2h0M235.8,1654.5h0M215.2,1634.0h0M273.9,1599.7h0M218.6,1693.3h0M316.4,1624.2h0M228.5,1583.9h0M214.9,1643.1h0M230.3,1670.2h0M196.2,1598.1h0M320.6,1618.5h0M216.9,1645.7h0M243.1,1626.6h0M284.0,1648.0h0M229.8,1592.7h0M222.7,1653.2h0M262.3,1672.5h0M274.7,1628.2h0M333.4,1655.0h0M331.3,1621.6h0M233.2,1629.4h0M290.6,1606.2h0M201.7,1624.1h0M264.2,1585.0h0M234.8,1598.8h0M279.6,1657.4h0M283.7,1622.2h0M289.5,1609.1h0M286.9,1593.7h0M282.6,1585.1h0M285.1,1663.1h0M256.4,1627.6h0M297.1,1688.6h0M236.1,1605.6h0M219.4,1686.3h0M270.2,1576.2h0M269.0,1583.8h0M310.8,1664.3h0M310.0,1639.2h0M307.4,1609.0h0M242.2,1688.5h0M329.2,1670.6h0M329.7,1602.3h0M295.9,1577.7h0M329.9,1607.5h0M245.9,1599.9h0M196.8,1633.3h0M258.3,1615.4h0M288.7,1627.0h0M309.6,1587.5h0M210.0,1673.0h0M198.4,1587.6h0M273.2,1583.6h0M225.8,1695.4h0M309.8,1591.1h0M237.1,1650.1h0M214.4,1579.5h0M237.4,1639.0h0M208.5,1587.2h0M213.8,1644.1h0M288.4,1606.2h0M326.9,1644.4h0M298.5,1680.1h0M252.8,1690.7h0M263.2,1650.1h0M327.7,1681.7h0M246.6,1645.5h0M327.5,1602.1h0M208.8,1613.7h0M270.9,1575.4h0M244.9,1651.4h0M221.4,1687.6h0M313.2,1642.0h0M287.4,1619.5h0M278.2,1700.8h0M304.7,1667.5h0M212.5,1629.6h0M204.5,1603.3h0M223.8,1675.3h0M316.2,1655.3h0M215.5,1585.5h0M195.3,1591.0h0M215.1,1686.6h0M229.9,1680.8h0M287.1,1700.3h0M197.0,1600.0h0M228.1,1661.2h0M219.2,1696.8h0M298.4,1634.5h0M298.9,1640.6h0M303.4,1635.9h0M210.1,1637.5h0M326.8,1681.0h0M304.2,1594.2h0M267.7,1643.6h0M329.4,1678.2h0M261.7,1651.0h0M290.6,1639.3h0M321.8,1680.2h0M206.2,1623.8h0M204.1,1667.6h0M283.2,1631.7h0M240.3,1573.2h0M268.9,1644.1h0M279.4,1690.6h0M292.8,1592.8h0M285.7,1602.8h0M295.5,1673.6h0M257.9,1673.7h0M242.2,1644.2h0M252.9,1691.2h0M254.4,1616.4h0M247.1,1683.6h0M323.7,1680.0h0M310.9,1682.6h0M208.4,1606.7h0M308.2,1630.8h0M276.7,1630.0h0M240.9,1687.6h0M244.2,1616.4h0M299.6,1592.8h0M295.5,1579.0h0M278.7,1657.5h0M275.5,1675.7h0M286.5,1674.2h0M210.0,1592.7h0M246.2,1603.6h0M275.0,1597.7h0M312.8,1584.9h0M309.1,1624.4h0M284.6,1700.2h0M324.5,1603.8h0M232.2,1680.0h0M292.9,1662.3h0M242.3,1702.8h0M316.3,1629.9h0M250.8,1685.0h0M283.2,1699.6h0M299.0,1672.5h0M253.5,1658.9h0M246.5,1609.0h0M303.3,1629.5h0M206.7,1696.7h0M216.9,1622.6h0M288.9,1668.0h0M287.3,1639.9h0M256.6,1667.8h0M300.2,1684.4h0M254.9,1666.5h0M289.6,1639.8h0M288.0,1697.7h0M250.0,1625.0h0M196.0,1664.1h0M224.4,1685.6h0M230.5,1660.6h0M196.0,1605.6h0M219.4,1653.8h0M293.1,1637.9h0M311.2,1603.0h0M205.0,1590.6h0M200.8,1701.2h0M323.4,1600.3h0M275.2,1628.4h0M293.9,1648.3h0M211.0,1700.9h0M240.2,1598.5h0M281.1,1594.5h0M323.2,1678.1h0M312.7,1665.3h0M277.1,1634.9h0M250.1,1662.9h0M242.3,1660.0h0M218.4,1636.7h0M210.8,1636.7h0M321.3,1652.2h0M296.4,1598.0h0M308.6,1667.3h0M215.3,1677.8h0M278.9,1603.9h0M286.4,1680.4h0M302.7,1638.2h0M300.2,1606.1h0M257.5,1582.4h0M273.7,1620.3h0M282.0,1590.3h0M282.4,1683.8h0M204.4,1645.6h0M237.1,1667.6h0M202.7,1637.1h0M238.2,1644.4h0M202.8,1594.5h0M205.6,1590.3h0M314.2,1624.5h0M265.6,1642.9h0M272.2,1599.8h0M319.9,1642.0h0M307.9,1619.9h0M239.8,1641.2h0M215.9,1695.5h0M209.3,1585.7h0M242.8,1609.9h0M265.3,1681.0h0M229.5,1646.2h0M256.2,1635.1h0M217.0,1654.7h0M234.4,1650.0h0M242.1,1625.2h0M305.0,1620.2h0M204.1,1691.3h0M289.5,1666.3h0M295.9,1618.2h0M321.4,1598.5h0M241.4,1627.2h0M214.6,1657.8h0M329.9,1617.6h0M249.6,1625.6h0M325.8,1655.3h0M247.5,1599.8h0M308.4,1617.9h0M310.6,1610.4h0M290.5,1634.6h0M285.0,1648.1h0M245.4,1656.1h0M220.0,1675.5h0M327.1,1637.8h0M226.5,1685.6h0M205.7,1592.9h0M209.0,1602.5h0M311.4,1594.5h0M200.2,1659.5h0M301.8,1681.8h0M247.5,1682.4h0M310.9,1606.9h0M307.8,1675.6h0M256.0,1649.7h0M289.3,1672.5h0M256.9,1666.3h0M299.3,1643.9h0M269.4,1663.0h0M307.7,1640.8h0M311.4,1651.8h0M327.0,1589.4h0M259.3,1666.7h0M248.2,1634.4h0M329.7,1606.3h0M306.7,1679.1h0M229.8,1619.5h0M316.9,1631.1h0M209.2,1592.7h0M313.7,1660.5h0M301.4,1664.9h0M321.2,1672.9h0M255.9,1579.5h0M225.9,1644.5h0M243.7,1700.2h0M202.3,1637.8h0M227.8,1573.2h0M247.2,1700.0h0M324.8,1602.9h0M285.6,1599.8h0M214.1,1666.0h0M310.7,1615.2h0M214.3,1611.1h0M257.5,1703.0h0M205.9,1670.1h0M311.4,1631.7h0M296.4,1634.3h0M210.4,1665.9h0M236.9,1697.4h0M253.5,1599.5h0M258.7,1689.1h0M321.2,1626.8h0M197.2,1636.0h0M228.7,1684.8h0M254.8,1623.0h0M228.5,1649.0h0M287.6,1692.4h0M330.9,1676.9h0M268.3,1637.1h0M332.8,1631.3h0M249.4,1642.0h0M283.6,1574.9h0M230.3,1701.5h0M304.9,1655.6h0M297.2,1621.8h0M302.5,1609.5h0M241.3,1697.8h0M271.1,1596.9h0M219.3,1601.4h0M259.7,1612.4h0M283.0,1597.2h0M203.7,1601.8h0M258.8,1665.2h0M201.0,1677.5h0M200.7,1581.2h0M266.8,1573.9h0M270.7,1670.4h0M300.0,1675.1h0M244.7,1601.2h0M315.7,1655.0h0M212.3,1655.4h0M319.0,1611.4h0M319.7,1648.6h0M330.8,1636.7h0M264.3,1582.4h0M267.3,1598.5h0M296.3,1690.3h0M279.0,1595.8h0M271.0,1661.5h0M206.1,1616.9h0M237.7,1624.6h0M254.3,1613.2h0M243.9,1698.1h0M316.3,1652.7h0M334.2,1656.7h0M331.6,1594.6h0M205.4,1620.0h0M245.6,1598.5h0M289.7,1578.8h0M214.8,1623.9h0M303.9,1692.3h0M204.3,1601.5h0M246.0,1653.4h0M274.0,1624.3h0M289.6,1579.3h0M246.8,1603.5h0M275.0,1634.2h0M250.4,1618.4h0M229.7,1688.8h0M297.5,1637.8h0M248.9,1630.0h0M231.4,1669.5h0M257.2,1572.9h0M234.7,1583.4h0M263.4,1687.6h0M313.9,1642.3h0M320.3,1642.5h0M207.1,1614.2h0M312.9,1656.9h0M243.4,1695.1h0M270.5,1586.7h0M313.7,1613.9h0M324.3,1622.9h0M305.6,1636.4h0M211.8,1677.3h0M214.3,1600.0h0M198.6,1631.0h0M246.4,1598.2h0M271.9,1623.4h0M206.9,1663.1h0M334.4,1616.4h0M268.2,1602.7h0M309.8,1685.3h0M330.6,1623.0h0M257.7,1614.4h0M243.0,1588.5h0M303.8,1620.9h0M220.3,1576.9h0M255.3,1584.2h0M202.6,1687.4h0M216.2,1682.0h0M239.9,1610.6h0M243.2,1580.2h0M319.8,1600.9h0M229.9,1620.3h0M271.8,1687.2h0M237.1,1633.7h0M265.0,1681.5h0M326.3,1670.4h0M286.8,1609.1h0M279.3,1593.1h0M273.5,1595.4h0M198.9,1697.7h0M284.4,1628.0h0M285.7,1603.0h0M253.0,1619.8h0M264.4,1621.4h0M235.3,1578.1h0M262.3,1598.1h0M290.5,1664.3h0M205.1,1695.8h0M256.2,1640.1h0M223.4,1624.1h0M238.5,1609.4h0M297.3,1593.0h0M331.0,1670.9h0M246.6,1630.0h0M239.4,1642.4h0M232.2,1671.1h0M208.4,1665.6h0M248.5,1622.9h0M229.5,1590.1h0M217.2,1660.7h0M275.5,1662.6h0M301.4,1637.8h0M266.7,1638.2h0M237.9,1700.6h0M326.8,1636.0h0M329.8,1663.4h0M244.1,1697.0h0M263.9,1587.9h0M286.2,1641.9h0M269.8,1592.5h0M255.0,1587.9h0M296.4,1604.8h0M246.0,1651.1h0M274.5,1678.1h0M272.1,1694.0h0M265.3,1603.4h0M233.9,1573.9h0M289.8,1687.8h0M330.9,1646.3h0M305.8,1656.1h0M325.9,1611.5h0M222.7,1636.9h0M264.7,1697.7h0M214.0,1660.0h0M261.0,1643.7h0M279.5,1636.0h0M240.7,1623.2h0M217.6,1573.7h0M298.1,1662.4h0M241.8,1595.0h0M269.2,1610.7h0M236.7,1596.6h0M246.3,1615.2h0M331.6,1628.5h0M306.1,1611.2h0M290.9,1699.4h0M261.1,1576.8h0M304.1,1604.9h0M275.5,1609.0h0M276.3,1681.3h0M282.7,1622.3h0M312.3,1676.0h0M289.9,1699.2h0M327.2,1674.4h0M197.5,1662.5h0M216.0,1613.1h0M252.2,1602.0h0M323.3,1599.2h0M297.6,1691.8h0M214.2,1676.4h0M240.2,1616.8h0M268.2,1662.5h0M219.1,1584.0h0M242.7,1657.2h0M302.6,1611.2h0M284.7,1612.7h0M280.0,1678.4h0M229.3,1630.4h0M226.3,1576.0h0M236.4,1665.7h0M223.8,1611.2h0M239.1,1657.9h0M325.2,1607.4h0M233.0,1687.7h0M289.3,1653.8h0M331.7,1606.7h0M328.1,1607.1h0M235.4,1665.9h0M294.5,1657.2h0M256.6,1670.0h0M261.7,1677.1h0M270.0,1581.2h0M292.0,1684.6h0M280.8,1626.7h0M228.7,1615.8h0M269.0,1620.0h0M202.2,1649.4h0M295.0,1688.1h0M302.4,1696.5h0M271.7,1581.8h0M251.7,1581.0h0M317.5,1639.3h0M222.7,1577.2h0M239.7,1618.9h0M321.6,1678.7h0M275.0,1633.4h0M295.8,1583.1h0M322.3,1669.7h0M318.0,1671.0h0M323.2,1586.6h0M250.3,1638.7h0M325.6,1591.0h0M324.1,1599.0h0M196.2,1629.1h0M209.9,1574.7h0M234.6,1573.9h0M270.7,1638.8h0M325.8,1602.0h0M260.2,1678.4h0M210.6,1682.3h0M258.9,1669.9h0M220.9,1607.0h0M305.2,1629.5h0M300.6,1676.8h0M314.4,1593.9h0M310.3,1635.5h0M207.0,1615.8h0M220.7,1685.2h0M240.0,1671.1h0M231.3,1672.7h0M300.1,1582.5h0M237.0,1608.8h0M196.5,1617.9h0M291.6,1694.5h0M211.4,1663.4h0M251.5,1637.7h0M319.8,1615.7h0M238.3,1688.2h0M322.7,1657.4h0M280.7,1674.9h0M213.5,1683.6h0M299.2,1624.7h0M252.9,1631.6h0M260.6,1633.1h0M287.6,1675.0h0M229.4,1604.6h0M316.7,1681.5h0M257.2,1611.3h0M205.8,1629.6h0M203.5,1631.8h0M265.4,1628.5h0M215.8,1660.6h0M267.5,1688.4h0M223.6,1627.1h0M207.6,1636.7h0M307.7,1642.6h0M266.5,1643.7h0M203.0,1643.0h0M307.5,1611.7h0M250.1,1596.5h0M299.0,1628.1h0M201.2,1658.4h0M203.8,1573.2h0M325.3,1679.2h0M325.2,1682.9h0M251.9,1602.8h0M301.7,1580.2h0M285.0,1648.5h0M333.4,1647.0h0M316.2,1593.5h0M247.3,1614.1h0M287.2,1632.9h0M286.1,1658.0h0M219.8,1633.2h0M268.7,1608.2h0M226.0,1703.2h0M198.1,1664.5h0M288.9,1632.2h0M269.1,1595.6h0M229.4,1658.2h0M233.4,1580.7h0M296.1,1686.2h0M307.8,1646.5h0M301.8,1591.5h0M197.1,1676.6h0M209.0,1699.2h0M278.3,1611.4h0M201.7,1606.5h0M251.0,1672.9h0M225.2,1590.3h0M202.8,1637.5h0M235.3,1596.6h0M297.0,1660.2h0M278.3,1615.4h0M239.6,1664.1h0M214.9,1617.0h0M225.7,1664.2h0M203.4,1579.2h0M317.6,1593.4h0M282.2,1647.6h0M264.0,1576.1h0M326.3,1619.8h0M304.5,1658.7h0M253.0,1684.1h0M247.4,1604.7h0M261.0,1592.2h0M236.9,1610.8h0M307.3,1589.6h0M273.4,1576.7h0M272.7,1686.1h0M228.8,1677.0h0M285.1,1582.7h0M313.1,1681.8h0M296.0,1676.5h0M232.4,1615.3h0M279.0,1589.0h0M221.1,1603.7h0M296.0,1630.4h0M261.8,1589.6h0M241.4,1578.1h0M197.0,1580.7h0M329.1,1672.9h0M334.4,1638.1h0M228.7,1624.4h0M223.4,1583.6h0M271.9,1601.9h0M248.0,1633.6h0M245.0,1669.3h0M266.4,1638.4h0M208.7,1574.9h0M260.4,1593.5h0M322.5,1649.8h0M252.6,1629.8h0M225.8,1684.5h0M231.3,1581.0h0M275.7,1648.9h0M216.2,1660.4h0M247.9,1594.3h0M264.6,1617.8h0M290.4,1669.6h0M309.5,1584.5h0M284.4,1639.3h0M218.4,1599.3h0M218.5,1609.1h0M263.0,1583.4h0M270.5,1619.4h0M203.1,1699.2h0M313.0,1588.2h0M288.1,1603.4h0M252.4,1593.1h0M227.2,1610.9h0M196.2,1637.3h0M247.0,1622.6h0M287.9,1622.8h0M262.3,1639.6h0M195.8,1631.3h0M196.5,1634.2h0M233.2,1575.4h0M197.3,1597.0h0M288.9,1597.9h0M321.8,1676.8h0M208.3,1684.1h0M221.7,1634.6h0M308.6,1663.7h0M250.3,1654.7h0M251.5,1629.5h0M333.1,1661.4h0M290.3,1592.7h0M286.1,1591.1h0M300.9,1686.6h0M247.8,1631.1h0M202.7,1702.4h0M218.8,1638.1h0M255.4,1600.7h0M273.8,1591.1h0M208.2,1634.4h0M200.8,1675.9h0M316.0,1595.4h0M261.2,1697.5h0M205.3,1582.2h0M320.4,1630.2h0M199.5,1581.8h0M238.8,1577.5h0M276.8,1605.0h0M294.3,1650.7h0M205.6,1682.3h0M228.4,1594.1h0M249.2,1586.0h0M241.2,1604.5h0M214.4,1574.0h0M295.9,1637.7h0M330.8,1678.2h0M255.9,1593.6h0M242.4,1602.8h0M328.1,1646.4h0M302.8,1693.4h0M233.0,1573.4h0M263.3,1657.0h0M326.2,1643.2h0M289.7,1617.0h0M206.9,1622.5h0M306.2,1612.7h0M206.3,1683.4h0M294.2,1620.9h0M298.1,1660.3h0M209.8,1703.0h0M237.9,1656.4h0M232.5,1686.3h0M221.0,1644.8h0M272.3,1650.1h0M198.6,1657.2h0M207.9,1625.2h0M240.2,1653.1h0M235.6,1652.8h0M206.7,1585.4h0M321.2,1587.7h0M274.7,1681.4h0M248.0,1685.4h0M236.9,1639.0h0M203.7,1646.6h0M253.7,1640.1h0M205.6,1670.6h0M229.3,1621.6h0M277.7,1678.0h0M209.8,1663.7h0M327.3,1652.8h0M281.4,1598.2h0M240.9,1659.7h0M308.7,1596.4h0M330.8,1670.5h0M239.6,1579.4h0M222.9,1662.4h0M329.5,1591.9h0M235.6,1612.5h0M263.4,1628.1h0M228.7,1654.3h0M308.8,1649.4h0M210.8,1629.7h0M277.5,1632.1h0M290.0,1631.5h0M327.9,1640.2h0M293.7,1645.7h0M235.5,1612.8h0M309.2,1603.7h0M252.0,1638.1h0M283.3,1671.9h0M286.8,1609.8h0M305.0,1687.3h0M333.1,1638.2h0M250.8,1637.2h0M323.3,1617.4h0M270.7,1599.9h0M245.1,1586.2h0M269.8,1619.9h0M206.8,1602.8h0M286.6,1657.1h0M285.2,1697.8h0M332.1,1619.9h0M250.7,1604.9h0M329.6,1643.0h0M196.4,1669.7h0M266.1,1635.6h0M275.9,1628.2h0M257.1,1652.3h0M302.7,1626.9h0M264.7,1658.4h0M198.3,1689.9h0M252.9,1577.5h0M211.1,1580.2h0M214.7,1662.7h0M258.4,1676.5h0M262.3,1641.2h0M256.0,1612.2h0M239.4,1664.3h0M307.9,1681.3h0M313.4,1620.9h0M289.4,1682.0h0M332.2,1660.0h0M219.2,1682.6h0M273.0,1577.9h0M227.2,1650.5h0M220.6,1619.6h0M255.2,1699.8h0M280.6,1677.8h0M277.5,1652.6h0M293.2,1675.4h0M299.9,1600.1h0M203.6,1690.3h0M316.6,1670.3h0M240.4,1643.6h0M231.5,1590.5h0M268.5,1619.8h0M278.2,1623.4h0M276.8,1658.0h0M312.9,1624.2h0M308.4,1613.8h0M236.4,1623.0h0M206.7,1686.1h0M211.3,1663.6h0M220.4,1612.7h0M266.2,1648.8h0M214.1,1653.3h0M220.8,1620.3h0M291.6,1619.2h0M334.4,1631.2h0M263.2,1685.2h0M238.8,1644.5h0M202.4,1656.5h0M196.2,1685.7h0M308.6,1584.5h0M265.4,1638.7h0M290.4,1649.0h0M312.1,1638.4h0M206.4,1699.6h0M301.1,1662.6h0M233.2,1633.1h0M218.4,1643.6h0M298.5,1605.0h0M271.6,1688.8h0M210.8,1602.0h0M309.8,1652.2h0M309.7,1688.9h0M295.2,1632.0h0M333.0,1672.8h0M310.7,1609.1h0M236.4,1572.5h0M257.6,1657.9h0M308.9,1644.2h0M333.6,1611.1h0M228.0,1597.3h0M276.9,1657.6h0M294.1,1621.0h0M218.1,1685.4h0M223.7,1676.5h0M203.2,1657.6h0M234.1,1633.0h0M240.1,1611.3h0M235.3,1668.6h0M314.6,1584.4h0M289.7,1691.0h0M329.2,1609.2h0M323.1,1587.0h0M315.9,1677.0h0M315.7,1663.8h0M294.2,1596.2h0M301.1,1616.3h0M263.2,1627.9h0M232.4,1649.3h0M258.0,1620.5h0M317.7,1679.9h0M266.8,1667.1h0M325.5,1649.5h0M327.5,1653.2h0M195.2,1602.1h0M297.1,1609.1h0M258.9,1616.5h0M244.9,1695.3h0M269.5,1675.1h0M254.8,1675.9h0M232.4,1595.0h0M242.0,1627.8h0M273.9,1640.0h0M242.9,1614.1h0M201.6,1690.6h0M304.3,1642.2h0M212.2,1591.1h0M256.5,1703.6h0M328.6,1665.0h0M291.0,1685.7h0M285.6,1682.8h0M325.0,1659.0h0M286.2,1670.8h0M246.8,1585.1h0M218.0,1651.6h0M237.5,1611.9h0M227.6,1617.7h0M293.1,1701.6h0M261.4,1686.2h0M226.5,1614.4h0M196.2,1612.4h0M308.9,1581.8h0M253.8,1686.3h0M204.8,1653.4h0M296.9,1687.2h0M238.6,1588.1h0M214.0,1602.2h0M300.0,1682.2h0M333.4,1668.9h0M268.9,1702.5h0M285.6,1645.9h0M295.7,1621.7h0M216.0,1649.6h0M290.7,1591.3h0M207.0,1690.5h0M299.9,1626.7h0M248.5,1577.3h0M238.8,1685.3h0M233.5,1692.6h0M272.1,1624.9h0M279.7,1601.4h0M291.2,1593.0h0M286.8,1664.1h0M267.1,1636.8h0M299.2,1662.6h0M202.5,1585.8h0M328.1,1637.0h0M210.6,1638.1h0M277.8,1634.3h0M331.3,1590.9h0M325.2,1673.0h0M315.0,1629.6h0M245.9,1614.0h0M301.3,1582.9h0M302.4,1695.2h0M204.3,1669.3h0M200.5,1695.7h0M305.0,1636.6h0M282.6,1637.9h0M252.9,1611.6h0M206.4,1633.3h0M280.9,1667.2h0M238.1,1636.6h0M223.2,1597.6h0M269.7,1652.4h0M283.4,1594.2h0M289.9,1694.7h0M292.4,1608.4h0M313.0,1685.6h0M206.9,1646.6h0M258.2,1623.8h0M238.0,1606.3h0M298.2,1684.5h0M293.7,1612.2h0M217.8,1578.6h0M267.9,1600.9h0M295.5,1679.6h0M212.6,1601.2h0M232.4,1587.4h0M302.5,1693.6h0M307.5,1663.5h0M203.8,1610.2h0M275.4,1693.5h0M258.4,1656.4h0M264.6,1629.3h0M246.2,1670.2h0M209.3,1628.4h0M295.7,1671.8h0M265.9,1697.9h0M315.3,1664.5h0M260.7,1653.4h0M215.8,1581.5h0M314.5,1631.3h0M322.4,1612.3h0M253.4,1661.4h0M253.0,1609.1h0M232.7,1693.4h0M246.9,1637.8h0M320.7,1669.8h0M307.1,1581.9h0M328.0,1678.0h0M259.8,1666.6h0M312.8,1656.1h0M272.1,1702.6h0M222.9,1629.7h0M237.3,1621.9h0M259.6,1626.0h0M263.7,1602.3h0M222.2,1585.5h0M301.0,1668.3h0M195.8,1649.9h0M227.4,1658.2h0M312.0,1595.4h0M327.6,1684.7h0M286.6,1592.3h0M296.4,1687.2h0M268.8,1672.4h0M263.5,1695.8h0M334.0,1617.0h0M207.9,1582.8h0M320.1,1634.7h0M292.7,1654.2h0M330.9,1675.3h0M208.2,1686.1h0M309.3,1685.3h0M274.1,1646.6h0M329.4,1661.4h0M231.3,1662.3h0M306.6,1614.1h0M297.5,1660.2h0M232.8,1693.9h0M223.2,1601.3h0M276.5,1683.3h0M217.8,1642.5h0M251.6,1633.3h0M329.5,1664.2h0M194.0,1675.9h0M190.7,1691.3h0M200.7,1595.3h0M200.9,1708.1h0M203.3,1666.9h0M190.2,1678.3h0M194.9,1640.2h0M200.5,1676.6h0M206.0,1709.4h0M195.7,1649.0h0M201.8,1678.0h0M196.7,1598.5h0M191.1,1712.2h0M203.2,1572.9h0M190.9,1595.7h0M195.2,1623.5h0M200.0,1630.3h0M193.2,1597.3h0M189.0,1704.6h0M204.5,1650.3h0M190.9,1584.0h0M203.2,1666.3h0M189.4,1647.7h0M191.6,1631.5h0M203.1,1657.2h0M189.1,1615.9h0M191.7,1683.1h0M191.9,1673.7h0M204.2,1708.9h0M199.5,1678.6h0M193.8,1654.8h0M198.3,1705.1h0M193.5,1694.2h0M192.1,1587.0h0M197.9,1623.4h0M202.7,1599.8h0M206.0,1601.7h0M194.9,1635.8h0M197.1,1582.9h0M197.5,1658.2h0M191.8,1668.1h0M192.5,1585.4h0M202.3,1705.5h0M206.1,1637.9h0M202.1,1570.5h0M205.8,1699.5h0M200.2,1675.7h0M203.0,1582.3h0M189.6,1570.9h0M192.5,1592.4h0M202.6,1663.0h0M203.4,1592.6h0M191.7,1628.9h0M202.8,1613.8h0M204.7,1709.9h0M200.9,1577.9h0M198.5,1633.1h0M191.9,1572.1h0M204.1,1643.3h0M194.0,1643.5h0M190.2,1680.5h0M192.5,1638.4h0M188.6,1582.2h0M192.2,1695.2h0M201.2,1582.1h0M203.5,1667.5h0M189.0,1629.7h0M204.8,1602.8h0M203.5,1590.4h0M205.5,1660.3h0M205.2,1657.1h0M190.4,1670.6h0M191.0,1691.3h0M205.3,1600.3h0M205.5,1620.7h0M191.7,1574.9h0M200.8,1580.6h0M202.5,1681.9h0M199.0,1688.7h0M194.0,1615.1h0M190.9,1609.3h0M205.3,1577.8h0M195.5,1571.2h0M205.6,1709.3h0M199.2,1581.7h0M205.6,1682.2h0M198.6,1579.5h0M191.1,1606.9h0M192.8,1572.9h0M191.6,1586.9h0M190.2,1612.2h0M199.9,1586.7h0M196.5,1675.8h0M193.0,1704.2h0M193.1,1698.4h0M188.6,1658.5h0M201.5,1574.8h0M204.2,1643.1h0M195.3,1635.5h0M190.4,1645.1h0M203.8,1620.5h0M200.7,1690.6h0M189.9,1592.5h0M193.8,1668.2h0M205.4,1703.3h0M191.6,1660.0h0M201.5,1635.4h0M204.4,1700.5h0M199.1,1625.8h0M197.1,1709.5h0M205.2,1690.2h0M204.3,1691.4h0M190.4,1684.4h0M192.0,1613.9h0M201.3,1609.1h0M193.3,1673.5h0M192.8,1706.8h0M198.7,1593.4h0M191.3,1662.1h0M196.1,1671.6h0M200.3,1627.8h0M192.1,1710.2h0M191.6,1672.0h0M190.1,1592.8h0M194.0,1656.9h0M197.2,1619.0h0M190.2,1635.8h0M191.9,1586.8h0M195.1,1649.9h0M193.2,1647.2h0M192.6,1675.4h0M189.7,1606.0h0M200.4,1701.6h0M194.7,1636.2h0M205.7,1629.3h0M198.4,1593.2h0M203.0,1653.8h0M198.0,1589.5h0M197.0,1587.4h0M197.0,1702.6h0M204.5,1611.4h0M197.4,1584.7h0M202.7,1616.7h0M199.5,1696.6h0M201.9,1689.1h0M205.9,1574.4h0M202.8,1695.8h0M196.1,1572.1h0M196.3,1570.8h0M199.6,1594.2h0M193.1,1583.2h0M204.7,1704.3h0M195.4,1656.9h0M194.3,1674.3h0M196.7,1588.6h0M202.5,1624.5h0M197.8,1653.7h0M195.9,1692.6h0M199.0,1605.1h0M205.1,1581.2h0M198.5,1699.4h0M193.6,1637.0h0M194.7,1654.9h0M195.4,1644.2h0M199.3,1708.5h0M193.5,1693.3h0M199.3,1614.4h0M189.3,1586.2h0M194.4,1679.8h0M201.7,1581.8h0M204.4,1711.0h0M203.0,1670.4h0M193.5,1643.4h0M200.9,1699.8h0M203.9,1694.6h0M205.8,1650.3h0M203.1,1675.2h0M195.9,1621.3h0M191.9,1683.6h0M203.1,1607.6h0M202.0,1589.5h0M203.1,1640.0h0M191.4,1669.3h0M197.5,1694.4h0M203.6,1587.7h0M189.1,1686.2h0M203.3,1593.8h0M193.0,1648.4h0M204.8,1612.8h0M193.4,1595.7h0M197.5,1622.7h0M190.8,1709.5h0M195.2,1628.7h0M191.7,1589.0h0M198.9,1663.7h0M191.5,1585.5h0M201.8,1615.0h0M193.6,1658.4h0M191.5,1631.8h0M205.6,1590.9h0M200.0,1616.7h0M193.3,1655.1h0M189.0,1601.9h0M202.1,1712.6h0M204.7,1621.0h0M199.2,1712.7h0M193.1,1598.4h0M194.0,1575.1h0M199.9,1653.1h0M195.2,1663.9h0M193.0,1646.9h0M200.5,1595.6h0M195.6,1699.2h0M197.6,1618.9h0M203.5,1660.2h0M200.0,1626.5h0M193.9,1698.4h0M189.7,1572.1h0M199.9,1590.3h0M193.2,1611.9h0M204.3,1671.0h0M191.2,1604.1h0M204.4,1598.3h0M202.7,1627.8h0M200.2,1616.2h0M201.3,1619.9h0M206.2,1676.7h0M196.0,1658.2h0M189.2,1612.3h0M198.7,1686.6h0M201.4,1682.0h0M198.0,1601.3h0M204.6,1617.5h0M197.5,1592.6h0M203.4,1588.1h0M191.8,1699.9h0M190.9,1676.8h0M202.8,1604.4h0M191.8,1616.4h0M194.5,1701.1h0M194.9,1607.1h0M194.0,1600.8h0M194.4,1676.5h0M193.8,1591.8h0M196.9,1589.6h0M198.9,1578.4h0M189.9,1586.3h0M197.4,1589.4h0M195.3,1671.1h0M189.6,1591.3h0M361.4,1630.3h0M470.0,1630.0h0M554.8,1639.5h0M506.8,1634.9h0M522.7,1642.5h0M371.3,1634.2h0M486.4,1631.6h0M518.2,1635.9h0M369.3,1634.3h0M518.8,1641.4h0M349.0,1658.4h0M428.3,1644.1h0M569.6,1636.8h0M377.0,1633.2h0M420.7,1627.8h0M536.4,1635.7h0M374.8,1645.5h0M389.4,1652.2h0M501.2,1637.5h0M423.3,1632.1h0M474.9,1630.5h0M401.8,1617.8h0M400.0,1638.1h0M411.8,1649.5h0M550.1,1632.2h0M553.5,1636.1h0M417.2,1627.2h0M557.7,1628.5h0M428.3,1634.1h0M359.9,1606.7h0M511.4,1638.5h0M419.0,1639.1h0M490.4,1626.2h0M391.2,1630.0h0M461.3,1624.1h0M493.3,1630.8h0M491.2,1627.8h0M431.7,1634.4h0M422.5,1645.9h0M365.4,1641.7h0M501.7,1638.9h0M493.2,1639.3h0M493.4,1636.9h0M361.4,1611.6h0M535.7,1630.5h0M356.5,1617.3h0M355.5,1625.9h0M377.1,1629.9h0M393.0,1644.2h0M503.7,1636.5h0M401.1,1623.1h0M379.1,1631.8h0M561.5,1636.1h0M495.7,1635.7h0M554.9,1632.9h0M364.4,1658.2h0M349.5,1669.5h0M352.3,1638.4h0M391.2,1631.5h0M401.3,1615.4h0M443.6,1632.2h0M336.8,1627.0h0M399.9,1632.8h0M512.5,1640.0h0M350.8,1635.7h0M541.1,1637.3h0M493.6,1633.6h0M436.9,1629.4h0M483.2,1634.2h0M531.8,1637.4h0M372.9,1664.5h0M395.2,1617.9h0M423.8,1626.4h0M490.0,1643.9h0M527.2,1630.7h0M341.6,1612.7h0M563.8,1633.7h0M475.4,1630.8h0M528.6,1637.2h0M422.3,1641.2h0M417.0,1621.6h0M537.7,1634.8h0M571.6,1629.9h0M355.3,1604.0h0M430.3,1629.7h0M405.9,1633.6h0M504.0,1639.8h0M471.8,1645.3h0M468.9,1626.9h0M411.9,1638.1h0M458.4,1636.9h0M493.2,1638.3h0M389.4,1647.0h0M423.6,1624.8h0M537.8,1643.9h0M340.6,1661.0h0M488.6,1630.1h0M541.0,1629.0h0M545.5,1631.6h0M387.4,1629.0h0M570.8,1633.3h0M488.6,1634.8h0M428.3,1635.1h0M528.3,1631.0h0M439.5,1630.7h0M356.7,1652.3h0M451.9,1637.9h0M430.5,1639.2h0M466.9,1633.3h0M478.8,1636.0h0M482.5,1638.3h0M378.9,1619.6h0M495.7,1631.2h0M340.5,1642.9h0M382.9,1653.1h0M482.7,1633.9h0M445.8,1642.5h0M355.5,1661.7h0M517.8,1635.2h0M535.5,1632.0h0M569.3,1637.3h0M503.4,1630.1h0M338.4,1629.2h0M507.1,1633.7h0M508.3,1630.7h0M374.0,1622.8h0M560.7,1639.5h0M523.3,1632.8h0M507.1,1632.0h0M559.8,1633.4h0M537.4,1642.4h0M440.1,1643.1h0M492.4,1633.2h0M452.3,1637.0h0M460.2,1624.0h0M537.8,1632.9h0M448.3,1649.2h0M371.4,1637.9h0M472.3,1636.4h0M424.3,1640.7h0M477.9,1630.9h0M423.6,1643.2h0M573.1,1630.2h0M395.7,1646.3h0M569.1,1631.7h0M360.4,1639.7h0M430.6,1640.3h0M402.0,1653.8h0M503.2,1630.9h0M562.1,1640.9h0M485.9,1633.6h0M399.9,1620.7h0M413.7,1649.2h0M490.3,1645.9h0M567.8,1642.2h0M407.9,1636.4h0M355.9,1649.2h0M470.3,1630.4h0M494.6,1643.6h0M538.4,1632.4h0M398.8,1623.9h0M458.3,1646.0h0M333.2,1612.4h0M377.1,1618.5h0M515.5,1633.9h0M389.9,1627.1h0M537.9,1637.3h0M516.3,1639.7h0M335.0,1631.4h0M545.1,1637.8h0M512.8,1630.7h0M468.0,1643.7h0M386.6,1630.9h0M399.2,1656.3h0M493.9,1631.3h0M567.4,1637.8h0M572.2,1637.9h0M330.1,1604.4h0M390.1,1652.2h0M545.6,1641.1h0M535.5,1630.2h0M489.7,1640.5h0M516.7,1642.2h0M522.0,1637.8h0M569.3,1636.7h0M498.5,1632.9h0M373.9,1627.4h0M421.7,1626.2h0M434.6,1640.0h0M473.7,1637.1h0M391.0,1645.7h0M365.8,1612.5h0M365.5,1638.4h0M561.3,1634.8h0M481.6,1639.5h0M470.9,1642.0h0M416.9,1634.2h0M382.2,1648.0h0M373.1,1619.2h0M431.4,1631.9h0M461.9,1632.1h0M380.5,1630.5h0M410.3,1640.6h0M516.1,1633.4h0M460.2,1624.0h0M573.5,1636.2h0M329.1,1650.5h0M554.3,1639.9h0M481.2,1646.4h0M498.5,1645.0h0M407.6,1616.7h0M423.9,1646.9h0M462.7,1638.9h0M533.6,1627.9h0M421.1,1632.7h0M337.9,1661.0h0M552.7,1634.2h0M565.3,1631.5h0M369.0,1616.4h0M328.7,1645.3h0M343.3,1654.7h0M544.3,1642.5h0M433.5,1627.9h0M503.5,1632.2h0M572.3,1635.1h0M563.1,1641.8h0M514.6,1633.0h0M410.3,1626.6h0M348.9,1600.6h0M467.2,1632.3h0M471.4,1635.3h0M424.4,1629.1h0M485.3,1636.9h0M496.1,1635.6h0M461.3,1641.7h0M516.9,1641.1h0M474.1,1636.7h0M560.2,1637.5h0M353.6,1632.1h0M348.6,1653.4h0M519.3,1640.3h0M493.0,1634.0h0M446.0,1639.9h0M425.2,1637.0h0M527.4,1644.2h0M363.1,1648.7h0M497.2,1628.0h0M510.2,1640.5h0M420.7,1624.8h0M466.4,1638.5h0M357.9,1610.6h0M461.9,1635.7h0M565.0,1638.3h0M554.0,1629.5h0M413.3,1648.3h0M455.7,1630.9h0M367.3,1630.2h0M375.7,1608.5h0M372.5,1626.6h0M540.9,1643.9h0M561.3,1631.5h0M465.1,1636.3h0M400.0,1631.2h0M509.3,1635.1h0M449.4,1637.8h0M491.7,1633.5h0M352.0,1667.8h0M406.8,1651.7h0M440.2,1640.9h0M473.7,1639.4h0M469.1,1639.6h0M434.6,1630.6h0M328.1,1635.5h0M512.9,1632.6h0M436.5,1633.7h0M511.1,1638.2h0M547.6,1639.9h0M403.7,1633.6h0M465.6,1632.1h0M538.5,1630.7h0M542.8,1632.6h0M393.1,1624.1h0M549.7,1634.5h0M331.6,1631.2h0M454.4,1627.1h0M428.7,1633.8h0M475.2,1629.7h0M463.5,1640.5h0M578.0,1642.7h0M418.8,1633.2h0M383.0,1632.9h0M400.0,1654.5h0M443.7,1643.6h0M453.1,1636.5h0M493.5,1630.4h0M481.2,1644.5h0M368.6,1653.9h0M371.9,1637.5h0M565.4,1641.7h0M511.9,1644.8h0M448.4,1639.2h0M449.5,1632.1h0M342.7,1640.6h0M378.9,1632.8h0M555.1,1639.0h0M441.2,1629.4h0M338.6,1614.8h0M503.8,1636.5h0M458.0,1629.9h0M393.1,1656.6h0M463.7,1631.7h0M418.7,1623.8h0M491.1,1632.7h0M421.5,1645.5h0M555.0,1639.8h0M545.0,1636.4h0M449.3,1645.7h0M453.0,1634.9h0M361.8,1632.4h0M488.7,1634.1h0M380.1,1630.7h0M507.2,1631.7h0M356.6,1631.7h0M508.0,1627.1h0M447.9,1641.0h0M367.4,1634.5h0M536.4,1634.7h0M471.1,1635.7h0M367.4,1639.2h0M470.7,1637.3h0M340.9,1636.8h0M567.8,1633.5h0M477.6,1637.0h0M507.8,1636.4h0M493.2,1636.5h0M439.8,1632.8h0M576.5,1634.4h0M535.6,1638.0h0M477.9,1633.0h0M372.6,1664.0h0M492.7,1636.8h0M413.0,1620.0h0M440.9,1640.7h0M423.8,1639.5h0M354.2,1624.5h0M453.7,1623.4h0M432.4,1633.8h0M446.5,1633.3h0M481.4,1626.3h0M453.4,1633.0h0M356.4,1646.1h0M478.6,1635.7h0M534.9,1629.9h0M490.1,1641.6h0M458.1,1637.4h0M460.1,1634.6h0M384.6,1628.2h0M422.7,1651.2h0M475.0,1636.5h0M502.0,1644.6h0M351.4,1620.5h0M385.3,1624.5h0M542.8,1637.8h0M429.6,1620.5h0M374.4,1642.9h0M472.2,1646.4h0M356.5,1608.1h0M499.8,1635.7h0M406.3,1640.0h0M490.7,1633.6h0M390.6,1627.8h0M418.8,1643.8h0M396.2,1644.5h0M430.8,1648.8h0M523.9,1640.4h0M466.4,1635.3h0M390.7,1640.1h0M504.2,1631.7h0M511.9,1631.6h0M514.9,1641.5h0M439.2,1637.5h0M380.8,1644.0h0M427.6,1641.8h0M502.1,1630.5h0M504.6,1629.1h0M328.2,1585.7h0M349.8,1606.9h0M436.3,1621.5h0M343.0,1634.4h0M336.4,1626.0h0M423.5,1623.6h0M457.9,1636.9h0M505.8,1645.1h0M533.1,1642.2h0M487.8,1639.4h0M492.0,1634.7h0M529.0,1636.3h0M477.6,1634.5h0M456.6,1635.5h0M335.9,1620.9h0M387.0,1628.2h0M577.5,1636.0h0M522.9,1638.8h0M474.2,1631.2h0M457.0,1636.2h0M349.5,1643.9h0M398.4,1623.5h0M414.4,1654.0h0M569.1,1636.9h0M375.8,1615.6h0M560.6,1638.8h0M429.2,1639.0h0M353.6,1621.1h0M565.0,1634.5h0M528.7,1627.8h0M531.3,1638.5h0M471.4,1641.5h0M468.5,1647.3h0M520.4,1635.4h0M442.2,1649.9h0M442.7,1637.5h0M356.1,1638.4h0M343.9,1676.9h0M497.1,1645.5h0M384.7,1649.6h0M456.7,1623.7h0M329.3,1625.8h0M350.3,1649.6h0M496.2,1635.1h0M561.0,1637.5h0M446.7,1645.4h0M394.5,1615.4h0M565.0,1639.6h0M452.3,1648.8h0M377.1,1638.8h0M378.9,1662.5h0M377.9,1636.0h0M366.1,1612.4h0M353.7,1609.9h0M493.7,1639.8h0M481.2,1635.4h0M337.5,1666.4h0M448.1,1642.1h0M574.6,1639.2h0M552.4,1632.7h0M574.4,1639.4h0M557.2,1636.6h0M471.9,1631.8h0M340.5,1627.8h0M462.8,1643.0h0M453.2,1644.3h0M370.8,1620.9h0M572.4,1637.4h0M500.1,1641.4h0M329.9,1627.3h0M408.7,1622.6h0M480.9,1636.4h0M386.5,1619.2h0M445.4,1641.4h0M452.3,1640.4h0M379.8,1640.2h0M541.7,1640.0h0M397.2,1633.3h0M471.7,1633.1h0M384.3,1627.2h0M386.2,1629.8h0M435.5,1639.3h0M568.0,1634.5h0M364.5,1632.3h0M452.5,1640.1h0M577.2,1633.2h0M508.0,1640.8h0M524.3,1637.8h0M469.6,1628.5h0M427.0,1637.1h0M531.5,1637.5h0M446.7,1641.5h0M411.0,1644.1h0M417.6,1653.4h0M391.7,1646.8h0M331.9,1597.7h0M569.0,1630.5h0M376.9,1655.2h0M370.8,1646.7h0M523.0,1640.2h0M449.4,1627.5h0M512.0,1632.4h0M398.9,1643.3h0M485.7,1633.9h0M529.9,1633.9h0M411.7,1645.0h0M540.3,1640.1h0M344.8,1627.6h0M406.5,1629.4h0M400.1,1637.8h0M395.1,1618.7h0M438.7,1631.1h0M474.4,1640.3h0M569.6,1638.2h0M332.7,1627.4h0M509.8,1642.1h0M503.0,1645.2h0M347.0,1631.0h0M342.9,1626.8h0M547.8,1636.9h0M426.7,1636.6h0M519.2,1632.8h0M365.9,1629.4h0M491.5,1632.5h0M389.1,1643.3h0M398.3,1640.3h0M537.7,1637.7h0M334.1,1662.3h0M408.6,1653.8h0M446.6,1626.9h0M395.4,1638.4h0M438.7,1624.1h0M371.4,1640.7h0M477.1,1641.7h0M468.7,1642.5h0M458.5,1639.7h0M414.2,1642.6h0M462.6,1633.6h0M418.8,1645.6h0M392.2,1636.1h0M531.9,1635.9h0M540.1,1638.7h0M329.0,1610.4h0M558.7,1631.6h0M329.2,1646.2h0M435.1,1637.6h0M328.7,1616.8h0M420.8,1646.1h0M426.1,1630.0h0M367.9,1637.3h0M422.0,1645.1h0M393.0,1644.1h0M519.1,1634.4h0M555.6,1633.8h0M398.4,1652.6h0M513.7,1634.2h0M541.4,1640.2h0M372.7,1641.5h0M482.2,1628.2h0M395.3,1641.6h0M331.8,1647.9h0M339.4,1650.9h0M352.6,1638.8h0M394.6,1640.3h0M385.4,1657.3h0M364.8,1651.8h0M405.2,1635.6h0M527.9,1630.9h0M525.8,1636.1h0M409.9,1621.9h0M341.0,1678.5h0M521.9,1631.3h0M375.2,1628.6h0M538.4,1632.6h0M357.5,1668.4h0M520.0,1635.9h0M438.2,1622.4h0M512.3,1630.7h0M520.7,1634.9h0M457.9,1628.4h0M498.2,1636.7h0M405.3,1642.8h0M337.5,1605.1h0M562.5,1639.1h0M487.4,1636.6h0M376.8,1613.3h0M381.6,1654.3h0M355.3,1647.6h0M369.0,1646.8h0M396.3,1620.6h0M329.1,1603.0h0M337.4,1630.2h0M476.8,1642.5h0M420.2,1631.4h0M349.9,1629.5h0M482.4,1625.7h0M484.0,1644.1h0M341.9,1658.1h0M525.9,1641.6h0M358.5,1630.3h0M525.1,1627.7h0M517.1,1634.3h0M375.4,1651.3h0M500.2,1637.7h0M552.8,1634.3h0M448.9,1641.6h0M502.1,1634.4h0M374.6,1630.5h0M511.0,1631.9h0M396.1,1623.0h0M466.3,1647.5h0M344.2,1625.5h0M393.1,1627.4h0M419.2,1622.6h0M422.2,1635.9h0M373.5,1607.8h0M522.0,1634.9h0M386.9,1639.5h0M462.4,1645.4h0M424.3,1646.4h0M465.5,1637.1h0M481.0,1639.6h0M354.7,1610.8h0M458.4,1624.4h0M359.5,1621.8h0M546.5,1634.5h0M351.7,1613.6h0M470.4,1631.4h0M459.1,1644.4h0M503.2,1636.2h0M479.2,1630.5h0M344.7,1622.2h0M450.4,1638.1h0M550.6,1629.4h0M342.1,1616.1h0M467.2,1630.0h0M419.7,1639.7h0M505.0,1634.2h0M337.1,1653.3h0M344.6,1653.8h0M568.4,1628.7h0M351.3,1639.9h0M374.5,1654.7h0M459.2,1635.9h0M371.9,1613.8h0M515.2,1637.9h0M487.4,1634.7h0M416.9,1649.8h0M548.8,1634.4h0M368.8,1628.9h0M411.7,1626.7h0M366.6,1617.7h0M415.5,1636.1h0M406.1,1626.5h0M420.3,1636.4h0M519.0,1642.8h0M479.8,1632.1h0M468.5,1633.6h0M559.7,1629.2h0M390.8,1622.5h0M426.7,1638.3h0M509.5,1629.4h0M457.0,1637.0h0M576.6,1637.1h0M382.7,1624.8h0M542.0,1628.2h0M500.3,1634.7h0M396.3,1650.4h0M559.7,1637.7h0M365.8,1620.4h0M361.7,1632.0h0M419.2,1642.0h0M530.8,1637.6h0M350.0,1673.6h0M511.5,1629.6h0M508.8,1635.2h0M534.5,1638.6h0M500.2,1645.3h0M476.5,1641.9h0M402.4,1637.8h0M346.6,1664.3h0M340.9,1633.2h0M532.3,1640.1h0M431.6,1624.6h0M383.9,1656.5h0M491.0,1636.7h0M522.3,1636.4h0M423.0,1636.9h0M462.6,1634.2h0M364.5,1648.2h0M339.6,1636.3h0M510.8,1640.1h0M476.5,1632.0h0M453.8,1635.0h0M426.0,1628.8h0M360.1,1615.3h0M339.3,1620.6h0M427.2,1627.1h0M521.4,1633.2h0M359.7,1620.4h0M449.5,1629.1h0M490.9,1633.5h0M511.8,1629.7h0M388.8,1615.7h0M408.2,1628.1h0M559.2,1630.8h0M433.4,1629.4h0M414.4,1641.7h0M333.0,1604.5h0M403.5,1620.7h0M575.8,1636.4h0M438.1,1634.5h0M532.6,1634.9h0M377.1,1653.6h0M541.3,1630.8h0M548.1,1642.8h0M555.7,1643.5h0M563.2,1632.5h0M570.7,1632.8h0M580.8,1633.5h0M540.6,1634.1h0M523.0,1644.0h0M507.9,1635.7h0M226.7,1558.2h0M210.7,1535.5h0M266.7,1547.2h0M240.4,1512.4h0M291.4,1553.6h0M272.8,1531.0h0M218.4,1565.3h0M307.0,1547.6h0M253.2,1563.2h0M240.5,1558.7h0M274.2,1472.3h0M179.2,1557.2h0M229.2,1495.4h0M306.2,1514.0h0M256.5,1535.3h0M207.0,1558.1h0M269.1,1522.7h0M217.1,1564.2h0M257.3,1534.9h0M233.6,1564.6h0M222.0,1495.4h0M212.8,1514.1h0M321.8,1540.7h0M280.8,1470.9h0M213.5,1542.1h0M285.0,1532.5h0M262.4,1531.0h0M249.6,1472.7h0M271.1,1548.0h0M327.0,1542.1h0M193.6,1512.6h0M242.4,1504.1h0M208.0,1471.5h0M240.9,1462.6h0M279.6,1462.6h0M244.4,1462.6h0M268.5,1557.0h0M206.6,1557.3h0M296.7,1553.3h0M279.3,1460.6h0M249.5,1540.6h0M250.6,1461.2h0M305.3,1555.0h0M180.4,1552.8h0M219.0,1504.6h0M275.0,1548.5h0M235.7,1563.8h0M198.3,1522.4h0M294.2,1523.6h0M229.3,1472.1h0M208.1,1555.2h0M279.0,1481.2h0M213.0,1531.0h0M301.8,1548.9h0M277.8,1461.9h0M238.0,1505.2h0M323.3,1523.4h0M199.7,1481.7h0M295.5,1531.7h0M245.0,1490.4h0M271.0,1495.9h0M190.6,1513.1h0M199.8,1460.5h0M247.7,1511.8h0M268.6,1564.2h0M278.4,1497.4h0M242.1,1523.7h0M220.6,1472.8h0M277.8,1542.8h0M296.4,1513.1h0M234.8,1496.1h0M205.9,1557.9h0M255.7,1462.6h0M229.7,1532.6h0M274.0,1522.7h0M322.5,1548.9h0M290.8,1534.5h0M210.2,1481.7h0M195.0,1558.2h0M190.2,1535.0h0M263.8,1490.4h0M238.9,1554.3h0M210.8,1482.7h0M252.5,1472.9h0M208.5,1471.3h0M245.7,1564.7h0M278.3,1482.8h0M195.5,1554.9h0M176.6,1547.2h0M252.1,1563.4h0M283.6,1512.7h0M215.5,1523.0h0M251.3,1523.4h0M247.4,1505.4h0M213.1,1512.7h0M266.7,1473.1h0M185.2,1554.4h0M317.7,1553.6h0M247.7,1472.4h0M184.2,1558.3h0M202.8,1554.5h0M255.3,1496.4h0M244.2,1481.1h0M245.6,1489.4h0M303.6,1558.5h0M228.5,1462.8h0M316.0,1532.5h0M198.4,1522.8h0M230.7,1541.9h0M291.5,1547.6h0M270.8,1556.9h0M307.6,1513.0h0M247.8,1489.7h0M220.7,1490.2h0M219.1,1535.4h0M226.4,1505.7h0M238.6,1504.2h0M257.8,1524.0h0M216.0,1505.3h0M176.3,1549.0h0M264.3,1496.0h0M308.7,1546.6h0M183.6,1531.8h0M250.6,1483.5h0M290.5,1548.5h0M227.1,1558.1h0M303.3,1536.5h0M232.7,1535.0h0M278.2,1504.0h0M230.9,1548.2h0M237.1,1496.7h0M283.2,1564.3h0M235.5,1495.7h0M224.8,1461.1h0M330.0,1532.5h0M215.9,1512.4h0M268.2,1536.7h0M254.7,1504.1h0M264.2,1462.8h0M222.6,1555.2h0M280.0,1530.6h0M247.9,1505.6h0M319.5,1557.5h0M269.5,1489.9h0M244.7,1541.7h0M237.7,1547.0h0M211.9,1542.2h0M238.1,1559.2h0M327.6,1548.0h0M308.6,1563.3h0M251.5,1447.4h0M238.9,1461.8h0M259.0,1461.8h0M394.8,1513.0h0M392.2,1564.2h0M367.1,1562.2h0M387.2,1582.7h0M432.5,1595.0h0M364.6,1578.6h0M352.0,1599.1h0M203.7,1717.0h0M224.3,1767.6h0M303.7,1712.8h0M308.4,1790.5h0M246.3,1707.2h0M200.4,1767.7h0M282.3,1707.5h0M226.3,1712.9h0M256.0,1713.5h0M177.1,1735.8h0M296.0,1790.2h0M218.9,1726.1h0M268.8,1759.6h0M216.9,1719.2h0M255.0,1780.5h0M229.3,1767.6h0M322.9,1717.3h0M216.3,1780.6h0M296.0,1779.4h0M194.1,1707.8h0M192.3,1790.0h0M241.1,1714.7h0M295.9,1779.2h0M262.0,1759.5h0M286.4,1725.8h0M195.8,1766.2h0M256.0,1760.0h0M198.1,1759.5h0M273.6,1789.8h0M323.6,1727.1h0M217.9,1779.8h0M284.3,1717.6h0M241.9,1743.8h0M200.0,1759.1h0M218.2,1718.4h0M201.8,1780.5h0M225.1,1713.5h0M257.9,1736.7h0M215.5,1751.4h0M327.8,1718.3h0M211.7,1742.1h0M282.7,1751.0h0M253.2,1743.2h0M268.6,1789.2h0M289.2,1780.4h0M243.1,1779.4h0M207.8,1757.9h0M268.3,1713.4h0M281.1,1779.8h0M265.5,1760.1h0M302.9,1725.2h0M285.9,1789.1h0M204.5,1789.7h0M261.9,1750.9h0M281.5,1726.7h0M283.9,1779.1h0M274.5,1749.8h0M265.8,1713.6h0M235.9,1768.1h0M183.4,1735.5h0M173.7,1707.6h0M199.6,1743.1h0M210.8,1707.3h0M263.1,1750.3h0M233.1,1750.7h0M207.5,1790.6h0M233.5,1766.2h0M205.1,1749.6h0M201.6,1791.0h0M188.0,1789.2h0M267.1,1757.8h0M186.9,1717.7h0M292.1,1749.8h0M300.7,1779.2h0M248.8,1758.9h0M233.5,1759.7h0M260.6,1750.6h0M286.3,1726.8h0M257.1,1768.3h0M263.5,1707.2h0M265.4,1712.8h0M196.0,1713.3h0M247.2,1737.5h0M197.0,1779.6h0M304.4,1790.8h0M252.5,1789.6h0M192.6,1779.9h0M247.8,1707.7h0M256.8,1759.4h0M304.4,1741.9h0M200.1,1736.0h0M278.4,1778.9h0M218.2,1779.2h0M206.9,1780.6h0M301.6,1736.1h0M250.3,1737.4h0M308.4,1714.4h0M271.1,1718.6h0M175.8,1737.4h0M317.7,1717.4h0M241.1,1789.0h0M297.5,1737.1h0M300.1,1717.1h0M307.3,1741.5h0M301.1,1780.4h0M278.8,1759.2h0M215.4,1750.9h0M206.7,1789.6h0M192.8,1743.2h0M181.8,1714.0h0M223.2,1758.4h0M214.9,1766.7h0M244.6,1751.7h0M187.6,1749.7h0M233.2,1759.5h0M270.2,1768.3h0M264.6,1766.1h0M261.3,1750.4h0M226.6,1737.0h0M214.0,1713.7h0M281.3,1758.4h0M258.6,1790.5h0M269.6,1741.4h0M253.6,1742.2h0M175.4,1714.9h0M282.1,1714.3h0M213.4,1737.6h0M197.4,1778.4h0M296.2,1790.4h0M264.7,1779.0h0M206.2,1800.0h0M206.2,1810.2h0M186.1,1777.5h0M171.0,1695.5h0M394.8,1726.2h0M354.5,1761.0h0M392.2,1695.5h0M279.1,1789.8h0M304.3,1789.8h0M238.9,1789.8h0M248.9,1789.8h0" stroke="#a9a9a9" stroke-width="9.6" fill="none" stroke-linecap="round"/>
<path d="M352.5,1600.9h0M467.1,1622.5h0M519.2,1617.0h0M518.3,1622.2h0M475.5,1624.6h0M526.9,1622.1h0M463.4,1620.9h0M418.1,1617.8h0M519.9,1625.9h0M361.5,1600.2h0M342.7,1597.8h0M398.0,1610.9h0M339.7,1590.4h0M421.0,1619.0h0M432.0,1615.5h0M365.0,1603.7h0M432.0,1616.4h0M373.5,1601.5h0M464.4,1618.3h0M349.0,1594.8h0M342.5,1592.7h0M422.2,1618.6h0M518.5,1623.0h0M526.2,1622.0h0M468.9,1623.6h0M520.2,1620.3h0M449.7,1612.6h0M431.7,1620.2h0M420.1,1615.1h0M494.7,1619.8h0M442.3,1611.1h0M501.7,1625.6h0M429.9,1611.0h0M403.6,1612.2h0M472.6,1619.7h0M531.8,1623.4h0M346.3,1578.0h0M344.1,1594.8h0M425.1,1619.8h0M364.6,1597.2h0M335.3,1590.5h0M475.6,1622.9h0M518.4,1623.8h0M345.0,1594.0h0M462.1,1623.7h0M368.1,1605.2h0M480.7,1621.0h0M340.3,1591.9h0M442.4,1620.4h0M505.2,1621.3h0M422.9,1618.9h0M338.9,1597.5h0M495.2,1623.6h0M499.3,1625.2h0M469.5,1618.3h0M513.7,1624.6h0M358.7,1590.0h0M334.8,1583.8h0M357.1,1600.2h0M523.1,1622.8h0M336.7,1594.8h0M363.7,1603.9h0M337.6,1590.4h0M424.4,1612.4h0M363.4,1595.8h0M349.6,1593.6h0M433.1,1620.5h0M498.8,1623.0h0M418.0,1614.3h0M471.8,1613.6h0M396.2,1608.6h0M356.2,1603.5h0M505.6,1624.1h0M453.6,1616.2h0M398.6,1614.3h0M415.6,1617.4h0M475.7,1620.5h0M524.7,1625.0h0M335.6,1579.2h0M457.8,1618.7h0M493.1,1620.9h0M328.2,1590.4h0M365.2,1599.0h0M516.4,1623.2h0M415.8,1616.3h0M474.8,1618.0h0M370.9,1604.5h0M414.9,1614.4h0M527.3,1625.7h0M365.3,1607.0h0M433.7,1615.3h0M494.1,1623.8h0M401.2,1613.0h0M352.0,1603.3h0M440.2,1618.6h0M489.5,1623.2h0M442.2,1620.9h0M467.8,1617.2h0M385.9,1610.1h0M473.3,1617.6h0M533.9,1624.3h0M470.1,1623.9h0M336.1,1590.8h0M419.8,1616.7h0M398.3,1613.3h0M336.1,1579.5h0M485.1,1622.9h0M494.7,1624.4h0M430.5,1613.7h0M481.0,1619.2h0M453.5,1621.9h0M471.5,1622.0h0M334.4,1593.0h0M369.6,1593.0h0M344.5,1599.9h0M538.1,1627.0h0M490.3,1627.0h0M500.3,1624.5h0" stroke="#b83327" stroke-width="9.6" fill="none" stroke-linecap="round"/>
<path d="M389.0,1656.2h0M342.1,1675.1h0M473.9,1649.8h0M367.3,1664.7h0M418.9,1661.3h0M351.7,1665.4h0M513.1,1649.2h0M350.0,1666.6h0M470.2,1654.5h0M363.5,1675.6h0M348.1,1665.9h0M350.0,1667.0h0M497.4,1648.5h0M392.7,1655.5h0M504.6,1651.1h0M453.4,1652.7h0M447.9,1654.0h0M498.1,1654.8h0M339.7,1674.7h0M527.1,1648.7h0M443.8,1650.8h0M472.3,1650.0h0M473.6,1647.3h0M441.3,1653.0h0M505.7,1647.8h0M440.1,1650.6h0M322.9,1677.9h0M418.9,1651.3h0M480.3,1651.5h0M420.7,1652.2h0M486.4,1648.5h0M371.4,1665.5h0M437.0,1656.6h0M517.7,1646.2h0M349.2,1668.0h0M340.6,1680.7h0M420.8,1653.5h0M498.7,1651.6h0M475.9,1651.3h0M481.0,1647.5h0M502.1,1651.5h0M398.2,1659.3h0M417.6,1657.8h0M336.4,1683.9h0M506.0,1646.5h0M409.7,1653.4h0M377.5,1665.1h0M485.6,1648.3h0M484.2,1653.5h0M473.5,1651.1h0M333.2,1685.1h0M504.9,1647.9h0M344.7,1674.4h0M397.2,1659.7h0M358.0,1664.7h0M468.1,1648.0h0M364.1,1665.8h0M345.3,1666.5h0M420.5,1656.9h0M519.6,1647.4h0M365.1,1660.2h0M394.6,1658.4h0M377.0,1659.7h0M334.9,1677.0h0M393.0,1661.6h0M347.1,1666.0h0M468.2,1649.6h0M382.1,1663.4h0M449.9,1651.6h0M488.6,1655.1h0M515.8,1652.6h0M416.2,1655.6h0M338.4,1674.7h0M519.1,1647.4h0M344.4,1668.3h0M424.2,1657.8h0M502.2,1651.2h0M382.3,1657.5h0M521.7,1647.5h0M393.3,1655.3h0M413.4,1654.3h0M334.8,1676.2h0M501.6,1647.1h0M454.7,1658.1h0M406.7,1656.7h0M389.1,1662.4h0M444.2,1651.6h0M413.6,1660.8h0M384.5,1663.4h0M357.3,1672.5h0M375.5,1675.5h0M480.5,1647.9h0M331.6,1677.9h0M356.1,1669.5h0M512.4,1646.6h0M522.5,1648.4h0M494.9,1648.3h0M353.5,1674.8h0M370.9,1664.6h0M347.9,1666.8h0M375.5,1661.2h0M329.0,1685.0h0M387.2,1658.8h0M433.1,1653.4h0M355.4,1668.5h0M405.3,1664.0h0M424.8,1653.7h0M387.9,1660.7h0M322.7,1676.9h0M390.1,1671.1h0M467.3,1650.7h0M516.5,1646.2h0M524.0,1647.4h0M438.4,1650.5h0M508.8,1651.1h0M472.7,1649.4h0M507.4,1648.9h0M385.4,1661.8h0M404.6,1656.0h0M340.9,1676.0h0M333.2,1678.9h0M367.6,1666.9h0M514.7,1645.9h0M432.8,1650.8h0M413.7,1652.8h0M427.4,1652.1h0M361.9,1665.2h0M516.3,1650.2h0M509.1,1647.3h0M497.9,1647.9h0M398.1,1657.0h0M394.3,1657.7h0M523.4,1646.7h0M471.9,1648.5h0M413.4,1660.8h0M381.4,1657.1h0M487.9,1650.5h0M506.6,1646.7h0M350.6,1667.1h0M364.7,1661.8h0M419.7,1660.6h0M335.5,1691.6h0M519.8,1645.7h0M406.3,1654.9h0M510.4,1649.8h0M468.3,1650.0h0M477.5,1648.6h0M400.6,1656.1h0M436.0,1657.5h0M493.9,1648.2h0M266.5,1722.1h0M336.9,1683.2h0M369.6,1683.2h0M414.9,1683.2h0M482.7,1666.8h0M445.0,1672.9h0M523.0,1644.2h0M528.0,1646.2h0M497.8,1646.2h0" stroke="#46639a" stroke-width="9.6" fill="none" stroke-linecap="round"/>
<line x1="133.5" y1="1636.0" x2="621.6" y2="1636.0" stroke="#262626" stroke-width="1.4" stroke-dasharray="15 24.2"/>
<rect x="133.5" y="1415.2" width="488.1" height="440.8" fill="none" stroke="#000" stroke-width="4.2"/>
<line x1="120.5" y1="1472.0" x2="133.5" y2="1472.0" stroke="#000" stroke-width="1.3"/>
<text x="105.0" y="1472.0" font-size="24" text-anchor="middle" transform="rotate(-90 105.0 1472.0)">4</text>
<line x1="120.5" y1="1554.0" x2="133.5" y2="1554.0" stroke="#000" stroke-width="1.3"/>
<text x="105.0" y="1554.0" font-size="24" text-anchor="middle" transform="rotate(-90 105.0 1554.0)">2</text>
<line x1="120.5" y1="1636.0" x2="133.5" y2="1636.0" stroke="#000" stroke-width="1.3"/>
<text x="105.0" y="1636.0" font-size="24" text-anchor="middle" transform="rotate(-90 105.0 1636.0)">0</text>
<line x1="120.5" y1="1718.0" x2="133.5" y2="1718.0" stroke="#000" stroke-width="1.3"/>
<text x="105.0" y="1718.0" font-size="24" text-anchor="middle" transform="rotate(-90 105.0 1718.0)">−2</text>
<line x1="120.5" y1="1800.0" x2="133.5" y2="1800.0" stroke="#000" stroke-width="1.3"/>
<text x="105.0" y="1800.0" font-size="24" text-anchor="middle" transform="rotate(-90 105.0 1800.0)">−4</text>
<line x1="150.9" y1="1856.0" x2="150.9" y2="1871.0" stroke="#000" stroke-width="1.3"/>
<text x="150.9" y="1894.3" font-size="24" text-anchor="middle">0</text>
<line x1="276.6" y1="1856.0" x2="276.6" y2="1871.0" stroke="#000" stroke-width="1.3"/>
<text x="276.6" y="1894.3" font-size="24" text-anchor="middle">5</text>
<line x1="402.3" y1="1856.0" x2="402.3" y2="1871.0" stroke="#000" stroke-width="1.3"/>
<text x="402.3" y="1894.3" font-size="24" text-anchor="middle">10</text>
<line x1="528.0" y1="1856.0" x2="528.0" y2="1871.0" stroke="#000" stroke-width="1.3"/>
<text x="528.0" y="1894.3" font-size="24" text-anchor="middle">15</text>
<text x="242.3" y="1928.8" font-size="28.5" font-weight="bold" textLength="245.0" lengthAdjust="spacingAndGlyphs">log<tspan font-size="19.5" dy="6.5">2</tspan><tspan dy="-6.5"> (Mean count)</tspan></text>
<text x="53.9" y="1760.5" font-size="28.5" font-weight="bold" textLength="250.0" lengthAdjust="spacingAndGlyphs" transform="rotate(-90 53.9 1760.5)">log<tspan font-size="19.5" dy="6.5">2</tspan><tspan dy="-6.5"> (Fold change)</tspan></text>
<circle cx="386.6" cy="1457.7" r="4.7" fill="#b83327"/>
<circle cx="386.6" cy="1485.6" r="4.7" fill="#46639a"/>
<text x="398.5" y="1465.0" font-size="18.3" font-weight="bold" textLength="183.5" lengthAdjust="spacingAndGlyphs">112 Up, FDR &lt;= 0.05</text>
<text x="398.5" y="1492.9" font-size="18.3" font-weight="bold" textLength="210.0" lengthAdjust="spacingAndGlyphs">154 Down, FDR &lt;= 0.05</text>
<text x="657.0" y="1375.0" font-size="55" font-weight="bold">g</text>
<line x1="867.1" y1="1410.5" x2="867.1" y2="1868.0" stroke="#c8c8c8" stroke-width="4.5"/>
<line x1="1024.9" y1="1410.5" x2="1024.9" y2="1868.0" stroke="#c8c8c8" stroke-width="4.5"/>
<line x1="1182.7" y1="1410.5" x2="1182.7" y2="1868.0" stroke="#c8c8c8" stroke-width="4.5"/>
<rect x="709.0" y="1422.5" width="574.2" height="17.6" fill="#f39834" stroke="#7b7d80" stroke-width="3"/>
<rect x="709.0" y="1444.4" width="554.9" height="17.6" fill="#f39834" stroke="#7b7d80" stroke-width="3"/>
<rect x="709.0" y="1466.3" width="477.9" height="17.6" fill="#f39834" stroke="#7b7d80" stroke-width="3"/>
<rect x="709.0" y="1488.2" width="420.8" height="17.6" fill="#fac355" stroke="#7b7d80" stroke-width="3"/>
<rect x="709.0" y="1510.1" width="413.9" height="17.6" fill="#fac355" stroke="#7b7d80" stroke-width="3"/>
<rect x="709.0" y="1532.0" width="410.5" height="17.6" fill="#fac355" stroke="#7b7d80" stroke-width="3"/>
<rect x="709.0" y="1553.9" width="396.1" height="17.6" fill="#fac355" stroke="#7b7d80" stroke-width="3"/>
<rect x="709.0" y="1575.8" width="387.1" height="17.6" fill="#fac355" stroke="#7b7d80" stroke-width="3"/>
<rect x="709.0" y="1597.7" width="374.1" height="17.6" fill="#fac355" stroke="#7b7d80" stroke-width="3"/>
<rect x="709.0" y="1619.6" width="372.0" height="17.6" fill="#fac355" stroke="#7b7d80" stroke-width="3"/>
<rect x="709.0" y="1641.5" width="330.7" height="17.6" fill="#fac355" stroke="#7b7d80" stroke-width="3"/>
<rect x="709.0" y="1663.4" width="328.0" height="17.6" fill="#fac355" stroke="#7b7d80" stroke-width="3"/>
<rect x="709.0" y="1685.3" width="325.2" height="17.6" fill="#fac355" stroke="#7b7d80" stroke-width="3"/>
<rect x="709.0" y="1707.2" width="317.0" height="17.6" fill="#fac355" stroke="#7b7d80" stroke-width="3"/>
<rect x="709.0" y="1729.1" width="312.1" height="17.6" fill="#f9e08f" stroke="#7b7d80" stroke-width="3"/>
<rect x="709.0" y="1751.0" width="310.1" height="17.6" fill="#f9e08f" stroke="#7b7d80" stroke-width="3"/>
<rect x="709.0" y="1772.9" width="310.1" height="17.6" fill="#f9e08f" stroke="#7b7d80" stroke-width="3"/>
<rect x="709.0" y="1794.8" width="309.4" height="17.6" fill="#f9e08f" stroke="#7b7d80" stroke-width="3"/>
<rect x="709.0" y="1816.7" width="302.5" height="17.6" fill="#f9e08f" stroke="#7b7d80" stroke-width="3"/>
<rect x="709.0" y="1838.6" width="290.8" height="17.6" fill="#f9e08f" stroke="#7b7d80" stroke-width="3"/>
<rect x="709.0" y="1409.5" width="603.0" height="459.3" fill="none" stroke="#1e1e1e" stroke-width="2.4"/>
<line x1="709.0" y1="1868.8" x2="709.0" y2="1874.0" stroke="#1e1e1e" stroke-width="1.8"/>
<text x="709.0" y="1898.5" font-size="20.3" text-anchor="middle">0</text>
<line x1="787.9" y1="1868.8" x2="787.9" y2="1874.0" stroke="#1e1e1e" stroke-width="1.8"/>
<text x="787.9" y="1898.5" font-size="20.3" text-anchor="middle">1</text>
<line x1="866.8" y1="1868.8" x2="866.8" y2="1874.0" stroke="#1e1e1e" stroke-width="1.8"/>
<text x="866.8" y="1898.5" font-size="20.3" text-anchor="middle">2</text>
<line x1="945.7" y1="1868.8" x2="945.7" y2="1874.0" stroke="#1e1e1e" stroke-width="1.8"/>
<text x="945.7" y="1898.5" font-size="20.3" text-anchor="middle">3</text>
<line x1="1024.6" y1="1868.8" x2="1024.6" y2="1874.0" stroke="#1e1e1e" stroke-width="1.8"/>
<text x="1024.6" y="1898.5" font-size="20.3" text-anchor="middle">4</text>
<line x1="1103.5" y1="1868.8" x2="1103.5" y2="1874.0" stroke="#1e1e1e" stroke-width="1.8"/>
<text x="1103.5" y="1898.5" font-size="20.3" text-anchor="middle">5</text>
<line x1="1182.4" y1="1868.8" x2="1182.4" y2="1874.0" stroke="#1e1e1e" stroke-width="1.8"/>
<text x="1182.4" y="1898.5" font-size="20.3" text-anchor="middle">6</text>
<line x1="1261.3" y1="1868.8" x2="1261.3" y2="1874.0" stroke="#1e1e1e" stroke-width="1.8"/>
<text x="1261.3" y="1898.5" font-size="20.3" text-anchor="middle">7</text>
<text x="970.0" y="1929.8" font-size="23.5" textLength="94.2" lengthAdjust="spacingAndGlyphs">-log<tspan font-size="16" dy="5.5">10</tspan><tspan dy="-5.5">(P)</tspan></text>
<text x="1318.0" y="1437.5" font-size="22.85" textLength="403.9" lengthAdjust="spacingAndGlyphs">GO:0007059: chromosome segregation</text>
<text x="1318.0" y="1459.4" font-size="22.85" textLength="406.9" lengthAdjust="spacingAndGlyphs">GO:0044770: cell cycle phase transition</text>
<text x="1318.0" y="1481.2" font-size="22.85" textLength="343.9" lengthAdjust="spacingAndGlyphs">GO:0006310: DNA recombination</text>
<text x="1318.0" y="1503.1" font-size="22.85" textLength="374.7" lengthAdjust="spacingAndGlyphs">GO:0045047: protein targeting to ER</text>
<text x="1318.0" y="1525.0" font-size="22.85" textLength="199.8" lengthAdjust="spacingAndGlyphs">ko04110: Cell cycle</text>
<text x="1318.0" y="1546.9" font-size="22.85" textLength="562.0" lengthAdjust="spacingAndGlyphs">GO:0051348: negative regulation of transferase activity</text>
<text x="1318.0" y="1568.8" font-size="22.85" textLength="409.8" lengthAdjust="spacingAndGlyphs">GO:0070482: response to oxygen levels</text>
<text x="1318.0" y="1590.6" font-size="22.85" textLength="414.6" lengthAdjust="spacingAndGlyphs">GO:0071103: DNA conformation change</text>
<text x="1318.0" y="1612.5" font-size="22.85" textLength="279.8" lengthAdjust="spacingAndGlyphs">M281: PID FAK PATHWAY</text>
<text x="1318.0" y="1634.4" font-size="22.85" textLength="347.7" lengthAdjust="spacingAndGlyphs">GO:0007584: response to nutrient</text>
<text x="1318.0" y="1656.2" font-size="22.85" textLength="258.5" lengthAdjust="spacingAndGlyphs">ko04114: Oocyte meiosis</text>
<text x="1318.0" y="1678.1" font-size="22.85" textLength="559.1" lengthAdjust="spacingAndGlyphs">GO:0000722: telomere maintenance via recombination</text>
<text x="1318.0" y="1700.0" font-size="22.85" textLength="276.9" lengthAdjust="spacingAndGlyphs">GO:0008380: RNA splicing</text>
<text x="1318.0" y="1721.9" font-size="22.85" textLength="618.0" lengthAdjust="spacingAndGlyphs">GO:0071417: cellular response to organonitrogen compound</text>
<text x="1318.0" y="1743.8" font-size="22.85" textLength="478.1" lengthAdjust="spacingAndGlyphs">ko00270: Cysteine and methionine metabolism</text>
<text x="1318.0" y="1765.6" font-size="22.85" textLength="291.4" lengthAdjust="spacingAndGlyphs">M129: PID PLK1 PATHWAY</text>
<text x="1318.0" y="1787.5" font-size="22.85" textLength="469.7" lengthAdjust="spacingAndGlyphs">M239: PID A6B1 A6B4 INTEGRIN PATHWAY</text>
<text x="1318.0" y="1809.4" font-size="22.85" textLength="658.4" lengthAdjust="spacingAndGlyphs">GO:0006890: retrograde vesicle-mediated transport, Golgi to ER</text>
<text x="1318.0" y="1831.2" font-size="22.85" textLength="365.1" lengthAdjust="spacingAndGlyphs">GO:0010038: response to metal ion</text>
<text x="1318.0" y="1853.1" font-size="22.85" textLength="452.0" lengthAdjust="spacingAndGlyphs">GO:0006984: ER-nucleus signaling pathway</text>
</svg>
</body></html>
